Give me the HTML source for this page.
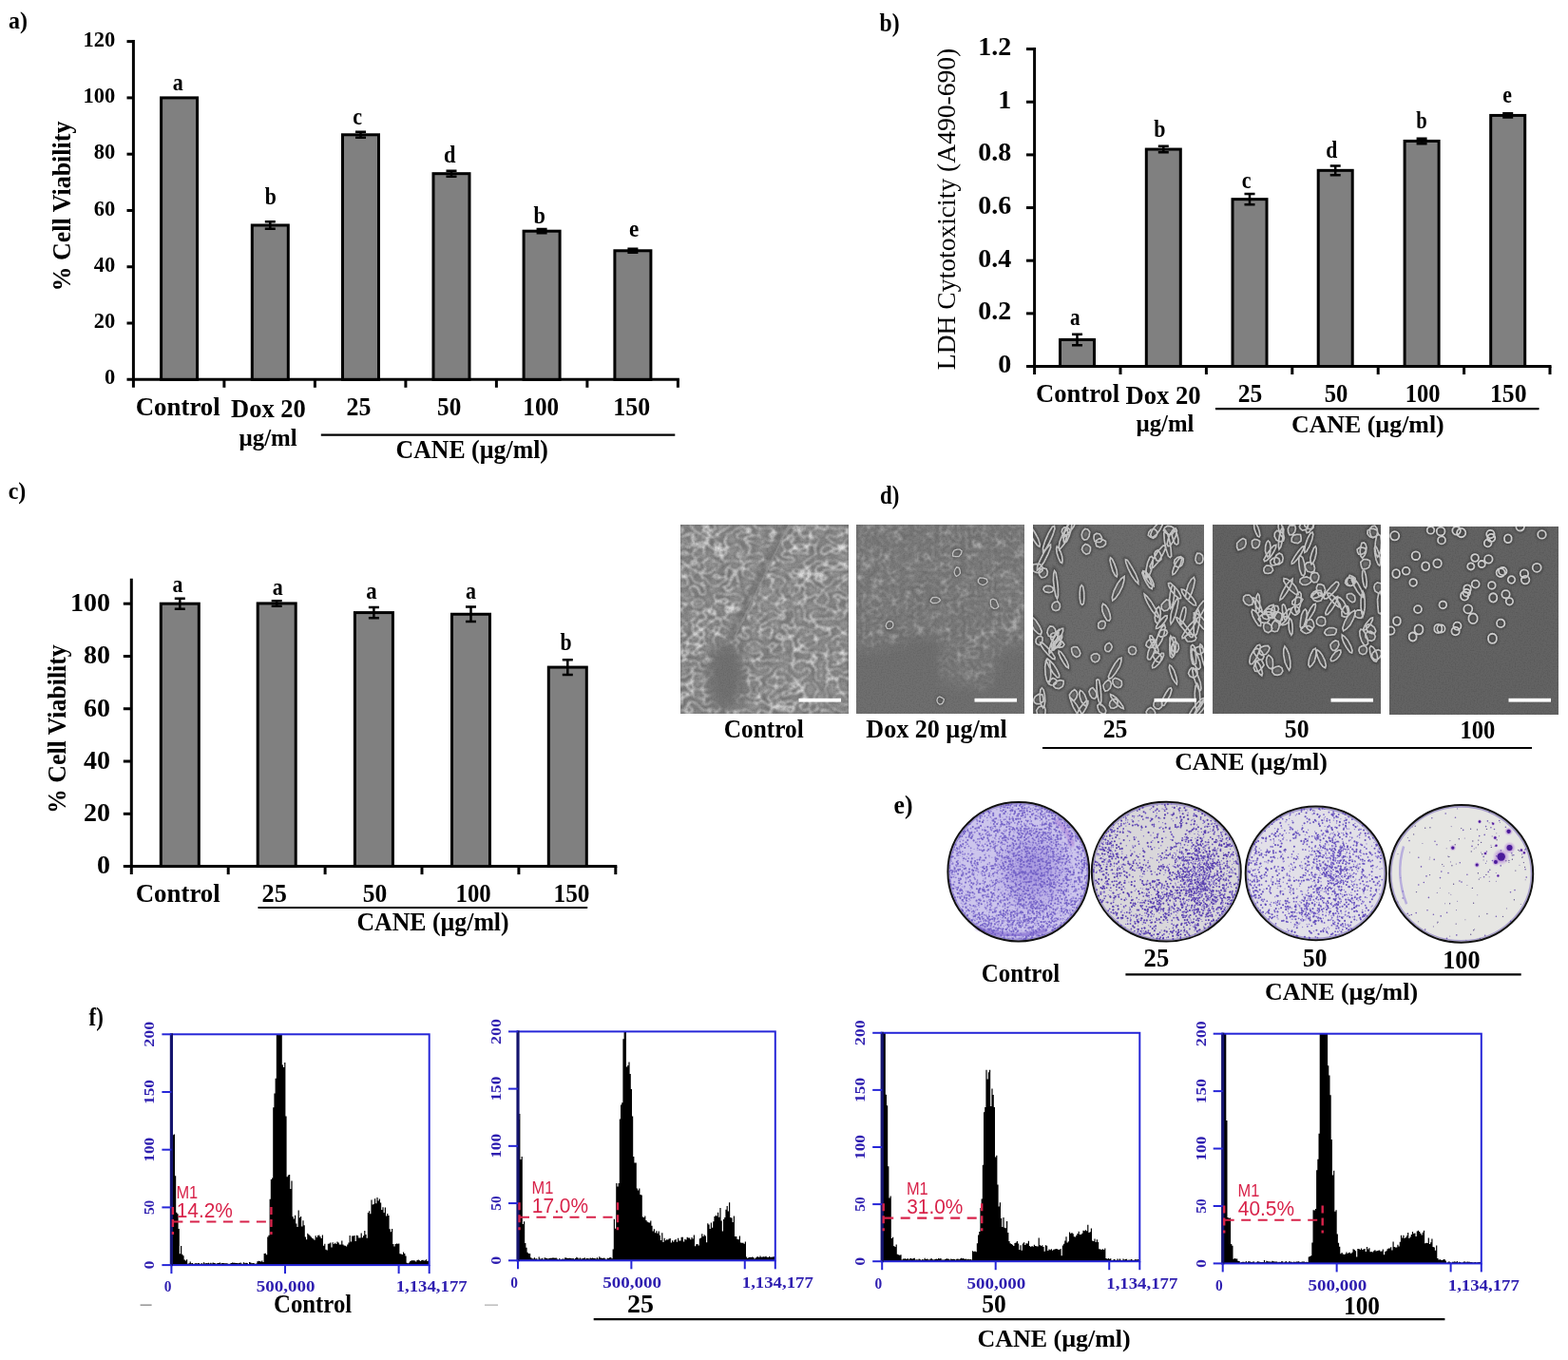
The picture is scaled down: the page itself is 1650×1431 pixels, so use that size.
<!DOCTYPE html>
<html><head><meta charset="utf-8"><title>Figure</title>
<style>html,body{margin:0;padding:0;background:#fff;overflow:hidden;} svg{display:block;}</style></head>
<body><svg width="1650" height="1431" viewBox="0 0 1650 1431">
<defs><filter id="sf" x="-10%" y="-10%" width="120%" height="120%"><feGaussianBlur stdDeviation="0.55"/></filter><filter id="sf2" x="-10%" y="-10%" width="120%" height="120%"><feGaussianBlur stdDeviation="1.2"/></filter><filter id="bl4" x="-50%" y="-50%" width="200%" height="200%"><feGaussianBlur stdDeviation="7"/></filter><filter id="grain" x="0" y="0" width="100%" height="100%"><feTurbulence type="fractalNoise" baseFrequency="0.7" numOctaves="1" seed="4"/><feColorMatrix type="matrix" values="0 0 0 0 0  0 0 0 0 0  0 0 0 0 0  0 0 0 -2.2 1.25"/><feComposite in2="SourceGraphic" operator="in"/></filter><filter id="cellnet" x="0" y="0" width="100%" height="100%"><feTurbulence type="turbulence" baseFrequency="0.085 0.115" numOctaves="1" seed="2" result="t"/><feColorMatrix in="t" type="matrix" values="0 0 0 0 0.86  0 0 0 0 0.86  0 0 0 0 0.86  -10 0 0 0 0.95" result="lines"/><feColorMatrix in="t" type="matrix" values="0 0 0 0 0.3  0 0 0 0 0.3  0 0 0 0 0.3  2.5 0 0 0 -0.2" result="dark"/><feMerge><feMergeNode in="dark"/><feMergeNode in="lines"/></feMerge><feGaussianBlur stdDeviation="0.85"/><feComposite in2="SourceGraphic" operator="in"/></filter><mask id="m0" maskUnits="userSpaceOnUse" x="716" y="552" width="177" height="199"><rect x="716" y="552" width="177" height="199" fill="#fff"/><ellipse cx="763.8" cy="711.2" rx="20" ry="38" fill="#000" filter="url(#bl4)"/><path d="M829.3,547.0 L769.1,671.4" stroke="#000" stroke-width="9" opacity="0.7" filter="url(#sf2)"/></mask><filter id="cellnet2" x="0" y="0" width="100%" height="100%"><feTurbulence type="turbulence" baseFrequency="0.11 0.13" numOctaves="1" seed="5" result="t"/><feColorMatrix in="t" type="matrix" values="0 0 0 0 0.66  0 0 0 0 0.66  0 0 0 0 0.66  -12 0 0 0 0.85" result="lines"/><feColorMatrix in="t" type="matrix" values="0 0 0 0 0.25  0 0 0 0 0.25  0 0 0 0 0.25  2.2 0 0 0 -0.3" result="dark"/><feMerge><feMergeNode in="dark"/><feMergeNode in="lines"/></feMerge><feGaussianBlur stdDeviation="0.95"/><feComposite in2="SourceGraphic" operator="in"/></filter><mask id="m1" maskUnits="userSpaceOnUse" x="901" y="552" width="177" height="199"><path d="M891,542 H1088 V675.4 L1051.5,683.3 L1039.1,723.1 L993.0,719.2 L989.5,661.5 L936.4,679.4 L891,687.3Z" fill="#fff" opacity="0.8" filter="url(#bl4)"/></mask><radialGradient id="p0g"><stop offset="0" stop-color="#8a74d6" stop-opacity="0.55"/><stop offset="1" stop-color="#8a74d6" stop-opacity="0"/></radialGradient><radialGradient id="colh"><stop offset="0.35" stop-color="#7a2cc0" stop-opacity="0.55"/><stop offset="1" stop-color="#b070e0" stop-opacity="0"/></radialGradient></defs>
<text x="9.10" y="29.70" font-size="26" font-weight="bold" fill="#000" font-family="'Liberation Serif', 'Times New Roman', serif" textLength="20.00" lengthAdjust="spacingAndGlyphs">a)</text>
<line x1="140.40" y1="42.10" x2="140.40" y2="407.80" stroke="#000" stroke-width="3"/>
<line x1="133.50" y1="399.30" x2="714.90" y2="399.30" stroke="#000" stroke-width="3"/>
<text x="121.30" y="404.40" font-size="22.5" font-weight="bold" fill="#000" font-family="'Liberation Serif', 'Times New Roman', serif" text-anchor="end">0</text>
<line x1="133.50" y1="340.02" x2="140.40" y2="340.02" stroke="#000" stroke-width="3"/>
<text x="121.30" y="345.12" font-size="22.5" font-weight="bold" fill="#000" font-family="'Liberation Serif', 'Times New Roman', serif" text-anchor="end">20</text>
<line x1="133.50" y1="280.74" x2="140.40" y2="280.74" stroke="#000" stroke-width="3"/>
<text x="121.30" y="285.84" font-size="22.5" font-weight="bold" fill="#000" font-family="'Liberation Serif', 'Times New Roman', serif" text-anchor="end">40</text>
<line x1="133.50" y1="221.46" x2="140.40" y2="221.46" stroke="#000" stroke-width="3"/>
<text x="121.30" y="226.56" font-size="22.5" font-weight="bold" fill="#000" font-family="'Liberation Serif', 'Times New Roman', serif" text-anchor="end">60</text>
<line x1="133.50" y1="162.18" x2="140.40" y2="162.18" stroke="#000" stroke-width="3"/>
<text x="121.30" y="167.28" font-size="22.5" font-weight="bold" fill="#000" font-family="'Liberation Serif', 'Times New Roman', serif" text-anchor="end">80</text>
<line x1="133.50" y1="102.90" x2="140.40" y2="102.90" stroke="#000" stroke-width="3"/>
<text x="121.30" y="108.00" font-size="22.5" font-weight="bold" fill="#000" font-family="'Liberation Serif', 'Times New Roman', serif" text-anchor="end">100</text>
<line x1="133.50" y1="43.62" x2="140.40" y2="43.62" stroke="#000" stroke-width="3"/>
<text x="121.30" y="48.72" font-size="22.5" font-weight="bold" fill="#000" font-family="'Liberation Serif', 'Times New Roman', serif" text-anchor="end">120</text>
<line x1="235.90" y1="399.30" x2="235.90" y2="407.80" stroke="#000" stroke-width="3"/>
<line x1="331.40" y1="399.30" x2="331.40" y2="407.80" stroke="#000" stroke-width="3"/>
<line x1="426.90" y1="399.30" x2="426.90" y2="407.80" stroke="#000" stroke-width="3"/>
<line x1="522.40" y1="399.30" x2="522.40" y2="407.80" stroke="#000" stroke-width="3"/>
<line x1="617.90" y1="399.30" x2="617.90" y2="407.80" stroke="#000" stroke-width="3"/>
<line x1="713.40" y1="399.30" x2="713.40" y2="407.80" stroke="#000" stroke-width="3"/>
<rect x="169.60" y="102.90" width="38.00" height="296.40" fill="#808080" stroke="#000" stroke-width="3"/>
<rect x="265.30" y="236.99" width="38.00" height="162.31" fill="#808080" stroke="#000" stroke-width="3"/>
<path d="M284.30 233.23V240.76M278.80 233.23H289.80M278.80 240.76H289.80" stroke="#000" stroke-width="2.5" fill="none"/>
<rect x="360.50" y="141.79" width="38.00" height="257.51" fill="#808080" stroke="#000" stroke-width="3"/>
<path d="M379.50 138.82V144.75M374.00 138.82H385.00M374.00 144.75H385.00" stroke="#000" stroke-width="2.5" fill="none"/>
<rect x="456.00" y="182.69" width="38.00" height="216.61" fill="#808080" stroke="#000" stroke-width="3"/>
<path d="M475.00 179.73V185.65M469.50 179.73H480.50M469.50 185.65H480.50" stroke="#000" stroke-width="2.5" fill="none"/>
<rect x="551.10" y="243.19" width="38.00" height="156.11" fill="#808080" stroke="#000" stroke-width="3"/>
<path d="M570.10 241.11V245.26M564.60 241.11H575.60M564.60 245.26H575.60" stroke="#000" stroke-width="2.5" fill="none"/>
<rect x="646.90" y="263.79" width="38.00" height="135.51" fill="#808080" stroke="#000" stroke-width="3"/>
<path d="M665.90 261.71V265.86M660.40 261.71H671.40M660.40 265.86H671.40" stroke="#000" stroke-width="2.5" fill="none"/>
<text x="74.50" y="306.60" font-size="27.5" font-weight="bold" fill="#000" font-family="'Liberation Serif', 'Times New Roman', serif" textLength="179.00" lengthAdjust="spacingAndGlyphs" transform="rotate(-90 74.50 306.60)">% Cell Viability</text>
<text x="181.80" y="95.00" font-size="25" font-weight="bold" fill="#000" font-family="'Liberation Serif', 'Times New Roman', serif" textLength="11.00" lengthAdjust="spacingAndGlyphs">a</text>
<text x="278.80" y="215.30" font-size="25" font-weight="bold" fill="#000" font-family="'Liberation Serif', 'Times New Roman', serif" textLength="12.10" lengthAdjust="spacingAndGlyphs">b</text>
<text x="371.20" y="130.50" font-size="25" font-weight="bold" fill="#000" font-family="'Liberation Serif', 'Times New Roman', serif" textLength="9.80" lengthAdjust="spacingAndGlyphs">c</text>
<text x="467.00" y="170.60" font-size="25" font-weight="bold" fill="#000" font-family="'Liberation Serif', 'Times New Roman', serif" textLength="12.50" lengthAdjust="spacingAndGlyphs">d</text>
<text x="561.40" y="234.50" font-size="25" font-weight="bold" fill="#000" font-family="'Liberation Serif', 'Times New Roman', serif" textLength="12.40" lengthAdjust="spacingAndGlyphs">b</text>
<text x="661.90" y="249.00" font-size="25" font-weight="bold" fill="#000" font-family="'Liberation Serif', 'Times New Roman', serif" textLength="10.30" lengthAdjust="spacingAndGlyphs">e</text>
<text x="142.70" y="436.80" font-size="27.5" font-weight="bold" fill="#000" font-family="'Liberation Serif', 'Times New Roman', serif" textLength="89.10" lengthAdjust="spacingAndGlyphs">Control</text>
<text x="243.00" y="438.60" font-size="27.3" font-weight="bold" fill="#000" font-family="'Liberation Serif', 'Times New Roman', serif" textLength="78.80" lengthAdjust="spacingAndGlyphs">Dox 20</text>
<text x="251.50" y="468.60" font-size="25.5" font-weight="bold" fill="#000" font-family="'Liberation Serif', 'Times New Roman', serif" textLength="61.20" lengthAdjust="spacingAndGlyphs">µg/ml</text>
<text x="364.50" y="436.80" font-size="26.8" font-weight="bold" fill="#000" font-family="'Liberation Serif', 'Times New Roman', serif" textLength="25.90" lengthAdjust="spacingAndGlyphs">25</text>
<text x="460.10" y="436.80" font-size="26.8" font-weight="bold" fill="#000" font-family="'Liberation Serif', 'Times New Roman', serif" textLength="25.20" lengthAdjust="spacingAndGlyphs">50</text>
<text x="550.30" y="436.80" font-size="26.8" font-weight="bold" fill="#000" font-family="'Liberation Serif', 'Times New Roman', serif" textLength="37.80" lengthAdjust="spacingAndGlyphs">100</text>
<text x="645.30" y="436.80" font-size="26.8" font-weight="bold" fill="#000" font-family="'Liberation Serif', 'Times New Roman', serif" textLength="38.80" lengthAdjust="spacingAndGlyphs">150</text>
<line x1="337.80" y1="457.70" x2="710.30" y2="457.70" stroke="#000" stroke-width="2.2"/>
<text x="416.50" y="481.70" font-size="27" font-weight="bold" fill="#000" font-family="'Liberation Serif', 'Times New Roman', serif" textLength="160.41" lengthAdjust="spacingAndGlyphs">CANE (µg/ml)</text>
<text x="925.50" y="32.60" font-size="26.5" font-weight="bold" fill="#000" font-family="'Liberation Serif', 'Times New Roman', serif" textLength="21.10" lengthAdjust="spacingAndGlyphs">b)</text>
<line x1="1088.60" y1="50.10" x2="1088.60" y2="394.00" stroke="#000" stroke-width="3"/>
<line x1="1080.00" y1="385.50" x2="1632.50" y2="385.50" stroke="#000" stroke-width="3"/>
<text x="1064.20" y="391.80" font-size="28" font-weight="bold" fill="#000" font-family="'Liberation Serif', 'Times New Roman', serif" text-anchor="end">0</text>
<line x1="1080.00" y1="329.85" x2="1088.60" y2="329.85" stroke="#000" stroke-width="3"/>
<text x="1064.20" y="336.15" font-size="28" font-weight="bold" fill="#000" font-family="'Liberation Serif', 'Times New Roman', serif" text-anchor="end">0.2</text>
<line x1="1080.00" y1="274.20" x2="1088.60" y2="274.20" stroke="#000" stroke-width="3"/>
<text x="1064.20" y="280.50" font-size="28" font-weight="bold" fill="#000" font-family="'Liberation Serif', 'Times New Roman', serif" text-anchor="end">0.4</text>
<line x1="1080.00" y1="218.55" x2="1088.60" y2="218.55" stroke="#000" stroke-width="3"/>
<text x="1064.20" y="224.85" font-size="28" font-weight="bold" fill="#000" font-family="'Liberation Serif', 'Times New Roman', serif" text-anchor="end">0.6</text>
<line x1="1080.00" y1="162.90" x2="1088.60" y2="162.90" stroke="#000" stroke-width="3"/>
<text x="1064.20" y="169.20" font-size="28" font-weight="bold" fill="#000" font-family="'Liberation Serif', 'Times New Roman', serif" text-anchor="end">0.8</text>
<line x1="1080.00" y1="107.25" x2="1088.60" y2="107.25" stroke="#000" stroke-width="3"/>
<text x="1064.20" y="113.55" font-size="28" font-weight="bold" fill="#000" font-family="'Liberation Serif', 'Times New Roman', serif" text-anchor="end">1</text>
<line x1="1080.00" y1="51.60" x2="1088.60" y2="51.60" stroke="#000" stroke-width="3"/>
<text x="1064.20" y="57.90" font-size="28" font-weight="bold" fill="#000" font-family="'Liberation Serif', 'Times New Roman', serif" text-anchor="end">1.2</text>
<line x1="1179.00" y1="385.50" x2="1179.00" y2="394.00" stroke="#000" stroke-width="3"/>
<line x1="1269.40" y1="385.50" x2="1269.40" y2="394.00" stroke="#000" stroke-width="3"/>
<line x1="1359.80" y1="385.50" x2="1359.80" y2="394.00" stroke="#000" stroke-width="3"/>
<line x1="1450.20" y1="385.50" x2="1450.20" y2="394.00" stroke="#000" stroke-width="3"/>
<line x1="1540.60" y1="385.50" x2="1540.60" y2="394.00" stroke="#000" stroke-width="3"/>
<line x1="1631.00" y1="385.50" x2="1631.00" y2="394.00" stroke="#000" stroke-width="3"/>
<rect x="1115.50" y="357.40" width="36.00" height="28.10" fill="#808080" stroke="#000" stroke-width="3"/>
<path d="M1133.50 351.64V363.16M1128.00 351.64H1139.00M1128.00 363.16H1139.00" stroke="#000" stroke-width="2.5" fill="none"/>
<rect x="1206.30" y="157.06" width="36.00" height="228.44" fill="#808080" stroke="#000" stroke-width="3"/>
<path d="M1224.30 153.86V160.26M1218.80 153.86H1229.80M1218.80 160.26H1229.80" stroke="#000" stroke-width="2.5" fill="none"/>
<rect x="1297.00" y="209.65" width="36.00" height="175.85" fill="#808080" stroke="#000" stroke-width="3"/>
<path d="M1315.00 203.94V215.35M1309.50 203.94H1320.50M1309.50 215.35H1320.50" stroke="#000" stroke-width="2.5" fill="none"/>
<rect x="1387.20" y="179.32" width="36.00" height="206.18" fill="#808080" stroke="#000" stroke-width="3"/>
<path d="M1405.20 174.50V184.13M1399.70 174.50H1410.70M1399.70 184.13H1410.70" stroke="#000" stroke-width="2.5" fill="none"/>
<rect x="1478.10" y="148.43" width="36.00" height="237.07" fill="#808080" stroke="#000" stroke-width="3"/>
<path d="M1496.10 145.73V151.13M1490.60 145.73H1501.60M1490.60 151.13H1501.60" stroke="#000" stroke-width="2.5" fill="none"/>
<rect x="1568.70" y="121.44" width="36.00" height="264.06" fill="#808080" stroke="#000" stroke-width="3"/>
<path d="M1586.70 119.35V123.53M1581.20 119.35H1592.20M1581.20 123.53H1592.20" stroke="#000" stroke-width="2.5" fill="none"/>
<text x="1005.20" y="389.20" font-size="26.5" font-weight="normal" fill="#000" font-family="'Liberation Serif', 'Times New Roman', serif" textLength="338.51" lengthAdjust="spacingAndGlyphs" transform="rotate(-90 1005.20 389.20)">LDH Cytotoxicity (A490-690)</text>
<text x="1125.90" y="342.20" font-size="24.5" font-weight="bold" fill="#000" font-family="'Liberation Serif', 'Times New Roman', serif" textLength="10.60" lengthAdjust="spacingAndGlyphs">a</text>
<text x="1214.20" y="143.80" font-size="24.5" font-weight="bold" fill="#000" font-family="'Liberation Serif', 'Times New Roman', serif" textLength="12.20" lengthAdjust="spacingAndGlyphs">b</text>
<text x="1306.70" y="197.60" font-size="24.5" font-weight="bold" fill="#000" font-family="'Liberation Serif', 'Times New Roman', serif" textLength="9.80" lengthAdjust="spacingAndGlyphs">c</text>
<text x="1395.30" y="165.80" font-size="24.5" font-weight="bold" fill="#000" font-family="'Liberation Serif', 'Times New Roman', serif" textLength="12.10" lengthAdjust="spacingAndGlyphs">d</text>
<text x="1490.30" y="135.20" font-size="24.5" font-weight="bold" fill="#000" font-family="'Liberation Serif', 'Times New Roman', serif" textLength="11.50" lengthAdjust="spacingAndGlyphs">b</text>
<text x="1581.20" y="108.10" font-size="24.5" font-weight="bold" fill="#000" font-family="'Liberation Serif', 'Times New Roman', serif" textLength="9.70" lengthAdjust="spacingAndGlyphs">e</text>
<text x="1090.00" y="423.20" font-size="26.5" font-weight="bold" fill="#000" font-family="'Liberation Serif', 'Times New Roman', serif" textLength="88.20" lengthAdjust="spacingAndGlyphs">Control</text>
<text x="1184.50" y="424.50" font-size="27" font-weight="bold" fill="#000" font-family="'Liberation Serif', 'Times New Roman', serif" textLength="79.10" lengthAdjust="spacingAndGlyphs">Dox 20</text>
<text x="1195.50" y="454.00" font-size="25.5" font-weight="bold" fill="#000" font-family="'Liberation Serif', 'Times New Roman', serif" textLength="60.90" lengthAdjust="spacingAndGlyphs">µg/ml</text>
<text x="1302.70" y="422.60" font-size="27" font-weight="bold" fill="#000" font-family="'Liberation Serif', 'Times New Roman', serif" textLength="25.50" lengthAdjust="spacingAndGlyphs">25</text>
<text x="1393.70" y="422.60" font-size="27" font-weight="bold" fill="#000" font-family="'Liberation Serif', 'Times New Roman', serif" textLength="24.60" lengthAdjust="spacingAndGlyphs">50</text>
<text x="1478.80" y="422.60" font-size="27" font-weight="bold" fill="#000" font-family="'Liberation Serif', 'Times New Roman', serif" textLength="36.80" lengthAdjust="spacingAndGlyphs">100</text>
<text x="1568.00" y="422.60" font-size="27" font-weight="bold" fill="#000" font-family="'Liberation Serif', 'Times New Roman', serif" textLength="38.50" lengthAdjust="spacingAndGlyphs">150</text>
<line x1="1279.00" y1="430.20" x2="1619.50" y2="430.20" stroke="#000" stroke-width="2.2"/>
<text x="1359.00" y="454.70" font-size="26" font-weight="bold" fill="#000" font-family="'Liberation Serif', 'Times New Roman', serif" textLength="160.71" lengthAdjust="spacingAndGlyphs">CANE (µg/ml)</text>
<text x="8.70" y="525.10" font-size="26" font-weight="bold" fill="#000" font-family="'Liberation Serif', 'Times New Roman', serif" textLength="18.60" lengthAdjust="spacingAndGlyphs">c)</text>
<line x1="138.30" y1="608.70" x2="138.30" y2="920.10" stroke="#000" stroke-width="3"/>
<line x1="129.80" y1="911.60" x2="649.30" y2="911.60" stroke="#000" stroke-width="3"/>
<text x="115.90" y="919.40" font-size="28" font-weight="bold" fill="#000" font-family="'Liberation Serif', 'Times New Roman', serif" text-anchor="end">0</text>
<line x1="129.80" y1="856.32" x2="138.30" y2="856.32" stroke="#000" stroke-width="3"/>
<text x="115.90" y="864.12" font-size="28" font-weight="bold" fill="#000" font-family="'Liberation Serif', 'Times New Roman', serif" text-anchor="end">20</text>
<line x1="129.80" y1="801.04" x2="138.30" y2="801.04" stroke="#000" stroke-width="3"/>
<text x="115.90" y="808.84" font-size="28" font-weight="bold" fill="#000" font-family="'Liberation Serif', 'Times New Roman', serif" text-anchor="end">40</text>
<line x1="129.80" y1="745.76" x2="138.30" y2="745.76" stroke="#000" stroke-width="3"/>
<text x="115.90" y="753.56" font-size="28" font-weight="bold" fill="#000" font-family="'Liberation Serif', 'Times New Roman', serif" text-anchor="end">60</text>
<line x1="129.80" y1="690.48" x2="138.30" y2="690.48" stroke="#000" stroke-width="3"/>
<text x="115.90" y="698.28" font-size="28" font-weight="bold" fill="#000" font-family="'Liberation Serif', 'Times New Roman', serif" text-anchor="end">80</text>
<line x1="129.80" y1="635.20" x2="138.30" y2="635.20" stroke="#000" stroke-width="3"/>
<text x="115.90" y="643.00" font-size="28" font-weight="bold" fill="#000" font-family="'Liberation Serif', 'Times New Roman', serif" text-anchor="end">100</text>
<line x1="240.20" y1="911.60" x2="240.20" y2="920.10" stroke="#000" stroke-width="3"/>
<line x1="342.10" y1="911.60" x2="342.10" y2="920.10" stroke="#000" stroke-width="3"/>
<line x1="444.00" y1="911.60" x2="444.00" y2="920.10" stroke="#000" stroke-width="3"/>
<line x1="545.90" y1="911.60" x2="545.90" y2="920.10" stroke="#000" stroke-width="3"/>
<line x1="647.80" y1="911.60" x2="647.80" y2="920.10" stroke="#000" stroke-width="3"/>
<rect x="169.30" y="635.20" width="40.00" height="276.40" fill="#808080" stroke="#000" stroke-width="3"/>
<path d="M189.30 629.67V640.73M183.80 629.67H194.80M183.80 640.73H194.80" stroke="#000" stroke-width="2.5" fill="none"/>
<rect x="271.20" y="634.92" width="40.00" height="276.68" fill="#808080" stroke="#000" stroke-width="3"/>
<path d="M291.20 632.16V637.69M285.70 632.16H296.70M285.70 637.69H296.70" stroke="#000" stroke-width="2.5" fill="none"/>
<rect x="373.40" y="644.60" width="40.00" height="267.00" fill="#808080" stroke="#000" stroke-width="3"/>
<path d="M393.40 639.07V650.13M387.90 639.07H398.90M387.90 650.13H398.90" stroke="#000" stroke-width="2.5" fill="none"/>
<rect x="475.50" y="646.26" width="40.00" height="265.34" fill="#808080" stroke="#000" stroke-width="3"/>
<path d="M495.50 638.41V654.11M490.00 638.41H501.00M490.00 654.11H501.00" stroke="#000" stroke-width="2.5" fill="none"/>
<rect x="577.30" y="702.09" width="40.00" height="209.51" fill="#808080" stroke="#000" stroke-width="3"/>
<path d="M597.30 694.18V709.99M591.80 694.18H602.80M591.80 709.99H602.80" stroke="#000" stroke-width="2.5" fill="none"/>
<text x="69.50" y="855.90" font-size="27.5" font-weight="bold" fill="#000" font-family="'Liberation Serif', 'Times New Roman', serif" textLength="177.60" lengthAdjust="spacingAndGlyphs" transform="rotate(-90 69.50 855.90)">% Cell Viability</text>
<text x="181.60" y="622.90" font-size="26" font-weight="bold" fill="#000" font-family="'Liberation Serif', 'Times New Roman', serif" textLength="10.90" lengthAdjust="spacingAndGlyphs">a</text>
<text x="286.80" y="625.50" font-size="26" font-weight="bold" fill="#000" font-family="'Liberation Serif', 'Times New Roman', serif" textLength="11.00" lengthAdjust="spacingAndGlyphs">a</text>
<text x="385.30" y="630.30" font-size="26" font-weight="bold" fill="#000" font-family="'Liberation Serif', 'Times New Roman', serif" textLength="11.40" lengthAdjust="spacingAndGlyphs">a</text>
<text x="490.00" y="630.30" font-size="26" font-weight="bold" fill="#000" font-family="'Liberation Serif', 'Times New Roman', serif" textLength="11.00" lengthAdjust="spacingAndGlyphs">a</text>
<text x="589.40" y="683.60" font-size="26" font-weight="bold" fill="#000" font-family="'Liberation Serif', 'Times New Roman', serif" textLength="12.10" lengthAdjust="spacingAndGlyphs">b</text>
<text x="142.70" y="949.30" font-size="27.5" font-weight="bold" fill="#000" font-family="'Liberation Serif', 'Times New Roman', serif" textLength="89.10" lengthAdjust="spacingAndGlyphs">Control</text>
<text x="275.50" y="949.30" font-size="27.5" font-weight="bold" fill="#000" font-family="'Liberation Serif', 'Times New Roman', serif" textLength="26.30" lengthAdjust="spacingAndGlyphs">25</text>
<text x="381.80" y="949.30" font-size="27.5" font-weight="bold" fill="#000" font-family="'Liberation Serif', 'Times New Roman', serif" textLength="25.50" lengthAdjust="spacingAndGlyphs">50</text>
<text x="479.50" y="949.30" font-size="27.5" font-weight="bold" fill="#000" font-family="'Liberation Serif', 'Times New Roman', serif" textLength="37.20" lengthAdjust="spacingAndGlyphs">100</text>
<text x="582.60" y="949.30" font-size="27.5" font-weight="bold" fill="#000" font-family="'Liberation Serif', 'Times New Roman', serif" textLength="37.90" lengthAdjust="spacingAndGlyphs">150</text>
<line x1="271.50" y1="955.00" x2="618.20" y2="955.00" stroke="#000" stroke-width="2.2"/>
<text x="375.50" y="979.00" font-size="26.5" font-weight="bold" fill="#000" font-family="'Liberation Serif', 'Times New Roman', serif" textLength="160.11" lengthAdjust="spacingAndGlyphs">CANE (µg/ml)</text>
<text x="925.90" y="529.70" font-size="26.5" font-weight="bold" fill="#000" font-family="'Liberation Serif', 'Times New Roman', serif" textLength="20.40" lengthAdjust="spacingAndGlyphs">d)</text>
<clipPath id="ci0"><rect x="716.0" y="552.0" width="177.0" height="199.0"/></clipPath>
<g clip-path="url(#ci0)">
<rect x="716.0" y="552.0" width="177.0" height="199.0" fill="#717171"/>
<g mask="url(#m0)"><rect x="716" y="552" width="177" height="199" fill="#fff" filter="url(#cellnet)"/></g>
<path d="M832.8,547.0 L772.6,671.4" stroke="#9a9a9a" stroke-width="2" opacity="0.6" filter="url(#sf)"/>
<rect x="716.0" y="552.0" width="177.0" height="199.0" fill="#000" filter="url(#grain)" opacity="0.12"/>
</g>
<rect x="840.5" y="734.8" width="44.5" height="3.8" fill="#fff"/>
<clipPath id="ci1"><rect x="901.0" y="552.0" width="177.0" height="199.0"/></clipPath>
<g clip-path="url(#ci1)">
<rect x="901.0" y="552.0" width="177.0" height="199.0" fill="#6f6f6f"/>
<g mask="url(#m1)"><rect x="901" y="552" width="177" height="199" fill="#fff" filter="url(#cellnet2)"/></g>
<path d="M1002.8,585.1L1002.5,582.2L1004.0,579.2L1007.2,578.2L1010.1,578.1L1012.2,579.9L1011.3,583.0L1008.9,585.6L1005.8,585.7Z M1006.5,606.5L1004.9,604.7L1004.1,602.1L1004.9,599.2L1006.7,596.8L1009.0,597.3L1010.1,600.0L1010.5,603.1L1008.6,605.3Z M989.6,631.6L987.7,633.5L985.0,634.5L981.4,634.6L979.1,632.7L979.8,630.6L981.5,628.6L985.1,628.5L988.1,629.5Z M933.7,661.4L932.1,658.9L932.9,656.0L934.8,653.9L937.5,653.7L939.5,655.1L940.0,657.6L939.1,660.1L936.6,661.7Z M991.4,740.4L988.9,741.2L986.7,739.4L985.9,736.9L986.6,734.4L988.7,733.0L991.1,734.1L993.4,735.8L992.7,738.4Z M1039.2,612.0L1037.4,614.3L1034.4,615.6L1031.3,614.5L1029.4,612.6L1029.4,610.2L1031.1,607.9L1034.8,608.2L1038.1,609.3Z M1048.6,640.2L1045.8,640.4L1043.0,638.4L1042.3,634.9L1042.4,631.5L1044.9,630.1L1048.0,631.3L1049.6,634.7L1050.8,638.3Z" fill="#5a5a5a" fill-opacity="0.3" stroke="#404040" stroke-opacity="0.5" stroke-width="3.4" filter="url(#sf2)"/>
<path d="M1002.8,585.1L1002.5,582.2L1004.0,579.2L1007.2,578.2L1010.1,578.1L1012.2,579.9L1011.3,583.0L1008.9,585.6L1005.8,585.7Z M1006.5,606.5L1004.9,604.7L1004.1,602.1L1004.9,599.2L1006.7,596.8L1009.0,597.3L1010.1,600.0L1010.5,603.1L1008.6,605.3Z M989.6,631.6L987.7,633.5L985.0,634.5L981.4,634.6L979.1,632.7L979.8,630.6L981.5,628.6L985.1,628.5L988.1,629.5Z M933.7,661.4L932.1,658.9L932.9,656.0L934.8,653.9L937.5,653.7L939.5,655.1L940.0,657.6L939.1,660.1L936.6,661.7Z M991.4,740.4L988.9,741.2L986.7,739.4L985.9,736.9L986.6,734.4L988.7,733.0L991.1,734.1L993.4,735.8L992.7,738.4Z M1039.2,612.0L1037.4,614.3L1034.4,615.6L1031.3,614.5L1029.4,612.6L1029.4,610.2L1031.1,607.9L1034.8,608.2L1038.1,609.3Z M1048.6,640.2L1045.8,640.4L1043.0,638.4L1042.3,634.9L1042.4,631.5L1044.9,630.1L1048.0,631.3L1049.6,634.7L1050.8,638.3Z" fill="none" stroke="#d8d8d8" stroke-opacity="0.85" stroke-width="1.3" filter="url(#sf)"/>
<rect x="901.0" y="552.0" width="177.0" height="199.0" fill="#000" filter="url(#grain)" opacity="0.12"/>
</g>
<rect x="1025.5" y="734.8" width="44.5" height="3.8" fill="#fff"/>
<clipPath id="ci2"><rect x="1087.0" y="552.0" width="180.0" height="199.0"/></clipPath>
<g clip-path="url(#ci2)">
<rect x="1087.0" y="552.0" width="180.0" height="199.0" fill="#6c6c6c"/>
<path d="M1108.5,620.6L1107.2,622.6L1103.9,623.7L1099.8,622.7L1097.9,620.2L1098.7,617.9L1101.2,616.4L1104.9,616.6L1107.8,618.3Z M1248.7,630.4L1247.4,628.4L1248.4,622.1L1250.4,615.0L1253.5,609.9L1256.3,607.4L1257.4,610.6L1256.1,617.2L1254.0,624.0L1250.9,630.2Z M1114.6,578.5L1114.2,575.3L1115.1,570.0L1117.8,563.4L1120.7,559.3L1123.3,556.8L1123.7,559.9L1122.3,565.5L1120.1,572.0L1117.2,575.8Z M1212.7,755.2L1209.6,755.1L1207.2,752.6L1206.1,749.1L1207.9,746.2L1210.9,744.6L1213.9,746.6L1215.7,749.7L1215.1,753.1Z M1093.6,754.0L1091.6,751.4L1090.6,747.6L1093.0,744.0L1096.3,743.0L1099.1,743.9L1100.2,747.1L1099.9,751.2L1097.0,754.4Z M1232.1,656.6L1231.5,653.1L1232.2,646.3L1234.5,638.1L1237.0,632.5L1239.1,629.5L1240.0,632.3L1238.9,639.4L1236.9,647.2L1234.4,653.4Z M1097.6,744.8L1096.0,742.5L1094.6,737.8L1094.3,731.1L1094.9,725.6L1096.4,723.8L1098.1,725.8L1099.3,731.0L1099.8,737.4L1099.0,742.3Z M1179.1,722.9L1176.4,723.6L1173.3,722.2L1171.0,718.9L1171.0,715.3L1173.4,713.4L1176.8,714.5L1180.2,716.8L1180.5,720.5Z M1216.1,745.4L1213.9,742.7L1214.2,739.3L1216.2,736.6L1219.6,736.2L1222.4,738.0L1223.0,741.0L1222.2,744.0L1219.5,746.0Z M1231.3,586.6L1229.4,585.1L1227.1,577.9L1225.3,569.1L1224.8,561.0L1226.0,557.7L1228.3,560.9L1230.6,568.3L1232.1,577.0L1232.7,585.1Z M1108.7,722.0L1108.9,719.3L1111.6,716.9L1115.5,715.6L1119.1,716.5L1119.1,719.5L1118.0,722.4L1114.3,724.5L1110.7,723.9Z M1256.2,652.8L1256.1,649.4L1258.2,643.8L1262.0,637.5L1266.3,632.4L1268.7,632.4L1269.1,635.2L1267.3,640.7L1263.4,647.4L1259.4,651.0Z M1217.2,655.6L1215.8,653.8L1215.2,649.7L1215.9,644.2L1217.6,639.8L1219.5,638.3L1220.7,641.0L1221.3,645.0L1220.8,650.6L1219.1,655.1Z M1257.2,753.9L1256.7,751.4L1259.8,745.0L1265.1,737.9L1269.7,733.5L1272.6,732.2L1272.4,735.3L1269.4,741.3L1264.7,747.9L1259.7,753.4Z M1170.8,631.9L1170.3,628.5L1172.1,621.9L1176.0,614.0L1180.0,608.7L1183.1,606.5L1182.8,611.0L1181.1,617.1L1177.7,624.0L1173.9,629.3Z M1208.5,694.0L1207.4,692.0L1208.1,686.4L1210.5,680.0L1213.3,675.6L1215.9,673.4L1216.7,676.4L1216.0,681.8L1213.6,688.4L1210.5,694.0Z M1149.6,695.6L1148.3,692.9L1148.4,689.9L1150.9,688.0L1154.1,687.6L1156.8,689.6L1156.9,693.0L1155.3,695.6L1152.4,696.8Z M1135.6,690.3L1132.7,691.5L1129.3,689.1L1127.8,685.5L1127.6,682.0L1130.0,680.5L1133.4,680.8L1135.8,684.1L1136.9,687.6Z M1233.5,692.0L1231.4,690.6L1230.8,684.0L1230.9,677.3L1232.3,671.1L1234.4,670.4L1236.5,671.4L1237.4,677.5L1236.9,684.2L1235.6,689.7Z M1242.6,629.5L1240.6,629.9L1236.1,625.8L1232.0,620.8L1229.8,616.4L1229.5,613.7L1231.5,613.4L1236.0,617.3L1240.2,622.5L1242.4,626.9Z M1257.5,669.3L1256.3,666.0L1256.1,659.0L1257.3,651.0L1258.9,645.0L1260.8,641.2L1262.0,644.6L1262.4,651.1L1261.3,659.8L1259.4,666.8Z M1210.9,598.1L1210.0,595.9L1213.5,588.5L1218.4,580.3L1223.8,574.1L1226.2,574.1L1226.4,577.1L1223.3,584.0L1218.5,591.7L1213.7,597.0Z M1192.1,688.7L1189.7,688.3L1187.7,685.9L1187.7,682.3L1189.8,680.5L1192.2,680.4L1194.7,681.4L1195.7,684.8L1194.5,687.8Z M1211.4,564.7L1210.8,562.3L1212.4,558.0L1215.9,553.3L1219.8,549.7L1222.3,549.9L1223.2,552.2L1220.8,557.0L1217.5,561.8L1213.4,565.5Z M1164.4,685.5L1162.8,683.5L1162.8,680.5L1164.5,677.8L1167.3,676.4L1169.2,678.2L1170.3,680.6L1169.1,683.5L1167.0,685.7Z M1207.9,680.9L1205.8,678.9L1206.7,675.7L1209.0,673.4L1212.1,673.0L1214.6,674.6L1214.4,677.8L1213.3,680.7L1210.4,681.6Z M1175.2,606.8L1173.5,605.6L1171.0,600.9L1169.1,594.6L1168.0,589.4L1168.5,586.8L1170.2,588.1L1172.7,593.1L1175.0,599.6L1175.6,604.4Z M1112.5,630.2L1110.9,627.0L1109.5,619.7L1108.4,610.6L1108.7,604.0L1109.6,600.6L1111.1,602.7L1112.5,610.8L1113.4,619.3L1113.4,626.7Z M1126.2,559.9L1124.9,562.3L1121.9,562.9L1118.4,562.5L1117.3,559.6L1117.8,557.0L1119.9,554.8L1123.5,555.0L1125.8,557.3Z M1127.7,736.7L1125.9,734.6L1125.4,731.0L1127.7,727.8L1130.7,725.7L1133.0,727.7L1133.8,730.6L1132.8,734.0L1130.5,737.1Z M1103.9,719.8L1103.2,717.3L1105.5,715.2L1108.0,713.5L1110.4,714.5L1112.2,716.2L1111.4,718.9L1108.9,720.9L1106.1,721.0Z M1091.2,677.7L1090.0,675.7L1090.1,672.9L1092.1,670.3L1095.0,669.3L1097.1,670.9L1097.0,673.8L1096.1,676.8L1093.5,678.7Z M1263.4,726.5L1261.7,726.0L1258.6,719.5L1255.8,711.5L1254.8,705.2L1255.5,703.0L1257.5,704.7L1260.3,710.4L1263.2,718.3L1264.0,724.2Z M1234.8,690.4L1233.2,688.6L1231.9,683.1L1231.1,677.0L1231.0,671.6L1231.9,669.1L1233.4,671.3L1234.9,676.3L1235.9,683.0L1235.6,687.6Z M1106.3,680.3L1106.0,677.6L1108.5,672.1L1112.3,666.0L1116.5,661.5L1118.6,661.3L1118.6,664.2L1116.6,669.1L1112.9,674.9L1108.7,679.8Z M1252.1,753.8L1251.4,751.8L1254.8,745.9L1259.4,740.2L1264.2,735.5L1267.4,734.3L1267.0,737.7L1263.5,743.4L1259.1,749.7L1254.6,753.4Z M1151.8,735.3L1149.2,734.4L1147.2,731.7L1145.9,727.8L1147.4,724.9L1149.9,723.6L1152.3,726.4L1154.0,729.7L1153.6,733.2Z M1106.3,670.1L1103.3,669.1L1101.9,665.5L1102.8,661.8L1104.9,658.8L1108.1,659.2L1110.3,661.9L1111.2,665.7L1109.8,669.8Z M1108.6,680.5L1107.6,678.3L1109.5,675.4L1112.2,672.6L1115.3,672.9L1116.9,674.8L1116.2,677.8L1114.0,680.6L1110.6,682.3Z M1134.2,753.1L1133.6,751.0L1135.4,746.5L1139.0,741.7L1142.6,737.9L1144.9,737.7L1144.8,740.5L1143.0,744.7L1140.0,749.7L1136.5,752.7Z M1260.3,747.8L1258.5,746.0L1257.5,738.2L1257.2,729.5L1258.0,721.7L1259.7,719.2L1261.4,722.8L1262.5,729.5L1262.9,738.4L1262.0,745.9Z M1140.7,759.4L1138.6,758.3L1134.3,752.4L1129.4,744.1L1127.0,737.9L1126.1,733.8L1129.2,736.8L1133.3,742.1L1137.7,750.1L1140.7,756.9Z M1104.3,687.5L1103.8,685.2L1105.5,678.8L1108.5,671.2L1111.8,664.8L1114.0,662.8L1113.8,666.7L1112.3,672.8L1109.4,680.5L1106.4,685.4Z M1095.5,667.3L1092.6,666.8L1088.4,662.8L1085.1,657.0L1082.4,651.3L1083.6,649.1L1086.1,649.0L1090.3,653.2L1093.9,659.0L1096.3,664.6Z M1255.3,713.0L1252.2,711.6L1250.5,708.5L1251.7,705.2L1253.9,702.7L1256.8,703.3L1259.6,704.9L1260.2,708.6L1258.5,711.9Z M1114.5,712.6L1112.5,712.8L1108.1,708.0L1104.3,701.8L1101.3,696.0L1101.6,693.3L1104.4,694.7L1108.4,698.8L1112.3,704.8L1114.7,710.1Z M1216.8,681.4L1216.1,678.5L1217.3,672.2L1219.8,664.8L1222.9,659.6L1225.4,657.5L1226.3,660.2L1225.0,666.9L1222.4,674.3L1219.4,679.0Z M1254.9,670.5L1253.2,670.5L1247.8,664.9L1242.5,658.6L1238.8,652.8L1237.6,649.3L1240.8,651.1L1245.7,655.9L1250.8,662.4L1255.3,668.8Z M1225.0,642.8L1222.3,640.4L1222.2,636.4L1224.6,633.5L1227.5,631.0L1230.9,632.1L1231.6,636.0L1230.7,639.4L1228.4,642.1Z M1218.6,686.6L1217.0,686.0L1214.0,681.5L1211.1,675.6L1209.8,670.7L1210.2,668.8L1211.8,668.9L1214.9,673.7L1217.8,680.0L1219.0,684.7Z M1258.5,637.0L1256.2,636.8L1251.6,633.1L1246.7,627.8L1243.7,622.9L1243.3,620.1L1245.9,620.5L1250.6,624.2L1255.5,629.7L1258.2,634.3Z M1236.8,595.6L1235.5,592.5L1236.2,589.0L1239.0,586.5L1242.5,585.6L1245.3,587.6L1245.0,591.4L1243.5,594.9L1240.0,597.0Z M1238.2,573.1L1236.3,572.1L1234.5,568.1L1233.3,563.3L1233.2,558.8L1234.6,557.2L1236.5,558.5L1238.5,561.9L1239.9,567.3L1239.8,571.9Z M1218.9,649.5L1216.7,648.0L1212.6,643.1L1207.8,635.2L1204.9,628.8L1204.2,625.2L1207.1,627.6L1211.4,632.9L1216.1,641.0L1219.2,647.6Z M1222.8,742.6L1222.3,740.2L1223.6,735.2L1226.8,729.3L1230.1,724.5L1232.2,723.8L1233.0,725.8L1231.4,731.3L1228.2,737.1L1224.9,742.2Z M1229.3,574.8L1228.0,572.7L1229.3,567.2L1231.5,561.5L1234.5,557.8L1237.2,556.0L1238.4,558.3L1237.3,563.9L1234.7,569.4L1231.7,574.0Z M1238.3,719.9L1236.3,717.8L1233.7,713.6L1231.5,707.2L1230.3,701.9L1230.9,699.8L1232.7,701.0L1235.4,705.3L1237.6,712.0L1238.6,717.0Z M1270.2,705.0L1268.5,703.6L1265.9,696.4L1263.8,687.9L1262.2,679.8L1263.1,677.8L1264.9,679.4L1267.5,686.7L1270.0,695.6L1270.6,701.9Z M1234.1,604.6L1233.8,602.1L1235.1,597.4L1237.9,591.6L1240.9,587.7L1243.0,586.7L1243.6,588.8L1242.1,593.8L1239.2,599.4L1236.3,603.4Z M1261.7,704.1L1259.3,703.1L1256.4,698.1L1254.6,691.6L1253.8,685.9L1254.9,682.8L1257.6,685.3L1260.2,689.8L1262.6,696.2L1263.3,702.2Z M1142.6,743.0L1140.3,741.3L1137.9,738.1L1136.3,733.2L1135.8,728.9L1136.7,726.4L1138.9,727.6L1141.5,731.1L1143.4,736.3L1143.7,740.7Z M1157.9,570.5L1155.0,570.5L1151.9,569.5L1151.0,566.2L1151.3,563.0L1153.9,561.2L1157.2,561.9L1159.1,564.9L1159.9,568.2Z M1108.1,641.5L1106.8,638.7L1107.5,635.7L1109.7,633.6L1113.1,633.0L1115.2,635.6L1115.5,638.7L1114.2,641.6L1111.0,642.5Z M1120.0,678.3L1118.2,680.7L1114.7,681.3L1111.1,680.7L1108.9,678.4L1109.3,675.7L1111.7,673.6L1115.7,673.6L1118.4,675.7Z M1244.2,671.6L1244.0,669.7L1247.1,664.2L1251.4,658.1L1255.3,654.3L1257.8,652.9L1258.3,654.6L1255.0,660.5L1250.4,666.6L1246.1,671.2Z M1216.5,661.4L1216.7,659.3L1218.9,655.5L1222.2,651.6L1226.0,648.1L1228.1,647.9L1228.2,650.0L1225.7,654.2L1222.0,658.5L1218.6,661.0Z M1124.3,702.9L1122.1,701.5L1119.0,697.3L1116.1,692.3L1114.0,687.2L1114.2,684.8L1116.4,686.1L1119.5,690.2L1122.7,695.8L1124.3,700.4Z M1109.9,693.6L1107.6,693.1L1103.0,689.0L1098.4,683.7L1095.2,678.8L1094.6,676.1L1096.7,676.1L1101.6,680.6L1106.7,686.3L1110.1,691.6Z M1112.4,674.7L1109.4,675.3L1106.4,673.3L1105.3,670.0L1106.0,667.2L1108.2,666.0L1111.1,666.0L1113.1,668.9L1113.3,671.9Z M1242.7,657.1L1241.9,654.6L1241.9,650.1L1243.4,644.4L1245.3,639.2L1246.9,638.8L1248.0,640.2L1247.7,645.1L1246.4,651.1L1244.4,655.5Z M1235.5,559.2L1233.9,561.7L1230.2,562.5L1227.0,560.7L1224.4,558.0L1225.7,555.1L1228.5,553.4L1232.4,553.8L1235.8,556.0Z M1207.2,607.7L1206.0,605.1L1206.1,599.4L1207.6,592.1L1210.0,586.4L1212.0,585.4L1213.3,587.4L1213.1,593.3L1211.4,600.4L1209.3,605.6Z M1264.5,687.6L1262.0,688.5L1259.5,687.2L1257.9,684.7L1258.0,681.6L1260.8,680.5L1263.6,680.5L1266.1,682.4L1266.5,685.5Z M1107.0,684.3L1107.0,681.9L1108.6,677.6L1111.8,672.6L1115.0,669.4L1117.5,668.0L1117.7,670.4L1115.7,675.1L1112.5,680.1L1109.0,684.0Z M1236.5,686.9L1234.3,685.1L1232.9,681.9L1233.7,678.1L1235.4,675.4L1237.9,675.4L1239.9,678.0L1240.5,682.1L1238.9,685.6Z M1162.9,727.2L1161.5,724.5L1160.9,721.1L1163.1,717.8L1165.7,715.8L1168.2,716.7L1169.4,719.8L1168.4,723.9L1165.7,726.5Z M1153.0,571.4L1153.8,568.5L1157.0,566.6L1160.5,567.8L1163.5,569.6L1163.5,572.7L1161.0,575.0L1157.3,575.9L1153.8,574.5Z M1120.1,571.6L1119.1,568.7L1119.6,562.6L1121.8,556.0L1124.3,550.6L1126.8,548.2L1127.9,550.8L1127.2,557.1L1125.1,563.9L1122.5,569.6Z M1167.0,714.6L1166.4,711.9L1169.2,705.3L1173.1,698.5L1177.3,693.3L1180.0,692.2L1179.8,695.9L1178.3,701.2L1174.0,708.0L1169.9,713.0Z M1167.3,653.1L1164.9,652.8L1162.2,648.3L1160.0,643.0L1159.6,638.2L1160.7,635.3L1163.4,636.9L1166.1,640.9L1168.0,646.2L1168.6,650.9Z M1117.6,592.5L1115.8,591.4L1113.7,586.8L1112.1,581.7L1111.6,577.4L1112.2,575.0L1114.0,576.5L1116.0,580.6L1117.7,585.6L1118.1,589.9Z M1158.0,741.2L1156.4,738.3L1154.8,731.8L1154.0,723.4L1153.8,715.7L1155.0,714.8L1156.5,715.5L1158.0,722.9L1158.7,730.8L1158.8,737.5Z M1088.4,738.9L1087.6,736.1L1089.4,732.8L1093.0,730.5L1096.9,731.1L1097.8,734.3L1098.0,737.8L1094.5,740.4L1090.8,740.7Z M1256.8,699.5L1254.9,698.5L1253.5,692.5L1253.0,685.8L1253.3,679.8L1254.9,678.4L1256.6,680.0L1258.0,685.5L1258.6,691.9L1258.5,698.3Z M1169.0,744.9L1167.4,742.2L1168.0,738.8L1170.2,736.2L1173.1,735.4L1175.8,736.5L1176.1,739.8L1175.4,743.4L1172.2,745.1Z M1212.1,619.6L1209.5,618.0L1206.5,613.6L1203.9,608.4L1201.9,602.8L1202.8,600.7L1205.2,602.1L1208.3,605.8L1210.8,611.5L1212.7,617.0Z M1219.7,590.6L1217.0,589.5L1215.3,586.2L1214.8,582.5L1216.1,580.0L1218.2,578.8L1220.4,581.2L1221.9,584.6L1221.9,588.7Z M1097.0,600.3L1094.3,602.7L1090.5,602.4L1086.9,600.7L1086.4,597.2L1087.0,593.9L1090.7,593.3L1094.5,593.7L1097.0,596.8Z M1163.1,750.5L1160.4,751.2L1157.0,748.9L1155.4,745.5L1154.8,742.4L1156.7,740.8L1159.7,741.8L1162.4,744.4L1163.9,747.8Z M1212.8,702.8L1212.5,700.5L1214.7,695.9L1218.7,691.2L1222.6,687.1L1224.4,687.5L1224.6,689.7L1222.8,693.9L1219.0,699.0L1215.1,702.3Z M1093.9,575.2L1091.4,573.6L1087.8,568.5L1083.7,561.5L1081.4,554.8L1082.3,552.8L1084.7,554.2L1088.5,559.5L1092.4,566.6L1094.4,572.8Z M1274.2,666.0L1270.7,664.9L1265.5,660.8L1260.0,654.0L1256.5,648.0L1256.3,644.8L1259.1,645.0L1264.8,649.8L1270.4,656.5L1274.3,663.0Z M1097.6,580.5L1097.5,576.6L1099.7,569.3L1103.4,560.8L1107.4,554.3L1109.5,553.5L1110.0,556.1L1107.8,563.2L1104.3,570.9L1100.4,578.0Z M1182.2,745.7L1179.7,744.7L1176.0,741.7L1171.8,737.2L1168.8,732.8L1168.6,730.7L1171.2,731.8L1174.8,734.4L1178.7,739.1L1181.7,743.3Z M1096.0,607.8L1094.0,605.2L1092.7,602.0L1094.9,599.2L1097.9,597.6L1101.2,598.7L1102.4,601.9L1101.8,605.1L1099.4,607.3Z M1140.9,568.1L1138.8,565.8L1138.2,562.4L1139.3,559.0L1141.7,556.5L1144.6,557.0L1146.7,559.8L1146.1,564.1L1144.0,567.5Z M1262.4,593.0L1259.5,592.4L1257.9,589.0L1258.4,585.5L1259.8,582.1L1262.8,582.4L1265.4,584.5L1266.1,588.3L1265.0,591.7Z M1156.4,661.1L1155.6,658.8L1155.9,655.8L1158.5,653.6L1161.5,653.3L1163.2,655.3L1163.0,658.0L1161.7,660.9L1158.8,661.7Z M1258.9,671.1L1257.6,673.8L1253.9,675.0L1249.5,674.8L1247.6,672.3L1247.0,669.6L1250.0,667.7L1253.9,667.1L1257.2,668.7Z M1118.9,565.4L1118.8,562.4L1121.1,557.0L1125.3,550.8L1129.5,546.7L1132.0,546.0L1132.6,548.3L1129.9,554.0L1125.8,559.7L1121.9,563.9Z M1103.3,719.2L1101.4,715.8L1100.1,709.7L1099.7,701.7L1100.6,695.1L1102.3,693.1L1104.2,694.6L1105.3,702.0L1105.8,709.6L1105.0,716.6Z M1142.8,583.2L1140.1,581.1L1138.4,578.2L1139.4,574.9L1142.1,572.5L1145.3,573.6L1147.5,575.9L1147.4,579.0L1146.1,582.0Z M1197.8,614.1L1195.0,611.4L1191.0,605.8L1187.1,598.1L1184.7,591.8L1184.5,588.8L1186.4,589.4L1190.7,596.3L1195.0,603.8L1197.7,610.8Z M1208.2,563.1L1208.9,560.0L1210.9,557.4L1214.5,556.5L1217.2,558.6L1217.7,561.7L1216.4,564.4L1213.6,566.3L1210.6,565.1Z M1138.8,636.3L1137.3,635.1L1136.3,629.8L1136.2,623.3L1136.8,617.7L1138.2,615.7L1139.7,617.4L1140.7,623.0L1140.9,629.7L1140.2,635.0Z M1219.1,668.5L1220.0,665.8L1221.3,663.1L1224.6,662.4L1227.6,663.2L1228.5,665.7L1227.1,668.2L1224.4,669.7L1221.3,670.2Z M1220.5,697.0L1217.5,696.3L1215.2,693.8L1213.3,690.3L1214.3,687.0L1217.2,686.7L1219.9,687.9L1222.2,690.8L1221.9,694.2Z M1231.7,640.2L1230.6,637.7L1230.4,631.8L1231.4,623.9L1233.0,617.0L1234.6,616.1L1236.0,617.3L1235.8,624.6L1234.9,632.2L1233.3,637.9Z M1091.4,599.9L1091.7,596.0L1094.8,588.5L1098.9,580.6L1102.9,575.0L1105.5,573.1L1105.6,576.0L1102.9,582.9L1098.9,591.0L1094.6,597.1Z M1214.1,616.8L1211.8,615.6L1208.6,612.5L1205.4,607.6L1202.9,602.8L1203.3,601.0L1205.1,601.1L1208.7,604.9L1212.3,610.2L1214.0,614.4Z" fill="#9a9a9a" fill-opacity="0.3" stroke="#2c2c2c" stroke-opacity="0.6" stroke-width="4.4" filter="url(#sf2)"/>
<path d="M1108.5,620.6L1107.2,622.6L1103.9,623.7L1099.8,622.7L1097.9,620.2L1098.7,617.9L1101.2,616.4L1104.9,616.6L1107.8,618.3Z M1248.7,630.4L1247.4,628.4L1248.4,622.1L1250.4,615.0L1253.5,609.9L1256.3,607.4L1257.4,610.6L1256.1,617.2L1254.0,624.0L1250.9,630.2Z M1114.6,578.5L1114.2,575.3L1115.1,570.0L1117.8,563.4L1120.7,559.3L1123.3,556.8L1123.7,559.9L1122.3,565.5L1120.1,572.0L1117.2,575.8Z M1212.7,755.2L1209.6,755.1L1207.2,752.6L1206.1,749.1L1207.9,746.2L1210.9,744.6L1213.9,746.6L1215.7,749.7L1215.1,753.1Z M1093.6,754.0L1091.6,751.4L1090.6,747.6L1093.0,744.0L1096.3,743.0L1099.1,743.9L1100.2,747.1L1099.9,751.2L1097.0,754.4Z M1232.1,656.6L1231.5,653.1L1232.2,646.3L1234.5,638.1L1237.0,632.5L1239.1,629.5L1240.0,632.3L1238.9,639.4L1236.9,647.2L1234.4,653.4Z M1097.6,744.8L1096.0,742.5L1094.6,737.8L1094.3,731.1L1094.9,725.6L1096.4,723.8L1098.1,725.8L1099.3,731.0L1099.8,737.4L1099.0,742.3Z M1179.1,722.9L1176.4,723.6L1173.3,722.2L1171.0,718.9L1171.0,715.3L1173.4,713.4L1176.8,714.5L1180.2,716.8L1180.5,720.5Z M1216.1,745.4L1213.9,742.7L1214.2,739.3L1216.2,736.6L1219.6,736.2L1222.4,738.0L1223.0,741.0L1222.2,744.0L1219.5,746.0Z M1231.3,586.6L1229.4,585.1L1227.1,577.9L1225.3,569.1L1224.8,561.0L1226.0,557.7L1228.3,560.9L1230.6,568.3L1232.1,577.0L1232.7,585.1Z M1108.7,722.0L1108.9,719.3L1111.6,716.9L1115.5,715.6L1119.1,716.5L1119.1,719.5L1118.0,722.4L1114.3,724.5L1110.7,723.9Z M1256.2,652.8L1256.1,649.4L1258.2,643.8L1262.0,637.5L1266.3,632.4L1268.7,632.4L1269.1,635.2L1267.3,640.7L1263.4,647.4L1259.4,651.0Z M1217.2,655.6L1215.8,653.8L1215.2,649.7L1215.9,644.2L1217.6,639.8L1219.5,638.3L1220.7,641.0L1221.3,645.0L1220.8,650.6L1219.1,655.1Z M1257.2,753.9L1256.7,751.4L1259.8,745.0L1265.1,737.9L1269.7,733.5L1272.6,732.2L1272.4,735.3L1269.4,741.3L1264.7,747.9L1259.7,753.4Z M1170.8,631.9L1170.3,628.5L1172.1,621.9L1176.0,614.0L1180.0,608.7L1183.1,606.5L1182.8,611.0L1181.1,617.1L1177.7,624.0L1173.9,629.3Z M1208.5,694.0L1207.4,692.0L1208.1,686.4L1210.5,680.0L1213.3,675.6L1215.9,673.4L1216.7,676.4L1216.0,681.8L1213.6,688.4L1210.5,694.0Z M1149.6,695.6L1148.3,692.9L1148.4,689.9L1150.9,688.0L1154.1,687.6L1156.8,689.6L1156.9,693.0L1155.3,695.6L1152.4,696.8Z M1135.6,690.3L1132.7,691.5L1129.3,689.1L1127.8,685.5L1127.6,682.0L1130.0,680.5L1133.4,680.8L1135.8,684.1L1136.9,687.6Z M1233.5,692.0L1231.4,690.6L1230.8,684.0L1230.9,677.3L1232.3,671.1L1234.4,670.4L1236.5,671.4L1237.4,677.5L1236.9,684.2L1235.6,689.7Z M1242.6,629.5L1240.6,629.9L1236.1,625.8L1232.0,620.8L1229.8,616.4L1229.5,613.7L1231.5,613.4L1236.0,617.3L1240.2,622.5L1242.4,626.9Z M1257.5,669.3L1256.3,666.0L1256.1,659.0L1257.3,651.0L1258.9,645.0L1260.8,641.2L1262.0,644.6L1262.4,651.1L1261.3,659.8L1259.4,666.8Z M1210.9,598.1L1210.0,595.9L1213.5,588.5L1218.4,580.3L1223.8,574.1L1226.2,574.1L1226.4,577.1L1223.3,584.0L1218.5,591.7L1213.7,597.0Z M1192.1,688.7L1189.7,688.3L1187.7,685.9L1187.7,682.3L1189.8,680.5L1192.2,680.4L1194.7,681.4L1195.7,684.8L1194.5,687.8Z M1211.4,564.7L1210.8,562.3L1212.4,558.0L1215.9,553.3L1219.8,549.7L1222.3,549.9L1223.2,552.2L1220.8,557.0L1217.5,561.8L1213.4,565.5Z M1164.4,685.5L1162.8,683.5L1162.8,680.5L1164.5,677.8L1167.3,676.4L1169.2,678.2L1170.3,680.6L1169.1,683.5L1167.0,685.7Z M1207.9,680.9L1205.8,678.9L1206.7,675.7L1209.0,673.4L1212.1,673.0L1214.6,674.6L1214.4,677.8L1213.3,680.7L1210.4,681.6Z M1175.2,606.8L1173.5,605.6L1171.0,600.9L1169.1,594.6L1168.0,589.4L1168.5,586.8L1170.2,588.1L1172.7,593.1L1175.0,599.6L1175.6,604.4Z M1112.5,630.2L1110.9,627.0L1109.5,619.7L1108.4,610.6L1108.7,604.0L1109.6,600.6L1111.1,602.7L1112.5,610.8L1113.4,619.3L1113.4,626.7Z M1126.2,559.9L1124.9,562.3L1121.9,562.9L1118.4,562.5L1117.3,559.6L1117.8,557.0L1119.9,554.8L1123.5,555.0L1125.8,557.3Z M1127.7,736.7L1125.9,734.6L1125.4,731.0L1127.7,727.8L1130.7,725.7L1133.0,727.7L1133.8,730.6L1132.8,734.0L1130.5,737.1Z M1103.9,719.8L1103.2,717.3L1105.5,715.2L1108.0,713.5L1110.4,714.5L1112.2,716.2L1111.4,718.9L1108.9,720.9L1106.1,721.0Z M1091.2,677.7L1090.0,675.7L1090.1,672.9L1092.1,670.3L1095.0,669.3L1097.1,670.9L1097.0,673.8L1096.1,676.8L1093.5,678.7Z M1263.4,726.5L1261.7,726.0L1258.6,719.5L1255.8,711.5L1254.8,705.2L1255.5,703.0L1257.5,704.7L1260.3,710.4L1263.2,718.3L1264.0,724.2Z M1234.8,690.4L1233.2,688.6L1231.9,683.1L1231.1,677.0L1231.0,671.6L1231.9,669.1L1233.4,671.3L1234.9,676.3L1235.9,683.0L1235.6,687.6Z M1106.3,680.3L1106.0,677.6L1108.5,672.1L1112.3,666.0L1116.5,661.5L1118.6,661.3L1118.6,664.2L1116.6,669.1L1112.9,674.9L1108.7,679.8Z M1252.1,753.8L1251.4,751.8L1254.8,745.9L1259.4,740.2L1264.2,735.5L1267.4,734.3L1267.0,737.7L1263.5,743.4L1259.1,749.7L1254.6,753.4Z M1151.8,735.3L1149.2,734.4L1147.2,731.7L1145.9,727.8L1147.4,724.9L1149.9,723.6L1152.3,726.4L1154.0,729.7L1153.6,733.2Z M1106.3,670.1L1103.3,669.1L1101.9,665.5L1102.8,661.8L1104.9,658.8L1108.1,659.2L1110.3,661.9L1111.2,665.7L1109.8,669.8Z M1108.6,680.5L1107.6,678.3L1109.5,675.4L1112.2,672.6L1115.3,672.9L1116.9,674.8L1116.2,677.8L1114.0,680.6L1110.6,682.3Z M1134.2,753.1L1133.6,751.0L1135.4,746.5L1139.0,741.7L1142.6,737.9L1144.9,737.7L1144.8,740.5L1143.0,744.7L1140.0,749.7L1136.5,752.7Z M1260.3,747.8L1258.5,746.0L1257.5,738.2L1257.2,729.5L1258.0,721.7L1259.7,719.2L1261.4,722.8L1262.5,729.5L1262.9,738.4L1262.0,745.9Z M1140.7,759.4L1138.6,758.3L1134.3,752.4L1129.4,744.1L1127.0,737.9L1126.1,733.8L1129.2,736.8L1133.3,742.1L1137.7,750.1L1140.7,756.9Z M1104.3,687.5L1103.8,685.2L1105.5,678.8L1108.5,671.2L1111.8,664.8L1114.0,662.8L1113.8,666.7L1112.3,672.8L1109.4,680.5L1106.4,685.4Z M1095.5,667.3L1092.6,666.8L1088.4,662.8L1085.1,657.0L1082.4,651.3L1083.6,649.1L1086.1,649.0L1090.3,653.2L1093.9,659.0L1096.3,664.6Z M1255.3,713.0L1252.2,711.6L1250.5,708.5L1251.7,705.2L1253.9,702.7L1256.8,703.3L1259.6,704.9L1260.2,708.6L1258.5,711.9Z M1114.5,712.6L1112.5,712.8L1108.1,708.0L1104.3,701.8L1101.3,696.0L1101.6,693.3L1104.4,694.7L1108.4,698.8L1112.3,704.8L1114.7,710.1Z M1216.8,681.4L1216.1,678.5L1217.3,672.2L1219.8,664.8L1222.9,659.6L1225.4,657.5L1226.3,660.2L1225.0,666.9L1222.4,674.3L1219.4,679.0Z M1254.9,670.5L1253.2,670.5L1247.8,664.9L1242.5,658.6L1238.8,652.8L1237.6,649.3L1240.8,651.1L1245.7,655.9L1250.8,662.4L1255.3,668.8Z M1225.0,642.8L1222.3,640.4L1222.2,636.4L1224.6,633.5L1227.5,631.0L1230.9,632.1L1231.6,636.0L1230.7,639.4L1228.4,642.1Z M1218.6,686.6L1217.0,686.0L1214.0,681.5L1211.1,675.6L1209.8,670.7L1210.2,668.8L1211.8,668.9L1214.9,673.7L1217.8,680.0L1219.0,684.7Z M1258.5,637.0L1256.2,636.8L1251.6,633.1L1246.7,627.8L1243.7,622.9L1243.3,620.1L1245.9,620.5L1250.6,624.2L1255.5,629.7L1258.2,634.3Z M1236.8,595.6L1235.5,592.5L1236.2,589.0L1239.0,586.5L1242.5,585.6L1245.3,587.6L1245.0,591.4L1243.5,594.9L1240.0,597.0Z M1238.2,573.1L1236.3,572.1L1234.5,568.1L1233.3,563.3L1233.2,558.8L1234.6,557.2L1236.5,558.5L1238.5,561.9L1239.9,567.3L1239.8,571.9Z M1218.9,649.5L1216.7,648.0L1212.6,643.1L1207.8,635.2L1204.9,628.8L1204.2,625.2L1207.1,627.6L1211.4,632.9L1216.1,641.0L1219.2,647.6Z M1222.8,742.6L1222.3,740.2L1223.6,735.2L1226.8,729.3L1230.1,724.5L1232.2,723.8L1233.0,725.8L1231.4,731.3L1228.2,737.1L1224.9,742.2Z M1229.3,574.8L1228.0,572.7L1229.3,567.2L1231.5,561.5L1234.5,557.8L1237.2,556.0L1238.4,558.3L1237.3,563.9L1234.7,569.4L1231.7,574.0Z M1238.3,719.9L1236.3,717.8L1233.7,713.6L1231.5,707.2L1230.3,701.9L1230.9,699.8L1232.7,701.0L1235.4,705.3L1237.6,712.0L1238.6,717.0Z M1270.2,705.0L1268.5,703.6L1265.9,696.4L1263.8,687.9L1262.2,679.8L1263.1,677.8L1264.9,679.4L1267.5,686.7L1270.0,695.6L1270.6,701.9Z M1234.1,604.6L1233.8,602.1L1235.1,597.4L1237.9,591.6L1240.9,587.7L1243.0,586.7L1243.6,588.8L1242.1,593.8L1239.2,599.4L1236.3,603.4Z M1261.7,704.1L1259.3,703.1L1256.4,698.1L1254.6,691.6L1253.8,685.9L1254.9,682.8L1257.6,685.3L1260.2,689.8L1262.6,696.2L1263.3,702.2Z M1142.6,743.0L1140.3,741.3L1137.9,738.1L1136.3,733.2L1135.8,728.9L1136.7,726.4L1138.9,727.6L1141.5,731.1L1143.4,736.3L1143.7,740.7Z M1157.9,570.5L1155.0,570.5L1151.9,569.5L1151.0,566.2L1151.3,563.0L1153.9,561.2L1157.2,561.9L1159.1,564.9L1159.9,568.2Z M1108.1,641.5L1106.8,638.7L1107.5,635.7L1109.7,633.6L1113.1,633.0L1115.2,635.6L1115.5,638.7L1114.2,641.6L1111.0,642.5Z M1120.0,678.3L1118.2,680.7L1114.7,681.3L1111.1,680.7L1108.9,678.4L1109.3,675.7L1111.7,673.6L1115.7,673.6L1118.4,675.7Z M1244.2,671.6L1244.0,669.7L1247.1,664.2L1251.4,658.1L1255.3,654.3L1257.8,652.9L1258.3,654.6L1255.0,660.5L1250.4,666.6L1246.1,671.2Z M1216.5,661.4L1216.7,659.3L1218.9,655.5L1222.2,651.6L1226.0,648.1L1228.1,647.9L1228.2,650.0L1225.7,654.2L1222.0,658.5L1218.6,661.0Z M1124.3,702.9L1122.1,701.5L1119.0,697.3L1116.1,692.3L1114.0,687.2L1114.2,684.8L1116.4,686.1L1119.5,690.2L1122.7,695.8L1124.3,700.4Z M1109.9,693.6L1107.6,693.1L1103.0,689.0L1098.4,683.7L1095.2,678.8L1094.6,676.1L1096.7,676.1L1101.6,680.6L1106.7,686.3L1110.1,691.6Z M1112.4,674.7L1109.4,675.3L1106.4,673.3L1105.3,670.0L1106.0,667.2L1108.2,666.0L1111.1,666.0L1113.1,668.9L1113.3,671.9Z M1242.7,657.1L1241.9,654.6L1241.9,650.1L1243.4,644.4L1245.3,639.2L1246.9,638.8L1248.0,640.2L1247.7,645.1L1246.4,651.1L1244.4,655.5Z M1235.5,559.2L1233.9,561.7L1230.2,562.5L1227.0,560.7L1224.4,558.0L1225.7,555.1L1228.5,553.4L1232.4,553.8L1235.8,556.0Z M1207.2,607.7L1206.0,605.1L1206.1,599.4L1207.6,592.1L1210.0,586.4L1212.0,585.4L1213.3,587.4L1213.1,593.3L1211.4,600.4L1209.3,605.6Z M1264.5,687.6L1262.0,688.5L1259.5,687.2L1257.9,684.7L1258.0,681.6L1260.8,680.5L1263.6,680.5L1266.1,682.4L1266.5,685.5Z M1107.0,684.3L1107.0,681.9L1108.6,677.6L1111.8,672.6L1115.0,669.4L1117.5,668.0L1117.7,670.4L1115.7,675.1L1112.5,680.1L1109.0,684.0Z M1236.5,686.9L1234.3,685.1L1232.9,681.9L1233.7,678.1L1235.4,675.4L1237.9,675.4L1239.9,678.0L1240.5,682.1L1238.9,685.6Z M1162.9,727.2L1161.5,724.5L1160.9,721.1L1163.1,717.8L1165.7,715.8L1168.2,716.7L1169.4,719.8L1168.4,723.9L1165.7,726.5Z M1153.0,571.4L1153.8,568.5L1157.0,566.6L1160.5,567.8L1163.5,569.6L1163.5,572.7L1161.0,575.0L1157.3,575.9L1153.8,574.5Z M1120.1,571.6L1119.1,568.7L1119.6,562.6L1121.8,556.0L1124.3,550.6L1126.8,548.2L1127.9,550.8L1127.2,557.1L1125.1,563.9L1122.5,569.6Z M1167.0,714.6L1166.4,711.9L1169.2,705.3L1173.1,698.5L1177.3,693.3L1180.0,692.2L1179.8,695.9L1178.3,701.2L1174.0,708.0L1169.9,713.0Z M1167.3,653.1L1164.9,652.8L1162.2,648.3L1160.0,643.0L1159.6,638.2L1160.7,635.3L1163.4,636.9L1166.1,640.9L1168.0,646.2L1168.6,650.9Z M1117.6,592.5L1115.8,591.4L1113.7,586.8L1112.1,581.7L1111.6,577.4L1112.2,575.0L1114.0,576.5L1116.0,580.6L1117.7,585.6L1118.1,589.9Z M1158.0,741.2L1156.4,738.3L1154.8,731.8L1154.0,723.4L1153.8,715.7L1155.0,714.8L1156.5,715.5L1158.0,722.9L1158.7,730.8L1158.8,737.5Z M1088.4,738.9L1087.6,736.1L1089.4,732.8L1093.0,730.5L1096.9,731.1L1097.8,734.3L1098.0,737.8L1094.5,740.4L1090.8,740.7Z M1256.8,699.5L1254.9,698.5L1253.5,692.5L1253.0,685.8L1253.3,679.8L1254.9,678.4L1256.6,680.0L1258.0,685.5L1258.6,691.9L1258.5,698.3Z M1169.0,744.9L1167.4,742.2L1168.0,738.8L1170.2,736.2L1173.1,735.4L1175.8,736.5L1176.1,739.8L1175.4,743.4L1172.2,745.1Z M1212.1,619.6L1209.5,618.0L1206.5,613.6L1203.9,608.4L1201.9,602.8L1202.8,600.7L1205.2,602.1L1208.3,605.8L1210.8,611.5L1212.7,617.0Z M1219.7,590.6L1217.0,589.5L1215.3,586.2L1214.8,582.5L1216.1,580.0L1218.2,578.8L1220.4,581.2L1221.9,584.6L1221.9,588.7Z M1097.0,600.3L1094.3,602.7L1090.5,602.4L1086.9,600.7L1086.4,597.2L1087.0,593.9L1090.7,593.3L1094.5,593.7L1097.0,596.8Z M1163.1,750.5L1160.4,751.2L1157.0,748.9L1155.4,745.5L1154.8,742.4L1156.7,740.8L1159.7,741.8L1162.4,744.4L1163.9,747.8Z M1212.8,702.8L1212.5,700.5L1214.7,695.9L1218.7,691.2L1222.6,687.1L1224.4,687.5L1224.6,689.7L1222.8,693.9L1219.0,699.0L1215.1,702.3Z M1093.9,575.2L1091.4,573.6L1087.8,568.5L1083.7,561.5L1081.4,554.8L1082.3,552.8L1084.7,554.2L1088.5,559.5L1092.4,566.6L1094.4,572.8Z M1274.2,666.0L1270.7,664.9L1265.5,660.8L1260.0,654.0L1256.5,648.0L1256.3,644.8L1259.1,645.0L1264.8,649.8L1270.4,656.5L1274.3,663.0Z M1097.6,580.5L1097.5,576.6L1099.7,569.3L1103.4,560.8L1107.4,554.3L1109.5,553.5L1110.0,556.1L1107.8,563.2L1104.3,570.9L1100.4,578.0Z M1182.2,745.7L1179.7,744.7L1176.0,741.7L1171.8,737.2L1168.8,732.8L1168.6,730.7L1171.2,731.8L1174.8,734.4L1178.7,739.1L1181.7,743.3Z M1096.0,607.8L1094.0,605.2L1092.7,602.0L1094.9,599.2L1097.9,597.6L1101.2,598.7L1102.4,601.9L1101.8,605.1L1099.4,607.3Z M1140.9,568.1L1138.8,565.8L1138.2,562.4L1139.3,559.0L1141.7,556.5L1144.6,557.0L1146.7,559.8L1146.1,564.1L1144.0,567.5Z M1262.4,593.0L1259.5,592.4L1257.9,589.0L1258.4,585.5L1259.8,582.1L1262.8,582.4L1265.4,584.5L1266.1,588.3L1265.0,591.7Z M1156.4,661.1L1155.6,658.8L1155.9,655.8L1158.5,653.6L1161.5,653.3L1163.2,655.3L1163.0,658.0L1161.7,660.9L1158.8,661.7Z M1258.9,671.1L1257.6,673.8L1253.9,675.0L1249.5,674.8L1247.6,672.3L1247.0,669.6L1250.0,667.7L1253.9,667.1L1257.2,668.7Z M1118.9,565.4L1118.8,562.4L1121.1,557.0L1125.3,550.8L1129.5,546.7L1132.0,546.0L1132.6,548.3L1129.9,554.0L1125.8,559.7L1121.9,563.9Z M1103.3,719.2L1101.4,715.8L1100.1,709.7L1099.7,701.7L1100.6,695.1L1102.3,693.1L1104.2,694.6L1105.3,702.0L1105.8,709.6L1105.0,716.6Z M1142.8,583.2L1140.1,581.1L1138.4,578.2L1139.4,574.9L1142.1,572.5L1145.3,573.6L1147.5,575.9L1147.4,579.0L1146.1,582.0Z M1197.8,614.1L1195.0,611.4L1191.0,605.8L1187.1,598.1L1184.7,591.8L1184.5,588.8L1186.4,589.4L1190.7,596.3L1195.0,603.8L1197.7,610.8Z M1208.2,563.1L1208.9,560.0L1210.9,557.4L1214.5,556.5L1217.2,558.6L1217.7,561.7L1216.4,564.4L1213.6,566.3L1210.6,565.1Z M1138.8,636.3L1137.3,635.1L1136.3,629.8L1136.2,623.3L1136.8,617.7L1138.2,615.7L1139.7,617.4L1140.7,623.0L1140.9,629.7L1140.2,635.0Z M1219.1,668.5L1220.0,665.8L1221.3,663.1L1224.6,662.4L1227.6,663.2L1228.5,665.7L1227.1,668.2L1224.4,669.7L1221.3,670.2Z M1220.5,697.0L1217.5,696.3L1215.2,693.8L1213.3,690.3L1214.3,687.0L1217.2,686.7L1219.9,687.9L1222.2,690.8L1221.9,694.2Z M1231.7,640.2L1230.6,637.7L1230.4,631.8L1231.4,623.9L1233.0,617.0L1234.6,616.1L1236.0,617.3L1235.8,624.6L1234.9,632.2L1233.3,637.9Z M1091.4,599.9L1091.7,596.0L1094.8,588.5L1098.9,580.6L1102.9,575.0L1105.5,573.1L1105.6,576.0L1102.9,582.9L1098.9,591.0L1094.6,597.1Z M1214.1,616.8L1211.8,615.6L1208.6,612.5L1205.4,607.6L1202.9,602.8L1203.3,601.0L1205.1,601.1L1208.7,604.9L1212.3,610.2L1214.0,614.4Z" fill="none" stroke="#d4d4d4" stroke-opacity="0.9" stroke-width="1.7" filter="url(#sf)"/>
<rect x="1087.0" y="552.0" width="180.0" height="199.0" fill="#000" filter="url(#grain)" opacity="0.12"/>
</g>
<rect x="1214.5" y="734.8" width="44.5" height="3.8" fill="#fff"/>
<clipPath id="ci3"><rect x="1276.0" y="552.0" width="177.0" height="199.0"/></clipPath>
<g clip-path="url(#ci3)">
<rect x="1276.0" y="552.0" width="177.0" height="199.0" fill="#626262"/>
<path d="M1358.8,668.2L1357.5,665.9L1356.4,662.3L1356.1,657.4L1356.3,652.8L1357.5,650.9L1358.9,652.5L1359.9,656.9L1360.2,661.9L1359.9,666.4Z M1395.2,646.8L1394.7,644.8L1397.3,639.1L1401.2,633.3L1405.1,628.7L1407.4,627.6L1407.2,630.6L1405.2,635.6L1401.3,641.7L1397.2,646.4Z M1323.4,645.3L1322.0,644.1L1321.4,638.1L1321.5,631.8L1322.4,627.0L1323.7,624.7L1325.0,626.3L1325.7,631.9L1325.6,638.2L1324.9,644.2Z M1375.1,560.6L1374.3,558.6L1375.7,554.1L1378.2,549.7L1381.0,546.4L1382.8,546.2L1383.8,547.7L1382.7,551.9L1380.2,556.7L1377.2,560.0Z M1414.8,649.1L1412.1,648.1L1411.8,643.9L1413.3,640.2L1415.6,637.0L1418.4,638.1L1419.5,641.4L1419.8,645.5L1417.5,648.8Z M1446.4,666.7L1443.3,666.7L1439.9,665.3L1437.7,661.6L1437.8,658.4L1439.8,656.9L1442.9,657.6L1446.1,660.1L1447.8,664.0Z M1325.6,687.7L1325.1,684.7L1326.7,681.1L1330.7,679.6L1334.4,679.4L1336.1,681.9L1334.6,685.3L1332.1,688.3L1328.1,689.6Z M1450.1,561.4L1448.1,564.4L1444.7,565.9L1441.2,564.5L1439.0,561.7L1439.1,558.3L1442.3,556.5L1445.7,556.4L1449.0,557.9Z M1321.3,576.8L1318.4,576.1L1317.4,572.8L1317.5,569.3L1320.1,567.4L1322.9,567.8L1325.7,569.4L1325.3,572.9L1323.9,575.5Z M1328.3,644.5L1326.0,642.8L1323.1,639.7L1320.4,634.8L1318.9,630.9L1319.0,628.9L1320.8,629.6L1323.6,632.5L1326.4,637.5L1327.9,641.6Z M1422.6,686.9L1420.5,686.2L1417.0,681.5L1413.7,675.7L1412.2,670.9L1412.2,667.9L1414.7,669.7L1417.9,673.2L1421.4,679.5L1423.0,684.6Z M1382.3,612.8L1379.8,610.5L1379.1,607.1L1380.2,603.6L1383.3,602.5L1386.3,603.1L1387.9,605.9L1387.5,609.2L1385.7,612.4Z M1359.3,593.2L1359.3,591.1L1362.4,585.6L1366.3,579.9L1370.4,575.3L1372.2,574.9L1371.8,577.6L1369.4,582.2L1365.4,588.1L1361.3,592.5Z M1437.9,678.7L1435.6,678.8L1432.9,674.7L1431.2,669.3L1430.7,664.5L1432.0,662.1L1434.5,663.0L1437.1,667.4L1439.2,672.4L1439.6,677.4Z M1368.9,663.0L1370.4,660.0L1373.9,658.6L1377.9,658.5L1380.7,660.7L1380.4,663.6L1377.8,665.6L1374.4,666.7L1371.4,665.2Z M1369.5,661.7L1368.2,659.5L1368.5,653.5L1369.6,647.0L1371.7,642.6L1373.6,641.0L1375.0,642.7L1375.1,648.1L1373.6,654.6L1371.6,659.9Z M1329.8,600.4L1330.2,597.6L1332.4,595.0L1336.0,595.1L1338.6,597.1L1339.6,600.1L1337.5,602.7L1334.2,603.5L1331.1,602.9Z M1380.3,611.5L1377.7,613.9L1374.7,615.3L1370.6,615.1L1367.8,612.7L1368.2,609.6L1371.2,607.6L1375.1,606.9L1378.5,608.6Z M1341.3,664.7L1338.4,663.6L1338.0,659.6L1338.9,655.9L1341.2,653.0L1343.9,654.2L1346.4,656.3L1345.8,660.5L1344.2,664.0Z M1326.6,658.6L1324.3,658.2L1321.0,653.5L1318.3,648.4L1317.1,643.7L1317.8,641.5L1320.1,642.5L1323.2,645.5L1326.2,651.3L1326.9,655.6Z M1336.9,592.7L1336.6,590.1L1339.3,587.6L1343.2,586.5L1345.9,587.9L1346.7,590.2L1345.7,592.9L1342.1,594.5L1338.5,594.8Z M1429.9,684.3L1430.6,681.2L1433.3,679.7L1436.6,679.5L1438.3,682.2L1438.4,685.1L1436.9,687.8L1433.9,688.5L1431.0,687.2Z M1356.6,705.2L1354.5,701.9L1352.2,697.0L1350.7,688.9L1350.8,683.1L1351.9,680.1L1353.9,682.8L1356.2,687.9L1357.8,695.9L1357.8,702.2Z M1359.1,569.7L1359.3,566.1L1361.3,563.1L1364.8,562.4L1368.5,562.5L1369.2,566.0L1368.9,569.3L1365.8,571.6L1362.4,571.2Z M1353.3,652.6L1351.8,651.6L1350.3,647.2L1349.3,641.6L1349.3,636.9L1350.4,635.8L1351.8,636.8L1353.3,641.0L1354.3,646.6L1354.0,650.5Z M1346.1,658.4L1345.8,656.2L1348.5,651.0L1352.0,645.4L1356.1,641.1L1358.6,640.2L1358.0,643.5L1356.1,648.2L1352.1,654.0L1348.6,657.1Z M1366.1,625.5L1362.8,625.0L1358.1,621.5L1353.9,616.5L1350.9,611.5L1351.1,608.6L1354.2,609.2L1358.6,611.8L1363.3,617.2L1365.4,621.8Z M1380.4,628.1L1382.6,625.2L1385.4,623.1L1389.0,623.7L1392.2,625.6L1391.6,629.0L1390.0,632.1L1385.9,632.8L1382.3,631.3Z M1342.9,594.1L1340.7,591.6L1341.3,587.6L1343.1,584.2L1346.2,582.0L1349.0,583.6L1350.2,587.0L1349.4,591.3L1346.2,593.7Z M1382.8,601.1L1379.6,602.2L1375.8,601.1L1373.7,597.8L1373.2,594.4L1375.2,592.1L1378.7,591.4L1382.4,593.9L1383.5,597.7Z M1337.3,664.1L1334.6,665.7L1331.1,664.1L1329.7,660.7L1329.8,657.7L1331.4,655.1L1334.8,655.8L1337.7,658.0L1338.8,661.5Z M1379.5,627.9L1380.1,625.3L1382.5,622.7L1386.4,621.1L1390.1,621.4L1391.0,624.0L1389.6,627.1L1385.5,628.9L1381.7,629.5Z M1421.8,616.3L1418.7,615.7L1417.1,612.1L1418.4,608.5L1420.3,605.4L1423.3,606.5L1426.0,608.3L1426.5,612.2L1424.6,615.3Z M1334.0,586.0L1332.5,583.5L1331.4,579.6L1331.7,574.4L1332.9,570.6L1334.5,568.9L1336.1,570.6L1337.0,574.6L1336.8,579.5L1335.9,584.5Z M1452.3,645.9L1450.6,644.8L1449.9,638.2L1449.5,631.0L1450.6,625.1L1452.2,622.6L1453.6,626.1L1454.9,631.0L1454.8,638.5L1453.8,644.3Z M1324.1,651.4L1326.1,648.3L1328.8,646.2L1332.6,646.3L1334.7,649.1L1335.7,652.5L1333.2,655.3L1329.5,655.4L1326.3,654.2Z M1317.7,636.2L1314.0,636.9L1310.4,635.0L1308.3,631.5L1308.7,628.0L1311.1,626.1L1314.6,626.0L1317.4,628.9L1318.5,632.6Z M1327.8,711.0L1325.8,709.5L1323.5,706.3L1321.7,701.8L1320.8,697.4L1321.6,695.6L1323.4,696.4L1325.8,699.9L1327.7,704.6L1328.5,708.8Z M1330.7,590.6L1329.9,588.9L1332.9,583.5L1336.6,578.3L1340.5,574.0L1342.8,573.4L1342.5,576.3L1340.2,581.0L1336.6,586.5L1333.0,589.7Z M1446.1,565.0L1443.1,564.8L1441.5,560.7L1441.6,556.4L1443.9,553.8L1446.7,553.1L1449.0,556.1L1449.6,560.0L1448.6,563.7Z M1303.1,578.8L1301.6,575.7L1301.7,571.5L1304.8,568.5L1308.1,566.4L1310.8,568.0L1311.2,571.8L1309.7,575.8L1306.5,577.8Z M1337.4,703.8L1335.2,702.6L1333.2,699.5L1332.5,694.9L1333.3,691.3L1334.9,689.3L1337.0,690.8L1339.1,693.6L1339.5,698.1L1339.3,702.3Z M1394.4,657.0L1391.4,658.5L1388.3,658.1L1385.6,656.3L1385.3,652.7L1387.4,649.6L1390.9,648.9L1394.0,650.4L1394.8,653.6Z M1425.2,612.6L1424.0,615.4L1420.8,616.7L1417.5,615.8L1415.5,613.3L1416.1,610.6L1417.9,608.1L1421.5,608.1L1424.1,609.9Z M1371.7,605.8L1369.7,604.9L1367.7,599.5L1366.8,592.7L1366.8,586.4L1368.6,584.9L1370.7,586.5L1372.4,592.1L1373.4,598.3L1373.2,603.7Z M1435.0,663.5L1434.9,661.4L1436.5,657.6L1439.4,653.7L1442.5,650.4L1444.5,649.9L1444.4,652.2L1442.5,656.0L1439.9,659.7L1437.2,662.4Z M1362.9,647.2L1360.4,645.9L1358.5,643.4L1359.3,640.0L1361.9,638.1L1364.8,638.5L1367.3,640.4L1367.4,643.8L1365.4,646.1Z M1349.1,564.7L1347.6,563.1L1346.2,559.5L1345.2,554.9L1345.2,550.9L1346.1,548.7L1347.7,550.0L1349.3,554.0L1350.0,558.8L1350.2,563.2Z M1394.6,702.8L1392.1,701.3L1389.1,697.4L1386.6,691.4L1385.0,685.8L1386.2,684.0L1388.4,685.4L1391.3,689.1L1394.2,695.1L1395.3,700.4Z M1380.0,593.9L1379.0,591.6L1378.9,587.1L1380.6,581.1L1382.4,576.7L1384.3,574.9L1385.2,577.0L1385.1,581.9L1383.7,588.0L1381.8,592.2Z M1382.1,555.1L1380.2,556.8L1376.5,556.3L1373.1,553.8L1372.4,550.8L1373.0,548.1L1376.5,547.7L1380.3,549.7L1382.2,552.6Z M1346.0,578.0L1345.4,574.6L1345.5,569.4L1346.6,562.8L1348.2,557.3L1349.9,554.6L1350.8,557.2L1350.4,563.3L1349.2,569.9L1347.7,575.7Z M1448.3,696.1L1445.9,695.6L1443.2,691.9L1441.8,686.7L1441.2,681.9L1442.5,679.6L1445.0,681.1L1447.5,684.6L1449.3,689.5L1449.6,693.9Z M1391.3,627.4L1387.8,626.4L1385.7,622.4L1385.3,618.1L1386.9,614.8L1389.9,614.7L1393.0,616.2L1394.6,620.5L1393.6,624.5Z M1320.8,706.1L1319.3,702.9L1320.4,698.9L1323.0,695.1L1326.9,694.0L1328.7,696.7L1330.1,699.8L1327.4,703.5L1324.2,706.5Z M1340.6,650.1L1337.9,650.5L1334.9,648.7L1332.9,645.6L1332.2,641.9L1334.6,640.4L1338.0,640.8L1341.3,643.9L1342.0,647.8Z M1434.1,648.6L1432.9,644.9L1432.1,639.2L1432.0,631.6L1432.9,626.2L1434.1,622.4L1435.4,625.1L1436.2,631.7L1436.2,639.5L1435.3,645.0Z M1347.3,656.0L1347.5,653.1L1348.8,650.0L1352.3,648.9L1355.6,648.8L1356.7,651.3L1356.1,654.3L1353.3,656.7L1349.7,657.7Z M1368.5,556.5L1367.3,554.1L1368.8,551.0L1371.9,549.1L1374.6,549.8L1376.2,551.5L1376.3,554.4L1373.9,557.2L1370.6,558.1Z M1328.1,648.1L1329.2,645.6L1332.1,643.6L1335.8,643.9L1339.0,645.2L1339.3,648.0L1336.8,650.3L1333.1,651.7L1329.5,650.6Z M1445.8,693.7L1443.6,691.4L1444.1,687.4L1447.1,684.6L1450.5,683.6L1453.2,685.1L1453.6,688.7L1451.7,692.1L1448.8,694.3Z M1413.6,663.8L1412.8,660.8L1414.9,654.5L1418.3,648.1L1422.0,644.4L1425.3,642.3L1426.2,645.2L1424.1,651.4L1420.8,657.7L1417.0,661.6Z M1349.3,652.2L1346.4,653.7L1342.9,652.2L1340.4,649.6L1340.3,646.5L1341.7,643.9L1345.1,643.9L1348.5,645.7L1349.1,649.0Z M1338.7,648.7L1337.5,646.3L1337.7,642.6L1339.4,638.3L1342.2,637.3L1344.5,637.8L1345.6,641.0L1343.7,645.1L1341.3,647.7Z M1359.7,635.6L1359.9,632.7L1362.6,630.2L1366.1,628.1L1368.8,629.1L1370.9,630.8L1369.1,633.9L1365.9,636.5L1362.2,636.8Z M1328.7,693.8L1325.3,694.1L1322.2,690.8L1319.6,687.1L1320.0,683.4L1322.8,682.5L1325.9,683.5L1328.4,686.7L1330.1,690.7Z M1393.5,629.8L1392.7,627.7L1396.5,622.1L1401.0,616.8L1406.0,612.2L1408.2,612.7L1408.9,614.9L1406.0,620.4L1400.7,626.1L1396.0,629.8Z M1433.6,598.4L1432.3,595.3L1431.8,591.6L1434.8,588.6L1438.4,588.7L1441.5,590.0L1441.8,593.7L1440.3,597.2L1437.0,598.7Z M1378.2,701.8L1376.9,699.5L1377.4,694.1L1379.4,688.3L1381.8,683.5L1384.2,682.2L1385.0,685.3L1384.6,690.0L1383.2,695.9L1380.7,699.6Z M1378.1,663.2L1375.9,661.6L1374.1,658.3L1375.3,653.9L1377.8,651.7L1380.4,652.0L1382.1,654.9L1382.8,659.0L1380.7,662.3Z M1434.3,628.3L1431.8,626.8L1428.2,622.2L1424.5,615.8L1422.3,610.1L1422.7,607.8L1424.9,608.7L1428.6,613.2L1432.1,619.8L1434.3,625.4Z M1357.0,562.8L1355.6,559.9L1355.3,556.6L1356.9,553.0L1359.9,552.7L1362.7,553.0L1363.4,556.2L1362.6,559.7L1360.1,562.4Z M1400.9,695.6L1400.1,693.7L1402.0,689.9L1405.0,686.4L1408.3,684.2L1410.7,684.2L1411.0,686.5L1409.4,690.1L1406.3,693.7L1403.2,695.5Z M1402.3,684.3L1400.5,682.0L1399.9,678.4L1402.5,675.4L1405.3,673.9L1408.1,674.8L1409.0,678.1L1407.6,681.6L1405.2,684.1Z M1433.9,647.5L1432.6,650.3L1429.2,650.2L1426.4,648.7L1425.6,645.9L1426.4,643.4L1428.8,641.8L1432.2,642.1L1434.6,644.6Z M1375.2,652.6L1374.8,650.6L1376.3,645.9L1379.0,640.3L1382.3,635.9L1384.2,635.4L1384.4,637.8L1383.2,642.4L1380.1,647.7L1376.9,652.4Z M1346.9,631.3L1347.5,627.7L1349.9,622.1L1353.6,615.5L1357.3,611.3L1360.1,609.2L1359.8,612.3L1357.6,617.8L1353.6,624.2L1349.6,629.7Z M1417.8,646.0L1415.5,645.7L1411.8,641.5L1408.4,635.7L1407.4,631.2L1407.7,628.2L1410.2,629.1L1413.8,632.6L1416.9,638.5L1418.4,643.4Z M1410.7,638.8L1408.5,638.7L1404.3,635.3L1400.3,630.9L1397.3,626.5L1397.0,623.9L1399.5,624.3L1403.8,627.6L1407.6,632.1L1410.2,636.2Z M1315.5,698.7L1314.8,696.1L1315.7,690.8L1319.3,684.2L1323.0,679.1L1325.6,678.2L1326.5,680.6L1324.4,686.9L1321.6,693.5L1317.7,698.7Z M1446.2,672.7L1443.3,674.4L1439.8,673.5L1437.1,670.9L1436.8,667.4L1438.8,664.8L1442.2,664.2L1445.5,666.2L1447.3,669.5Z M1428.5,580.8L1428.1,578.1L1430.6,576.0L1433.7,576.1L1436.7,576.9L1437.4,579.6L1435.5,581.9L1432.8,583.3L1429.7,583.1Z M1454.1,623.5L1450.5,624.2L1447.0,621.9L1445.8,618.1L1446.8,614.9L1449.3,612.9L1452.7,613.8L1455.4,616.5L1455.2,620.1Z M1325.0,565.0L1323.3,564.2L1321.4,560.5L1319.9,556.0L1319.6,552.3L1320.3,550.0L1322.1,551.7L1323.9,555.0L1325.2,559.2L1325.9,563.4Z M1331.8,646.0L1330.1,643.5L1332.9,640.0L1336.0,637.5L1340.0,636.3L1341.0,639.4L1341.5,642.7L1338.4,646.3L1334.6,646.8Z M1449.8,586.0L1447.9,582.8L1446.8,577.2L1447.4,570.0L1448.6,563.7L1450.8,562.3L1452.8,563.8L1453.6,570.2L1453.2,577.0L1452.0,583.0Z M1437.0,618.8L1435.7,617.3L1434.3,612.6L1433.5,606.3L1433.7,601.4L1434.7,599.4L1436.1,601.3L1437.4,605.9L1438.2,612.2L1438.0,616.8Z M1372.9,581.3L1372.7,578.2L1373.6,573.1L1376.0,566.4L1378.9,561.2L1381.0,560.0L1381.8,562.1L1380.6,568.1L1377.9,575.0L1374.9,580.2Z M1393.7,665.9L1395.0,662.9L1398.6,660.6L1403.2,660.6L1406.4,662.2L1406.1,664.9L1404.5,667.6L1400.3,668.2L1395.9,668.3Z M1350.4,569.2L1347.1,569.8L1343.2,568.3L1341.1,564.4L1341.4,560.8L1343.6,558.5L1347.4,559.0L1350.6,562.1L1351.4,566.0Z M1425.4,632.9L1423.0,633.9L1420.1,631.9L1417.4,629.0L1417.4,625.8L1419.6,624.7L1422.5,624.6L1425.5,627.3L1426.1,630.6Z M1338.8,707.3L1339.0,703.8L1342.2,701.8L1345.8,700.9L1348.9,702.8L1349.9,706.2L1347.9,709.2L1344.5,710.4L1341.1,709.9Z M1364.2,644.4L1363.0,641.2L1362.6,636.0L1363.7,629.0L1365.7,623.8L1367.7,622.8L1369.1,624.8L1369.3,630.2L1368.3,636.7L1366.4,642.3Z M1433.6,587.2L1431.8,584.8L1431.2,580.5L1431.7,575.8L1433.0,571.2L1435.2,570.9L1437.0,572.5L1438.0,576.2L1437.4,581.3L1435.7,584.8Z M1451.7,595.1L1450.0,593.8L1448.1,589.0L1446.8,582.4L1446.4,576.8L1447.3,574.4L1449.1,577.2L1450.9,581.8L1452.5,588.1L1452.6,593.2Z" fill="#9a9a9a" fill-opacity="0.3" stroke="#2c2c2c" stroke-opacity="0.6" stroke-width="4.4" filter="url(#sf2)"/>
<path d="M1358.8,668.2L1357.5,665.9L1356.4,662.3L1356.1,657.4L1356.3,652.8L1357.5,650.9L1358.9,652.5L1359.9,656.9L1360.2,661.9L1359.9,666.4Z M1395.2,646.8L1394.7,644.8L1397.3,639.1L1401.2,633.3L1405.1,628.7L1407.4,627.6L1407.2,630.6L1405.2,635.6L1401.3,641.7L1397.2,646.4Z M1323.4,645.3L1322.0,644.1L1321.4,638.1L1321.5,631.8L1322.4,627.0L1323.7,624.7L1325.0,626.3L1325.7,631.9L1325.6,638.2L1324.9,644.2Z M1375.1,560.6L1374.3,558.6L1375.7,554.1L1378.2,549.7L1381.0,546.4L1382.8,546.2L1383.8,547.7L1382.7,551.9L1380.2,556.7L1377.2,560.0Z M1414.8,649.1L1412.1,648.1L1411.8,643.9L1413.3,640.2L1415.6,637.0L1418.4,638.1L1419.5,641.4L1419.8,645.5L1417.5,648.8Z M1446.4,666.7L1443.3,666.7L1439.9,665.3L1437.7,661.6L1437.8,658.4L1439.8,656.9L1442.9,657.6L1446.1,660.1L1447.8,664.0Z M1325.6,687.7L1325.1,684.7L1326.7,681.1L1330.7,679.6L1334.4,679.4L1336.1,681.9L1334.6,685.3L1332.1,688.3L1328.1,689.6Z M1450.1,561.4L1448.1,564.4L1444.7,565.9L1441.2,564.5L1439.0,561.7L1439.1,558.3L1442.3,556.5L1445.7,556.4L1449.0,557.9Z M1321.3,576.8L1318.4,576.1L1317.4,572.8L1317.5,569.3L1320.1,567.4L1322.9,567.8L1325.7,569.4L1325.3,572.9L1323.9,575.5Z M1328.3,644.5L1326.0,642.8L1323.1,639.7L1320.4,634.8L1318.9,630.9L1319.0,628.9L1320.8,629.6L1323.6,632.5L1326.4,637.5L1327.9,641.6Z M1422.6,686.9L1420.5,686.2L1417.0,681.5L1413.7,675.7L1412.2,670.9L1412.2,667.9L1414.7,669.7L1417.9,673.2L1421.4,679.5L1423.0,684.6Z M1382.3,612.8L1379.8,610.5L1379.1,607.1L1380.2,603.6L1383.3,602.5L1386.3,603.1L1387.9,605.9L1387.5,609.2L1385.7,612.4Z M1359.3,593.2L1359.3,591.1L1362.4,585.6L1366.3,579.9L1370.4,575.3L1372.2,574.9L1371.8,577.6L1369.4,582.2L1365.4,588.1L1361.3,592.5Z M1437.9,678.7L1435.6,678.8L1432.9,674.7L1431.2,669.3L1430.7,664.5L1432.0,662.1L1434.5,663.0L1437.1,667.4L1439.2,672.4L1439.6,677.4Z M1368.9,663.0L1370.4,660.0L1373.9,658.6L1377.9,658.5L1380.7,660.7L1380.4,663.6L1377.8,665.6L1374.4,666.7L1371.4,665.2Z M1369.5,661.7L1368.2,659.5L1368.5,653.5L1369.6,647.0L1371.7,642.6L1373.6,641.0L1375.0,642.7L1375.1,648.1L1373.6,654.6L1371.6,659.9Z M1329.8,600.4L1330.2,597.6L1332.4,595.0L1336.0,595.1L1338.6,597.1L1339.6,600.1L1337.5,602.7L1334.2,603.5L1331.1,602.9Z M1380.3,611.5L1377.7,613.9L1374.7,615.3L1370.6,615.1L1367.8,612.7L1368.2,609.6L1371.2,607.6L1375.1,606.9L1378.5,608.6Z M1341.3,664.7L1338.4,663.6L1338.0,659.6L1338.9,655.9L1341.2,653.0L1343.9,654.2L1346.4,656.3L1345.8,660.5L1344.2,664.0Z M1326.6,658.6L1324.3,658.2L1321.0,653.5L1318.3,648.4L1317.1,643.7L1317.8,641.5L1320.1,642.5L1323.2,645.5L1326.2,651.3L1326.9,655.6Z M1336.9,592.7L1336.6,590.1L1339.3,587.6L1343.2,586.5L1345.9,587.9L1346.7,590.2L1345.7,592.9L1342.1,594.5L1338.5,594.8Z M1429.9,684.3L1430.6,681.2L1433.3,679.7L1436.6,679.5L1438.3,682.2L1438.4,685.1L1436.9,687.8L1433.9,688.5L1431.0,687.2Z M1356.6,705.2L1354.5,701.9L1352.2,697.0L1350.7,688.9L1350.8,683.1L1351.9,680.1L1353.9,682.8L1356.2,687.9L1357.8,695.9L1357.8,702.2Z M1359.1,569.7L1359.3,566.1L1361.3,563.1L1364.8,562.4L1368.5,562.5L1369.2,566.0L1368.9,569.3L1365.8,571.6L1362.4,571.2Z M1353.3,652.6L1351.8,651.6L1350.3,647.2L1349.3,641.6L1349.3,636.9L1350.4,635.8L1351.8,636.8L1353.3,641.0L1354.3,646.6L1354.0,650.5Z M1346.1,658.4L1345.8,656.2L1348.5,651.0L1352.0,645.4L1356.1,641.1L1358.6,640.2L1358.0,643.5L1356.1,648.2L1352.1,654.0L1348.6,657.1Z M1366.1,625.5L1362.8,625.0L1358.1,621.5L1353.9,616.5L1350.9,611.5L1351.1,608.6L1354.2,609.2L1358.6,611.8L1363.3,617.2L1365.4,621.8Z M1380.4,628.1L1382.6,625.2L1385.4,623.1L1389.0,623.7L1392.2,625.6L1391.6,629.0L1390.0,632.1L1385.9,632.8L1382.3,631.3Z M1342.9,594.1L1340.7,591.6L1341.3,587.6L1343.1,584.2L1346.2,582.0L1349.0,583.6L1350.2,587.0L1349.4,591.3L1346.2,593.7Z M1382.8,601.1L1379.6,602.2L1375.8,601.1L1373.7,597.8L1373.2,594.4L1375.2,592.1L1378.7,591.4L1382.4,593.9L1383.5,597.7Z M1337.3,664.1L1334.6,665.7L1331.1,664.1L1329.7,660.7L1329.8,657.7L1331.4,655.1L1334.8,655.8L1337.7,658.0L1338.8,661.5Z M1379.5,627.9L1380.1,625.3L1382.5,622.7L1386.4,621.1L1390.1,621.4L1391.0,624.0L1389.6,627.1L1385.5,628.9L1381.7,629.5Z M1421.8,616.3L1418.7,615.7L1417.1,612.1L1418.4,608.5L1420.3,605.4L1423.3,606.5L1426.0,608.3L1426.5,612.2L1424.6,615.3Z M1334.0,586.0L1332.5,583.5L1331.4,579.6L1331.7,574.4L1332.9,570.6L1334.5,568.9L1336.1,570.6L1337.0,574.6L1336.8,579.5L1335.9,584.5Z M1452.3,645.9L1450.6,644.8L1449.9,638.2L1449.5,631.0L1450.6,625.1L1452.2,622.6L1453.6,626.1L1454.9,631.0L1454.8,638.5L1453.8,644.3Z M1324.1,651.4L1326.1,648.3L1328.8,646.2L1332.6,646.3L1334.7,649.1L1335.7,652.5L1333.2,655.3L1329.5,655.4L1326.3,654.2Z M1317.7,636.2L1314.0,636.9L1310.4,635.0L1308.3,631.5L1308.7,628.0L1311.1,626.1L1314.6,626.0L1317.4,628.9L1318.5,632.6Z M1327.8,711.0L1325.8,709.5L1323.5,706.3L1321.7,701.8L1320.8,697.4L1321.6,695.6L1323.4,696.4L1325.8,699.9L1327.7,704.6L1328.5,708.8Z M1330.7,590.6L1329.9,588.9L1332.9,583.5L1336.6,578.3L1340.5,574.0L1342.8,573.4L1342.5,576.3L1340.2,581.0L1336.6,586.5L1333.0,589.7Z M1446.1,565.0L1443.1,564.8L1441.5,560.7L1441.6,556.4L1443.9,553.8L1446.7,553.1L1449.0,556.1L1449.6,560.0L1448.6,563.7Z M1303.1,578.8L1301.6,575.7L1301.7,571.5L1304.8,568.5L1308.1,566.4L1310.8,568.0L1311.2,571.8L1309.7,575.8L1306.5,577.8Z M1337.4,703.8L1335.2,702.6L1333.2,699.5L1332.5,694.9L1333.3,691.3L1334.9,689.3L1337.0,690.8L1339.1,693.6L1339.5,698.1L1339.3,702.3Z M1394.4,657.0L1391.4,658.5L1388.3,658.1L1385.6,656.3L1385.3,652.7L1387.4,649.6L1390.9,648.9L1394.0,650.4L1394.8,653.6Z M1425.2,612.6L1424.0,615.4L1420.8,616.7L1417.5,615.8L1415.5,613.3L1416.1,610.6L1417.9,608.1L1421.5,608.1L1424.1,609.9Z M1371.7,605.8L1369.7,604.9L1367.7,599.5L1366.8,592.7L1366.8,586.4L1368.6,584.9L1370.7,586.5L1372.4,592.1L1373.4,598.3L1373.2,603.7Z M1435.0,663.5L1434.9,661.4L1436.5,657.6L1439.4,653.7L1442.5,650.4L1444.5,649.9L1444.4,652.2L1442.5,656.0L1439.9,659.7L1437.2,662.4Z M1362.9,647.2L1360.4,645.9L1358.5,643.4L1359.3,640.0L1361.9,638.1L1364.8,638.5L1367.3,640.4L1367.4,643.8L1365.4,646.1Z M1349.1,564.7L1347.6,563.1L1346.2,559.5L1345.2,554.9L1345.2,550.9L1346.1,548.7L1347.7,550.0L1349.3,554.0L1350.0,558.8L1350.2,563.2Z M1394.6,702.8L1392.1,701.3L1389.1,697.4L1386.6,691.4L1385.0,685.8L1386.2,684.0L1388.4,685.4L1391.3,689.1L1394.2,695.1L1395.3,700.4Z M1380.0,593.9L1379.0,591.6L1378.9,587.1L1380.6,581.1L1382.4,576.7L1384.3,574.9L1385.2,577.0L1385.1,581.9L1383.7,588.0L1381.8,592.2Z M1382.1,555.1L1380.2,556.8L1376.5,556.3L1373.1,553.8L1372.4,550.8L1373.0,548.1L1376.5,547.7L1380.3,549.7L1382.2,552.6Z M1346.0,578.0L1345.4,574.6L1345.5,569.4L1346.6,562.8L1348.2,557.3L1349.9,554.6L1350.8,557.2L1350.4,563.3L1349.2,569.9L1347.7,575.7Z M1448.3,696.1L1445.9,695.6L1443.2,691.9L1441.8,686.7L1441.2,681.9L1442.5,679.6L1445.0,681.1L1447.5,684.6L1449.3,689.5L1449.6,693.9Z M1391.3,627.4L1387.8,626.4L1385.7,622.4L1385.3,618.1L1386.9,614.8L1389.9,614.7L1393.0,616.2L1394.6,620.5L1393.6,624.5Z M1320.8,706.1L1319.3,702.9L1320.4,698.9L1323.0,695.1L1326.9,694.0L1328.7,696.7L1330.1,699.8L1327.4,703.5L1324.2,706.5Z M1340.6,650.1L1337.9,650.5L1334.9,648.7L1332.9,645.6L1332.2,641.9L1334.6,640.4L1338.0,640.8L1341.3,643.9L1342.0,647.8Z M1434.1,648.6L1432.9,644.9L1432.1,639.2L1432.0,631.6L1432.9,626.2L1434.1,622.4L1435.4,625.1L1436.2,631.7L1436.2,639.5L1435.3,645.0Z M1347.3,656.0L1347.5,653.1L1348.8,650.0L1352.3,648.9L1355.6,648.8L1356.7,651.3L1356.1,654.3L1353.3,656.7L1349.7,657.7Z M1368.5,556.5L1367.3,554.1L1368.8,551.0L1371.9,549.1L1374.6,549.8L1376.2,551.5L1376.3,554.4L1373.9,557.2L1370.6,558.1Z M1328.1,648.1L1329.2,645.6L1332.1,643.6L1335.8,643.9L1339.0,645.2L1339.3,648.0L1336.8,650.3L1333.1,651.7L1329.5,650.6Z M1445.8,693.7L1443.6,691.4L1444.1,687.4L1447.1,684.6L1450.5,683.6L1453.2,685.1L1453.6,688.7L1451.7,692.1L1448.8,694.3Z M1413.6,663.8L1412.8,660.8L1414.9,654.5L1418.3,648.1L1422.0,644.4L1425.3,642.3L1426.2,645.2L1424.1,651.4L1420.8,657.7L1417.0,661.6Z M1349.3,652.2L1346.4,653.7L1342.9,652.2L1340.4,649.6L1340.3,646.5L1341.7,643.9L1345.1,643.9L1348.5,645.7L1349.1,649.0Z M1338.7,648.7L1337.5,646.3L1337.7,642.6L1339.4,638.3L1342.2,637.3L1344.5,637.8L1345.6,641.0L1343.7,645.1L1341.3,647.7Z M1359.7,635.6L1359.9,632.7L1362.6,630.2L1366.1,628.1L1368.8,629.1L1370.9,630.8L1369.1,633.9L1365.9,636.5L1362.2,636.8Z M1328.7,693.8L1325.3,694.1L1322.2,690.8L1319.6,687.1L1320.0,683.4L1322.8,682.5L1325.9,683.5L1328.4,686.7L1330.1,690.7Z M1393.5,629.8L1392.7,627.7L1396.5,622.1L1401.0,616.8L1406.0,612.2L1408.2,612.7L1408.9,614.9L1406.0,620.4L1400.7,626.1L1396.0,629.8Z M1433.6,598.4L1432.3,595.3L1431.8,591.6L1434.8,588.6L1438.4,588.7L1441.5,590.0L1441.8,593.7L1440.3,597.2L1437.0,598.7Z M1378.2,701.8L1376.9,699.5L1377.4,694.1L1379.4,688.3L1381.8,683.5L1384.2,682.2L1385.0,685.3L1384.6,690.0L1383.2,695.9L1380.7,699.6Z M1378.1,663.2L1375.9,661.6L1374.1,658.3L1375.3,653.9L1377.8,651.7L1380.4,652.0L1382.1,654.9L1382.8,659.0L1380.7,662.3Z M1434.3,628.3L1431.8,626.8L1428.2,622.2L1424.5,615.8L1422.3,610.1L1422.7,607.8L1424.9,608.7L1428.6,613.2L1432.1,619.8L1434.3,625.4Z M1357.0,562.8L1355.6,559.9L1355.3,556.6L1356.9,553.0L1359.9,552.7L1362.7,553.0L1363.4,556.2L1362.6,559.7L1360.1,562.4Z M1400.9,695.6L1400.1,693.7L1402.0,689.9L1405.0,686.4L1408.3,684.2L1410.7,684.2L1411.0,686.5L1409.4,690.1L1406.3,693.7L1403.2,695.5Z M1402.3,684.3L1400.5,682.0L1399.9,678.4L1402.5,675.4L1405.3,673.9L1408.1,674.8L1409.0,678.1L1407.6,681.6L1405.2,684.1Z M1433.9,647.5L1432.6,650.3L1429.2,650.2L1426.4,648.7L1425.6,645.9L1426.4,643.4L1428.8,641.8L1432.2,642.1L1434.6,644.6Z M1375.2,652.6L1374.8,650.6L1376.3,645.9L1379.0,640.3L1382.3,635.9L1384.2,635.4L1384.4,637.8L1383.2,642.4L1380.1,647.7L1376.9,652.4Z M1346.9,631.3L1347.5,627.7L1349.9,622.1L1353.6,615.5L1357.3,611.3L1360.1,609.2L1359.8,612.3L1357.6,617.8L1353.6,624.2L1349.6,629.7Z M1417.8,646.0L1415.5,645.7L1411.8,641.5L1408.4,635.7L1407.4,631.2L1407.7,628.2L1410.2,629.1L1413.8,632.6L1416.9,638.5L1418.4,643.4Z M1410.7,638.8L1408.5,638.7L1404.3,635.3L1400.3,630.9L1397.3,626.5L1397.0,623.9L1399.5,624.3L1403.8,627.6L1407.6,632.1L1410.2,636.2Z M1315.5,698.7L1314.8,696.1L1315.7,690.8L1319.3,684.2L1323.0,679.1L1325.6,678.2L1326.5,680.6L1324.4,686.9L1321.6,693.5L1317.7,698.7Z M1446.2,672.7L1443.3,674.4L1439.8,673.5L1437.1,670.9L1436.8,667.4L1438.8,664.8L1442.2,664.2L1445.5,666.2L1447.3,669.5Z M1428.5,580.8L1428.1,578.1L1430.6,576.0L1433.7,576.1L1436.7,576.9L1437.4,579.6L1435.5,581.9L1432.8,583.3L1429.7,583.1Z M1454.1,623.5L1450.5,624.2L1447.0,621.9L1445.8,618.1L1446.8,614.9L1449.3,612.9L1452.7,613.8L1455.4,616.5L1455.2,620.1Z M1325.0,565.0L1323.3,564.2L1321.4,560.5L1319.9,556.0L1319.6,552.3L1320.3,550.0L1322.1,551.7L1323.9,555.0L1325.2,559.2L1325.9,563.4Z M1331.8,646.0L1330.1,643.5L1332.9,640.0L1336.0,637.5L1340.0,636.3L1341.0,639.4L1341.5,642.7L1338.4,646.3L1334.6,646.8Z M1449.8,586.0L1447.9,582.8L1446.8,577.2L1447.4,570.0L1448.6,563.7L1450.8,562.3L1452.8,563.8L1453.6,570.2L1453.2,577.0L1452.0,583.0Z M1437.0,618.8L1435.7,617.3L1434.3,612.6L1433.5,606.3L1433.7,601.4L1434.7,599.4L1436.1,601.3L1437.4,605.9L1438.2,612.2L1438.0,616.8Z M1372.9,581.3L1372.7,578.2L1373.6,573.1L1376.0,566.4L1378.9,561.2L1381.0,560.0L1381.8,562.1L1380.6,568.1L1377.9,575.0L1374.9,580.2Z M1393.7,665.9L1395.0,662.9L1398.6,660.6L1403.2,660.6L1406.4,662.2L1406.1,664.9L1404.5,667.6L1400.3,668.2L1395.9,668.3Z M1350.4,569.2L1347.1,569.8L1343.2,568.3L1341.1,564.4L1341.4,560.8L1343.6,558.5L1347.4,559.0L1350.6,562.1L1351.4,566.0Z M1425.4,632.9L1423.0,633.9L1420.1,631.9L1417.4,629.0L1417.4,625.8L1419.6,624.7L1422.5,624.6L1425.5,627.3L1426.1,630.6Z M1338.8,707.3L1339.0,703.8L1342.2,701.8L1345.8,700.9L1348.9,702.8L1349.9,706.2L1347.9,709.2L1344.5,710.4L1341.1,709.9Z M1364.2,644.4L1363.0,641.2L1362.6,636.0L1363.7,629.0L1365.7,623.8L1367.7,622.8L1369.1,624.8L1369.3,630.2L1368.3,636.7L1366.4,642.3Z M1433.6,587.2L1431.8,584.8L1431.2,580.5L1431.7,575.8L1433.0,571.2L1435.2,570.9L1437.0,572.5L1438.0,576.2L1437.4,581.3L1435.7,584.8Z M1451.7,595.1L1450.0,593.8L1448.1,589.0L1446.8,582.4L1446.4,576.8L1447.3,574.4L1449.1,577.2L1450.9,581.8L1452.5,588.1L1452.6,593.2Z" fill="none" stroke="#d4d4d4" stroke-opacity="0.9" stroke-width="1.7" filter="url(#sf)"/>
<rect x="1276.0" y="552.0" width="177.0" height="199.0" fill="#000" filter="url(#grain)" opacity="0.12"/>
</g>
<rect x="1400.5" y="734.8" width="44.5" height="3.8" fill="#fff"/>
<clipPath id="ci4"><rect x="1462.0" y="554.0" width="178.0" height="198.0"/></clipPath>
<g clip-path="url(#ci4)">
<rect x="1462.0" y="554.0" width="178.0" height="198.0" fill="#636363"/>
<path d="M1567.3,628.9a4.0,4.0 0 1,0 7.9,0a4.0,4.0 0 1,0 -7.9,0Z M1575.0,655.9a4.2,4.2 0 1,0 8.4,0a4.2,4.2 0 1,0 -8.4,0Z M1514.5,636.4a3.8,3.8 0 1,0 7.7,0a3.8,3.8 0 1,0 -7.7,0Z M1511.7,559.1a4.4,4.4 0 1,0 8.8,0a4.4,4.4 0 1,0 -8.8,0Z M1540.3,640.8a4.5,4.5 0 1,0 9.0,0a4.5,4.5 0 1,0 -9.0,0Z M1599.7,603.6a4.2,4.2 0 1,0 8.5,0a4.2,4.2 0 1,0 -8.5,0Z M1466.2,653.5a3.8,3.8 0 1,0 7.5,0a3.8,3.8 0 1,0 -7.5,0Z M1548.2,587.0a3.9,3.9 0 1,0 7.8,0a3.9,3.9 0 1,0 -7.8,0Z M1527.4,664.1a4.2,4.2 0 1,0 8.4,0a4.2,4.2 0 1,0 -8.4,0Z M1529.4,658.7a4.0,4.0 0 1,0 8.1,0a4.0,4.0 0 1,0 -8.1,0Z M1513.0,568.4a4.0,4.0 0 1,0 8.0,0a4.0,4.0 0 1,0 -8.0,0Z M1544.2,595.9a3.6,3.6 0 1,0 7.2,0a3.6,3.6 0 1,0 -7.2,0Z M1548.7,614.6a4.0,4.0 0 1,0 8.0,0a4.0,4.0 0 1,0 -8.0,0Z M1537.2,627.0a4.0,4.0 0 1,0 7.9,0a4.0,4.0 0 1,0 -7.9,0Z M1584.7,632.8a3.7,3.7 0 1,0 7.4,0a3.7,3.7 0 1,0 -7.4,0Z M1463.1,563.8a4.6,4.6 0 1,0 9.2,0a4.6,4.6 0 1,0 -9.2,0Z M1488.6,662.4a4.4,4.4 0 1,0 8.7,0a4.4,4.4 0 1,0 -8.7,0Z M1545.5,650.8a4.6,4.6 0 1,0 9.1,0a4.6,4.6 0 1,0 -9.1,0Z M1566.0,615.9a3.8,3.8 0 1,0 7.7,0a3.8,3.8 0 1,0 -7.7,0Z M1508.3,592.8a4.3,4.3 0 1,0 8.6,0a4.3,4.3 0 1,0 -8.6,0Z M1485.6,584.7a4.3,4.3 0 1,0 8.6,0a4.3,4.3 0 1,0 -8.6,0Z M1561.8,571.5a3.8,3.8 0 1,0 7.7,0a3.8,3.8 0 1,0 -7.7,0Z M1577.1,601.0a4.2,4.2 0 1,0 8.4,0a4.2,4.2 0 1,0 -8.4,0Z M1528.3,558.3a4.3,4.3 0 1,0 8.6,0a4.3,4.3 0 1,0 -8.6,0Z M1564.2,562.1a4.2,4.2 0 1,0 8.4,0a4.2,4.2 0 1,0 -8.4,0Z M1459.2,663.6a4.1,4.1 0 1,0 8.3,0a4.1,4.1 0 1,0 -8.3,0Z M1482.8,670.0a3.9,3.9 0 1,0 7.7,0a3.9,3.9 0 1,0 -7.7,0Z M1496.3,595.8a3.9,3.9 0 1,0 7.7,0a3.9,3.9 0 1,0 -7.7,0Z M1475.7,600.8a3.9,3.9 0 1,0 7.8,0a3.9,3.9 0 1,0 -7.8,0Z M1565.1,566.0a4.1,4.1 0 1,0 8.2,0a4.1,4.1 0 1,0 -8.2,0Z M1488.0,641.1a4.0,4.0 0 1,0 8.0,0a4.0,4.0 0 1,0 -8.0,0Z M1586.7,610.0a3.8,3.8 0 1,0 7.6,0a3.8,3.8 0 1,0 -7.6,0Z M1540.4,619.6a3.7,3.7 0 1,0 7.3,0a3.7,3.7 0 1,0 -7.3,0Z M1533.1,560.6a4.6,4.6 0 1,0 9.2,0a4.6,4.6 0 1,0 -9.2,0Z M1509.4,661.5a4.0,4.0 0 1,0 7.9,0a4.0,4.0 0 1,0 -7.9,0Z M1612.7,597.3a4.5,4.5 0 1,0 9.0,0a4.5,4.5 0 1,0 -9.0,0Z M1574.6,602.5a4.5,4.5 0 1,0 9.0,0a4.5,4.5 0 1,0 -9.0,0Z M1583.1,566.8a3.8,3.8 0 1,0 7.5,0a3.8,3.8 0 1,0 -7.5,0Z M1501.7,557.9a3.8,3.8 0 1,0 7.6,0a3.8,3.8 0 1,0 -7.6,0Z M1483.3,612.9a3.8,3.8 0 1,0 7.7,0a3.8,3.8 0 1,0 -7.7,0Z M1555.6,593.6a3.6,3.6 0 1,0 7.2,0a3.6,3.6 0 1,0 -7.2,0Z M1539.5,623.7a3.8,3.8 0 1,0 7.6,0a3.8,3.8 0 1,0 -7.6,0Z M1580.3,625.3a4.2,4.2 0 1,0 8.4,0a4.2,4.2 0 1,0 -8.4,0Z M1600.8,610.1a4.3,4.3 0 1,0 8.6,0a4.3,4.3 0 1,0 -8.6,0Z M1465.4,603.6a3.8,3.8 0 1,0 7.5,0a3.8,3.8 0 1,0 -7.5,0Z M1512.3,661.5a4.1,4.1 0 1,0 8.3,0a4.1,4.1 0 1,0 -8.3,0Z M1562.1,588.3a4.2,4.2 0 1,0 8.5,0a4.2,4.2 0 1,0 -8.5,0Z M1618.2,562.4a4.3,4.3 0 1,0 8.6,0a4.3,4.3 0 1,0 -8.6,0Z M1595.4,554.2a4.3,4.3 0 1,0 8.6,0a4.3,4.3 0 1,0 -8.6,0Z M1566.1,671.8a4.4,4.4 0 1,0 8.7,0a4.4,4.4 0 1,0 -8.7,0Z" fill="#505050" fill-opacity="0.35" stroke="#2a2a2a" stroke-opacity="0.55" stroke-width="4.0" filter="url(#sf2)"/>
<path d="M1567.3,628.9a4.0,4.0 0 1,0 7.9,0a4.0,4.0 0 1,0 -7.9,0Z M1575.0,655.9a4.2,4.2 0 1,0 8.4,0a4.2,4.2 0 1,0 -8.4,0Z M1514.5,636.4a3.8,3.8 0 1,0 7.7,0a3.8,3.8 0 1,0 -7.7,0Z M1511.7,559.1a4.4,4.4 0 1,0 8.8,0a4.4,4.4 0 1,0 -8.8,0Z M1540.3,640.8a4.5,4.5 0 1,0 9.0,0a4.5,4.5 0 1,0 -9.0,0Z M1599.7,603.6a4.2,4.2 0 1,0 8.5,0a4.2,4.2 0 1,0 -8.5,0Z M1466.2,653.5a3.8,3.8 0 1,0 7.5,0a3.8,3.8 0 1,0 -7.5,0Z M1548.2,587.0a3.9,3.9 0 1,0 7.8,0a3.9,3.9 0 1,0 -7.8,0Z M1527.4,664.1a4.2,4.2 0 1,0 8.4,0a4.2,4.2 0 1,0 -8.4,0Z M1529.4,658.7a4.0,4.0 0 1,0 8.1,0a4.0,4.0 0 1,0 -8.1,0Z M1513.0,568.4a4.0,4.0 0 1,0 8.0,0a4.0,4.0 0 1,0 -8.0,0Z M1544.2,595.9a3.6,3.6 0 1,0 7.2,0a3.6,3.6 0 1,0 -7.2,0Z M1548.7,614.6a4.0,4.0 0 1,0 8.0,0a4.0,4.0 0 1,0 -8.0,0Z M1537.2,627.0a4.0,4.0 0 1,0 7.9,0a4.0,4.0 0 1,0 -7.9,0Z M1584.7,632.8a3.7,3.7 0 1,0 7.4,0a3.7,3.7 0 1,0 -7.4,0Z M1463.1,563.8a4.6,4.6 0 1,0 9.2,0a4.6,4.6 0 1,0 -9.2,0Z M1488.6,662.4a4.4,4.4 0 1,0 8.7,0a4.4,4.4 0 1,0 -8.7,0Z M1545.5,650.8a4.6,4.6 0 1,0 9.1,0a4.6,4.6 0 1,0 -9.1,0Z M1566.0,615.9a3.8,3.8 0 1,0 7.7,0a3.8,3.8 0 1,0 -7.7,0Z M1508.3,592.8a4.3,4.3 0 1,0 8.6,0a4.3,4.3 0 1,0 -8.6,0Z M1485.6,584.7a4.3,4.3 0 1,0 8.6,0a4.3,4.3 0 1,0 -8.6,0Z M1561.8,571.5a3.8,3.8 0 1,0 7.7,0a3.8,3.8 0 1,0 -7.7,0Z M1577.1,601.0a4.2,4.2 0 1,0 8.4,0a4.2,4.2 0 1,0 -8.4,0Z M1528.3,558.3a4.3,4.3 0 1,0 8.6,0a4.3,4.3 0 1,0 -8.6,0Z M1564.2,562.1a4.2,4.2 0 1,0 8.4,0a4.2,4.2 0 1,0 -8.4,0Z M1459.2,663.6a4.1,4.1 0 1,0 8.3,0a4.1,4.1 0 1,0 -8.3,0Z M1482.8,670.0a3.9,3.9 0 1,0 7.7,0a3.9,3.9 0 1,0 -7.7,0Z M1496.3,595.8a3.9,3.9 0 1,0 7.7,0a3.9,3.9 0 1,0 -7.7,0Z M1475.7,600.8a3.9,3.9 0 1,0 7.8,0a3.9,3.9 0 1,0 -7.8,0Z M1565.1,566.0a4.1,4.1 0 1,0 8.2,0a4.1,4.1 0 1,0 -8.2,0Z M1488.0,641.1a4.0,4.0 0 1,0 8.0,0a4.0,4.0 0 1,0 -8.0,0Z M1586.7,610.0a3.8,3.8 0 1,0 7.6,0a3.8,3.8 0 1,0 -7.6,0Z M1540.4,619.6a3.7,3.7 0 1,0 7.3,0a3.7,3.7 0 1,0 -7.3,0Z M1533.1,560.6a4.6,4.6 0 1,0 9.2,0a4.6,4.6 0 1,0 -9.2,0Z M1509.4,661.5a4.0,4.0 0 1,0 7.9,0a4.0,4.0 0 1,0 -7.9,0Z M1612.7,597.3a4.5,4.5 0 1,0 9.0,0a4.5,4.5 0 1,0 -9.0,0Z M1574.6,602.5a4.5,4.5 0 1,0 9.0,0a4.5,4.5 0 1,0 -9.0,0Z M1583.1,566.8a3.8,3.8 0 1,0 7.5,0a3.8,3.8 0 1,0 -7.5,0Z M1501.7,557.9a3.8,3.8 0 1,0 7.6,0a3.8,3.8 0 1,0 -7.6,0Z M1483.3,612.9a3.8,3.8 0 1,0 7.7,0a3.8,3.8 0 1,0 -7.7,0Z M1555.6,593.6a3.6,3.6 0 1,0 7.2,0a3.6,3.6 0 1,0 -7.2,0Z M1539.5,623.7a3.8,3.8 0 1,0 7.6,0a3.8,3.8 0 1,0 -7.6,0Z M1580.3,625.3a4.2,4.2 0 1,0 8.4,0a4.2,4.2 0 1,0 -8.4,0Z M1600.8,610.1a4.3,4.3 0 1,0 8.6,0a4.3,4.3 0 1,0 -8.6,0Z M1465.4,603.6a3.8,3.8 0 1,0 7.5,0a3.8,3.8 0 1,0 -7.5,0Z M1512.3,661.5a4.1,4.1 0 1,0 8.3,0a4.1,4.1 0 1,0 -8.3,0Z M1562.1,588.3a4.2,4.2 0 1,0 8.5,0a4.2,4.2 0 1,0 -8.5,0Z M1618.2,562.4a4.3,4.3 0 1,0 8.6,0a4.3,4.3 0 1,0 -8.6,0Z M1595.4,554.2a4.3,4.3 0 1,0 8.6,0a4.3,4.3 0 1,0 -8.6,0Z M1566.1,671.8a4.4,4.4 0 1,0 8.7,0a4.4,4.4 0 1,0 -8.7,0Z" fill="none" stroke="#d8d8d8" stroke-opacity="0.95" stroke-width="1.8" filter="url(#sf)"/>
<rect x="1462.0" y="554.0" width="178.0" height="198.0" fill="#000" filter="url(#grain)" opacity="0.12"/>
</g>
<rect x="1587.5" y="734.8" width="44.5" height="3.8" fill="#fff"/>
<text x="761.80" y="775.70" font-size="27.5" font-weight="bold" fill="#000" font-family="'Liberation Serif', 'Times New Roman', serif" textLength="84.00" lengthAdjust="spacingAndGlyphs">Control</text>
<text x="911.30" y="775.70" font-size="27.5" font-weight="bold" fill="#000" font-family="'Liberation Serif', 'Times New Roman', serif" textLength="148.40" lengthAdjust="spacingAndGlyphs">Dox 20 µg/ml</text>
<text x="1160.70" y="775.70" font-size="27" font-weight="bold" fill="#000" font-family="'Liberation Serif', 'Times New Roman', serif" textLength="25.70" lengthAdjust="spacingAndGlyphs">25</text>
<text x="1351.80" y="775.70" font-size="27" font-weight="bold" fill="#000" font-family="'Liberation Serif', 'Times New Roman', serif" textLength="25.70" lengthAdjust="spacingAndGlyphs">50</text>
<text x="1536.50" y="777.30" font-size="27" font-weight="bold" fill="#000" font-family="'Liberation Serif', 'Times New Roman', serif" textLength="36.90" lengthAdjust="spacingAndGlyphs">100</text>
<line x1="1097.00" y1="787.00" x2="1612.00" y2="787.00" stroke="#000" stroke-width="2.2"/>
<text x="1236.20" y="810.40" font-size="26" font-weight="bold" fill="#000" font-family="'Liberation Serif', 'Times New Roman', serif" textLength="160.61" lengthAdjust="spacingAndGlyphs">CANE (µg/ml)</text>
<text x="940.60" y="855.80" font-size="26.5" font-weight="bold" fill="#000" font-family="'Liberation Serif', 'Times New Roman', serif" textLength="20.00" lengthAdjust="spacingAndGlyphs">e)</text>
<ellipse cx="1071.8" cy="917.2" rx="74.4" ry="73.2" fill="#ccc5ec"/>
<ellipse cx="1086.7" cy="917.2" rx="44.6" ry="51.2" fill="url(#p0g)"/>
<path d="M1110.5,863.0 Q1125.4,873.3 1128.3,890.8" stroke="#b080d8" stroke-width="6" fill="none" opacity="0.55" filter="url(#sf2)"/>
<path d="M1027.2,975.8 Q1064.4,990.4 1101.6,978.7" stroke="#6a4ac8" stroke-width="4" fill="none" opacity="0.6" filter="url(#sf2)"/>
<path d="M1064.5 846.2h0M1078.4 847.1h0M1053.8 848.3h0M1067.3 847.8h0M1076.5 848.0h0M1082.8 849.2h0M1052.8 850.3h0M1057.8 849.4h0M1062.7 850.1h0M1065.6 849.7h0M1080.5 850.9h0M1064.4 851.6h0M1065.7 852.1h0M1077.9 852.7h0M1084.3 851.2h0M1091.0 851.7h0M1094.1 851.2h0M1095.8 852.1h0M1102.0 852.3h0M1042.8 853.6h0M1053.0 852.9h0M1054.5 853.6h0M1076.9 852.9h0M1086.6 852.9h0M1090.9 854.0h0M1057.1 856.1h0M1076.3 854.6h0M1087.5 855.9h0M1099.6 855.9h0M1040.4 857.9h0M1063.0 857.1h0M1070.8 856.9h0M1079.1 857.4h0M1081.4 856.8h0M1087.1 856.5h0M1097.9 856.8h0M1103.7 857.6h0M1033.3 858.6h0M1036.3 858.7h0M1042.3 859.7h0M1059.3 859.4h0M1069.9 858.6h0M1089.4 858.1h0M1090.4 858.1h0M1092.1 858.8h0M1094.2 859.5h0M1100.0 858.9h0M1102.8 858.4h0M1104.5 858.9h0M1038.7 860.3h0M1046.9 861.4h0M1052.4 859.8h0M1062.2 859.8h0M1065.5 860.0h0M1090.9 861.4h0M1094.4 860.5h0M1107.9 861.4h0M1113.4 860.3h0M1028.0 862.5h0M1034.8 863.2h0M1045.3 862.5h0M1052.8 862.8h0M1056.4 862.4h0M1058.0 862.1h0M1069.4 862.3h0M1079.7 863.2h0M1089.5 862.1h0M1103.5 862.8h0M1110.5 862.8h0M1028.5 863.8h0M1034.3 865.0h0M1044.3 863.5h0M1081.9 863.4h0M1085.2 864.0h0M1101.5 864.7h0M1108.2 864.8h0M1120.5 864.5h0M1028.3 866.7h0M1061.6 865.6h0M1064.1 865.4h0M1067.8 865.8h0M1070.7 866.3h0M1085.5 866.7h0M1096.8 866.1h0M1106.2 866.5h0M1111.5 866.3h0M1019.2 867.6h0M1020.8 867.1h0M1059.7 867.0h0M1070.9 867.3h0M1074.3 867.5h0M1077.9 866.8h0M1083.6 866.8h0M1086.3 867.3h0M1100.0 867.3h0M1101.3 867.0h0M1103.6 867.9h0M1106.4 866.9h0M1114.3 868.2h0M1120.4 866.8h0M1030.1 870.2h0M1046.2 869.3h0M1053.2 869.3h0M1061.6 869.3h0M1062.5 869.6h0M1064.0 870.1h0M1079.8 869.5h0M1091.5 868.8h0M1123.2 870.1h0M1021.5 871.7h0M1028.1 871.0h0M1044.7 871.5h0M1077.6 871.9h0M1085.7 871.4h0M1102.1 870.4h0M1104.5 871.4h0M1033.8 873.2h0M1042.6 872.6h0M1043.4 873.5h0M1059.0 873.3h0M1067.8 873.1h0M1070.2 872.3h0M1074.1 873.6h0M1078.8 873.6h0M1085.1 873.3h0M1088.5 872.2h0M1100.7 872.2h0M1103.9 873.2h0M1105.7 872.3h0M1120.6 873.4h0M1018.8 874.7h0M1022.5 875.3h0M1028.2 874.2h0M1037.7 873.8h0M1039.8 875.2h0M1056.6 874.5h0M1058.6 874.1h0M1063.3 874.7h0M1077.0 874.1h0M1078.2 875.1h0M1085.7 875.1h0M1087.4 873.8h0M1090.0 874.6h0M1111.0 874.8h0M1124.9 875.2h0M1025.7 875.7h0M1037.5 877.2h0M1038.9 875.8h0M1050.0 875.8h0M1070.5 876.0h0M1074.2 875.8h0M1075.2 877.0h0M1080.5 876.9h0M1081.4 876.6h0M1083.9 876.4h0M1089.6 876.4h0M1102.3 876.2h0M1103.8 876.0h0M1105.3 876.9h0M1106.2 875.6h0M1115.0 876.0h0M1117.0 876.3h0M1013.4 877.9h0M1023.7 878.6h0M1030.6 877.8h0M1033.9 877.9h0M1041.0 877.4h0M1043.2 878.8h0M1048.1 877.6h0M1073.3 878.3h0M1083.0 877.3h0M1091.6 878.5h0M1092.7 877.3h0M1104.8 877.7h0M1117.4 878.8h0M1124.1 878.5h0M1126.7 878.8h0M1128.4 877.6h0M1032.1 879.3h0M1052.4 880.3h0M1053.5 879.8h0M1056.7 879.7h0M1078.8 879.3h0M1082.9 880.6h0M1092.1 879.9h0M1106.2 880.1h0M1113.4 879.2h0M1009.5 881.6h0M1016.6 881.2h0M1021.3 881.5h0M1046.9 881.9h0M1051.3 882.4h0M1060.5 882.1h0M1074.8 881.4h0M1081.5 881.4h0M1098.3 881.4h0M1116.4 881.2h0M1120.9 881.2h0M1126.5 882.3h0M1127.5 881.1h0M1131.8 881.9h0M1028.8 882.8h0M1030.4 882.7h0M1055.9 884.2h0M1061.2 883.2h0M1087.8 883.5h0M1088.9 884.2h0M1093.0 883.0h0M1096.7 882.6h0M1101.7 882.7h0M1105.8 883.2h0M1106.8 883.3h0M1115.3 882.9h0M1124.4 883.9h0M1010.2 885.4h0M1013.5 884.3h0M1031.0 885.6h0M1040.4 885.3h0M1045.5 885.2h0M1058.7 884.9h0M1073.7 885.1h0M1099.9 884.3h0M1113.0 885.6h0M1124.5 885.7h0M1132.1 884.4h0M1132.6 885.0h0M1136.8 885.8h0M1026.8 886.4h0M1045.0 886.5h0M1047.3 887.4h0M1053.1 887.0h0M1060.1 886.4h0M1065.4 886.8h0M1079.2 886.6h0M1083.5 886.2h0M1089.8 887.0h0M1090.4 887.4h0M1093.3 887.5h0M1102.0 886.2h0M1108.7 887.1h0M1018.0 888.2h0M1028.4 888.6h0M1030.2 889.3h0M1033.9 889.4h0M1036.7 888.2h0M1045.7 888.7h0M1055.3 888.2h0M1057.2 888.3h0M1073.1 888.9h0M1079.4 888.3h0M1080.5 888.0h0M1086.6 889.1h0M1091.3 889.2h0M1104.8 887.8h0M1111.6 889.0h0M1115.9 888.9h0M1122.7 888.8h0M1138.5 889.1h0M1009.6 891.0h0M1019.4 890.4h0M1034.8 890.9h0M1049.3 889.6h0M1052.8 891.2h0M1077.4 890.2h0M1081.9 891.1h0M1104.2 891.0h0M1107.0 889.5h0M1135.9 891.0h0M1004.2 891.5h0M1021.7 892.3h0M1028.7 892.3h0M1045.2 891.6h0M1059.8 892.5h0M1078.9 891.7h0M1082.0 892.4h0M1088.4 891.5h0M1097.4 892.4h0M1103.3 891.3h0M1105.9 892.0h0M1109.7 892.4h0M1117.5 892.0h0M1123.9 892.3h0M1133.8 891.9h0M1135.2 892.1h0M1138.0 892.0h0M1005.0 894.1h0M1009.5 893.2h0M1030.5 894.1h0M1032.2 894.3h0M1058.2 894.7h0M1069.0 893.9h0M1074.8 894.6h0M1080.7 893.4h0M1083.8 893.1h0M1086.6 893.5h0M1090.4 894.0h0M1093.9 893.8h0M1095.5 894.1h0M1098.6 893.2h0M1108.1 893.4h0M1118.1 893.8h0M1119.2 893.2h0M1122.0 894.6h0M1131.1 894.1h0M1139.4 894.3h0M1006.9 895.4h0M1010.1 895.6h0M1012.8 896.1h0M1039.0 895.2h0M1062.9 896.0h0M1075.9 895.3h0M1080.6 895.9h0M1089.7 895.2h0M1097.5 895.0h0M1101.6 896.1h0M1102.9 896.0h0M1105.4 894.9h0M1116.8 896.3h0M1123.1 895.5h0M1002.9 896.8h0M1008.6 897.0h0M1051.2 898.1h0M1052.2 897.0h0M1066.4 897.7h0M1067.6 897.3h0M1070.9 897.3h0M1090.6 896.8h0M1095.3 897.7h0M1103.1 896.7h0M1113.5 898.0h0M1138.2 898.2h0M1013.0 898.8h0M1015.4 898.5h0M1018.9 898.5h0M1021.6 899.9h0M1036.2 899.6h0M1049.5 899.8h0M1067.4 898.6h0M1070.3 899.2h0M1073.1 899.7h0M1075.2 898.3h0M1079.6 899.4h0M1086.7 898.6h0M1089.0 898.7h0M1092.4 899.0h0M1094.8 898.4h0M1101.2 898.3h0M1103.2 899.8h0M1109.0 899.2h0M1111.6 899.2h0M1116.0 898.7h0M1119.8 899.8h0M1119.9 899.4h0M1122.9 898.9h0M1137.2 898.9h0M1007.0 900.3h0M1008.5 900.1h0M1040.7 900.4h0M1059.3 900.7h0M1068.5 900.6h0M1095.5 900.9h0M1101.0 900.1h0M1109.7 901.4h0M1112.4 901.1h0M1114.3 901.3h0M1116.7 900.9h0M1120.2 900.6h0M1138.0 900.7h0M1004.8 903.2h0M1019.3 903.2h0M1047.3 902.2h0M1048.5 903.1h0M1054.7 902.5h0M1059.8 902.3h0M1062.3 903.1h0M1075.9 902.6h0M1081.2 902.3h0M1083.4 902.4h0M1089.1 902.7h0M1090.5 902.7h0M1095.2 903.5h0M1103.5 903.3h0M1108.0 902.5h0M1114.5 902.1h0M1016.3 904.1h0M1028.4 904.6h0M1061.5 903.6h0M1063.4 905.1h0M1064.1 903.6h0M1068.8 903.5h0M1081.4 905.2h0M1081.9 905.2h0M1085.0 904.4h0M1093.7 904.6h0M1103.0 904.1h0M1105.1 905.2h0M1108.3 904.2h0M1119.4 903.8h0M1125.9 904.2h0M1132.8 905.2h0M1008.0 905.6h0M1022.2 906.1h0M1033.8 905.3h0M1053.7 905.4h0M1077.9 906.9h0M1096.7 906.0h0M1105.4 905.8h0M1108.5 906.4h0M1113.6 906.2h0M1124.2 905.3h0M1135.5 905.3h0M1002.7 908.7h0M1022.2 908.4h0M1041.3 907.8h0M1055.1 907.6h0M1058.9 907.4h0M1065.6 908.5h0M1071.1 907.5h0M1080.5 907.2h0M1082.3 908.7h0M1083.8 908.4h0M1115.5 907.1h0M1139.0 908.6h0M1142.8 908.5h0M1002.1 909.0h0M1006.0 910.2h0M1007.7 909.7h0M1012.4 909.8h0M1013.4 910.2h0M1026.7 910.2h0M1039.3 909.3h0M1048.9 910.2h0M1051.5 909.6h0M1061.8 909.6h0M1066.1 909.1h0M1075.1 909.1h0M1091.6 910.3h0M1110.4 909.4h0M1111.2 908.9h0M1133.5 910.4h0M1139.1 909.7h0M1141.0 909.2h0M999.4 910.9h0M1006.7 911.5h0M1010.4 911.4h0M1015.0 910.9h0M1035.4 911.6h0M1047.2 910.8h0M1063.2 911.9h0M1064.5 910.6h0M1069.4 911.3h0M1077.9 910.7h0M1080.5 910.9h0M1095.5 911.5h0M1097.3 910.9h0M1100.9 911.2h0M1112.2 911.9h0M1116.4 910.8h0M999.4 913.2h0M1025.3 913.0h0M1035.9 914.0h0M1038.4 913.2h0M1050.1 912.5h0M1061.0 912.5h0M1065.1 913.0h0M1080.2 912.3h0M1094.6 913.7h0M1098.1 913.8h0M1102.8 913.8h0M1106.6 912.8h0M1108.4 912.7h0M1112.2 913.5h0M1120.7 913.9h0M1121.8 913.6h0M1126.6 912.7h0M1128.7 912.6h0M1132.8 912.4h0M1135.7 913.2h0M1140.4 913.4h0M1141.4 912.5h0M1143.9 913.8h0M1028.9 914.8h0M1043.9 914.3h0M1052.1 915.1h0M1059.5 915.0h0M1067.2 915.7h0M1070.3 914.3h0M1071.8 914.0h0M1073.1 915.3h0M1074.6 914.8h0M1092.4 914.3h0M1095.9 914.9h0M1101.6 914.1h0M1106.1 914.7h0M1110.4 914.1h0M1118.1 914.5h0M1130.0 915.5h0M1137.2 914.6h0M999.1 917.0h0M1004.6 917.0h0M1008.7 916.0h0M1012.4 916.4h0M1027.0 915.9h0M1029.6 917.5h0M1050.1 916.2h0M1057.2 916.4h0M1072.3 917.5h0M1079.1 916.7h0M1090.7 916.8h0M1100.4 917.4h0M1101.4 917.1h0M1103.0 917.4h0M1111.1 916.5h0M1117.8 917.2h0M1122.4 916.7h0M1019.0 918.1h0M1023.4 918.3h0M1035.8 917.8h0M1041.1 918.6h0M1046.9 917.9h0M1064.9 918.0h0M1072.6 917.9h0M1079.9 918.5h0M1082.3 919.0h0M1083.8 917.9h0M1090.6 918.8h0M1092.8 919.2h0M1099.0 918.5h0M1106.4 917.6h0M1110.5 918.9h0M1114.5 918.3h0M1116.6 918.5h0M1002.0 920.1h0M1013.6 920.2h0M1023.0 919.9h0M1033.4 919.6h0M1041.1 920.3h0M1044.6 919.8h0M1063.1 920.0h0M1064.4 920.1h0M1065.8 920.9h0M1076.9 920.5h0M1081.3 919.8h0M1086.6 919.3h0M1096.9 920.8h0M1099.5 920.3h0M1102.6 919.6h0M1126.7 920.6h0M1003.3 922.6h0M1034.1 921.3h0M1045.5 921.8h0M1058.1 921.5h0M1074.9 922.3h0M1085.9 922.4h0M1095.6 922.2h0M1099.4 922.0h0M1102.1 921.2h0M1112.3 921.5h0M1136.0 922.6h0M1138.2 922.7h0M1143.8 921.2h0M1005.9 923.3h0M1008.9 924.4h0M1016.5 923.8h0M1025.3 923.5h0M1037.1 923.9h0M1055.4 923.8h0M1057.4 923.5h0M1070.0 923.1h0M1073.7 923.4h0M1074.6 923.5h0M1078.1 924.5h0M1084.0 924.1h0M1085.1 924.2h0M1110.3 923.3h0M1113.0 923.0h0M1131.4 923.6h0M1136.0 924.1h0M999.6 925.9h0M1020.8 926.0h0M1026.1 925.0h0M1028.5 926.1h0M1059.8 925.0h0M1060.8 924.6h0M1063.1 925.1h0M1067.3 925.7h0M1080.0 924.8h0M1083.8 924.8h0M1085.5 924.8h0M1088.1 926.1h0M1088.5 924.9h0M1098.7 925.8h0M1107.5 925.9h0M1109.0 925.7h0M1118.9 924.8h0M1125.5 926.0h0M1127.3 925.4h0M1135.3 925.0h0M999.8 927.2h0M1004.3 927.9h0M1019.4 927.6h0M1021.3 926.8h0M1028.0 927.9h0M1034.5 926.8h0M1043.3 926.5h0M1049.7 927.5h0M1064.5 927.0h0M1073.5 927.0h0M1078.4 928.0h0M1082.1 927.8h0M1088.9 926.5h0M1092.7 926.6h0M1105.0 927.8h0M1112.6 928.0h0M1122.9 926.4h0M1138.7 927.5h0M1009.9 929.3h0M1028.5 929.4h0M1035.4 929.5h0M1051.3 928.4h0M1056.3 928.9h0M1076.6 928.2h0M1083.5 928.2h0M1090.0 929.2h0M1098.8 929.2h0M1101.9 928.0h0M1105.0 928.4h0M1106.4 929.0h0M1114.3 929.2h0M1117.7 929.7h0M1130.7 928.2h0M1138.3 928.4h0M1142.5 928.3h0M1143.3 929.5h0M1011.9 930.1h0M1020.6 931.4h0M1023.8 930.6h0M1027.5 930.8h0M1041.5 931.2h0M1045.2 931.4h0M1069.5 931.0h0M1073.2 930.8h0M1079.6 930.6h0M1090.0 930.0h0M1092.5 931.4h0M1098.2 930.5h0M1100.0 930.2h0M1110.7 930.4h0M1134.9 930.4h0M1141.4 931.5h0M1000.5 931.8h0M1015.0 932.7h0M1042.5 932.8h0M1044.3 932.3h0M1058.0 933.0h0M1066.9 933.2h0M1069.0 932.5h0M1069.6 932.4h0M1086.9 931.7h0M1100.1 932.7h0M1111.0 931.7h0M1117.1 933.1h0M1139.9 931.5h0M1006.5 933.8h0M1022.9 934.5h0M1034.9 933.7h0M1046.7 933.9h0M1060.2 934.2h0M1071.7 934.7h0M1084.6 934.9h0M1085.8 934.1h0M1093.6 934.6h0M1104.1 934.2h0M1104.5 933.5h0M1107.5 933.3h0M1010.5 936.0h0M1039.0 936.6h0M1046.2 936.2h0M1058.5 936.3h0M1065.7 936.0h0M1071.8 936.4h0M1074.9 936.2h0M1079.2 936.7h0M1086.7 935.9h0M1091.4 935.3h0M1097.6 936.3h0M1106.4 936.4h0M1112.2 936.7h0M1116.1 936.0h0M1120.3 936.6h0M1131.5 935.5h0M1132.6 935.6h0M1135.2 935.4h0M1139.6 935.5h0M1012.5 937.4h0M1088.7 936.9h0M1095.2 938.4h0M1108.3 938.0h0M1119.1 937.9h0M1121.6 937.6h0M1124.2 938.1h0M1129.7 938.2h0M1132.7 937.2h0M1141.5 937.2h0M1008.8 939.5h0M1031.0 939.2h0M1053.5 939.5h0M1063.7 940.0h0M1070.5 939.6h0M1093.8 939.8h0M1100.7 939.0h0M1107.8 939.9h0M1113.3 939.2h0M1116.8 939.8h0M1003.4 941.4h0M1009.7 940.7h0M1016.6 941.4h0M1018.4 941.6h0M1020.2 941.9h0M1025.4 940.5h0M1034.9 942.0h0M1036.7 941.6h0M1039.5 941.0h0M1046.6 941.9h0M1054.9 941.4h0M1061.2 941.1h0M1064.1 941.7h0M1072.5 940.7h0M1075.7 940.7h0M1089.5 941.1h0M1094.3 942.0h0M1096.7 941.8h0M1099.8 941.2h0M1102.5 941.0h0M1124.7 942.0h0M1010.0 943.7h0M1012.0 943.0h0M1014.6 943.2h0M1044.0 942.3h0M1054.8 942.1h0M1056.8 943.5h0M1065.4 943.5h0M1067.4 942.0h0M1076.2 943.0h0M1087.4 942.5h0M1088.6 943.3h0M1095.0 942.7h0M1103.1 943.3h0M1106.4 943.3h0M1107.9 943.3h0M1110.9 942.1h0M1111.4 942.0h0M1139.3 942.7h0M1007.7 943.8h0M1021.7 944.6h0M1022.4 944.6h0M1024.5 944.4h0M1025.7 943.8h0M1034.7 944.6h0M1049.2 944.3h0M1068.3 944.9h0M1069.5 945.2h0M1088.0 945.4h0M1088.8 944.6h0M1129.6 944.9h0M1135.9 945.3h0M1005.9 947.2h0M1013.3 946.6h0M1019.9 946.0h0M1041.1 946.6h0M1050.2 945.7h0M1053.2 947.2h0M1093.2 945.9h0M1107.3 945.8h0M1113.7 946.6h0M1120.7 946.0h0M1126.2 946.8h0M1127.4 945.7h0M1137.3 945.6h0M1013.7 948.6h0M1041.7 948.7h0M1047.6 947.7h0M1055.5 947.5h0M1067.2 948.0h0M1085.5 948.9h0M1089.9 947.4h0M1103.7 948.3h0M1104.8 947.3h0M1120.7 947.7h0M1128.9 947.7h0M1134.2 947.4h0M1038.9 949.8h0M1042.7 950.5h0M1053.4 949.7h0M1057.0 950.7h0M1083.1 950.6h0M1085.0 950.7h0M1088.1 950.0h0M1103.3 949.8h0M1106.2 950.3h0M1124.0 950.3h0M1127.1 949.4h0M1015.0 951.3h0M1020.5 951.9h0M1039.4 952.3h0M1060.6 950.9h0M1064.3 951.8h0M1065.9 952.2h0M1068.4 952.4h0M1082.0 951.6h0M1087.0 951.6h0M1089.2 951.7h0M1093.3 951.0h0M1093.7 951.8h0M1101.8 952.4h0M1112.6 951.3h0M1114.0 951.3h0M1013.3 954.0h0M1021.3 952.6h0M1026.3 953.5h0M1029.8 952.5h0M1039.0 953.4h0M1043.4 952.9h0M1055.3 953.8h0M1057.5 953.2h0M1068.5 953.3h0M1079.2 952.7h0M1092.1 953.1h0M1098.5 952.6h0M1108.2 952.8h0M1116.8 953.7h0M1016.7 955.3h0M1036.6 954.7h0M1037.8 955.4h0M1042.1 954.8h0M1047.3 955.5h0M1048.8 954.9h0M1057.6 955.7h0M1072.8 954.5h0M1077.0 955.2h0M1078.0 955.5h0M1088.3 954.9h0M1095.9 955.6h0M1106.6 955.2h0M1113.1 955.1h0M1128.8 954.3h0M1130.5 955.0h0M1012.3 956.6h0M1028.4 957.1h0M1037.5 956.2h0M1043.0 957.5h0M1046.7 957.5h0M1055.7 957.7h0M1070.6 956.9h0M1083.4 957.4h0M1089.8 956.1h0M1091.6 956.1h0M1098.3 956.1h0M1101.1 956.9h0M1112.4 956.4h0M1119.7 956.1h0M1013.4 958.7h0M1017.0 958.7h0M1022.7 959.4h0M1048.2 958.4h0M1052.8 958.9h0M1062.4 958.1h0M1070.1 958.3h0M1082.0 958.0h0M1084.3 958.1h0M1087.1 958.5h0M1094.6 958.2h0M1098.0 959.0h0M1120.3 958.4h0M1125.8 958.1h0M1015.6 960.7h0M1025.4 959.7h0M1056.2 961.1h0M1058.8 960.2h0M1070.0 960.7h0M1072.1 961.0h0M1101.9 960.5h0M1106.8 959.8h0M1124.3 960.9h0M1126.5 960.3h0M1024.5 961.3h0M1026.4 962.6h0M1028.1 962.5h0M1033.2 962.0h0M1035.6 962.7h0M1051.5 962.7h0M1068.2 961.6h0M1081.8 961.3h0M1083.8 961.4h0M1091.2 961.5h0M1104.6 962.3h0M1110.2 961.9h0M1121.1 962.0h0M1037.5 963.2h0M1038.6 964.6h0M1044.1 964.3h0M1048.4 963.7h0M1064.2 963.4h0M1078.6 964.6h0M1082.4 964.6h0M1094.9 963.0h0M1103.4 964.0h0M1107.6 963.1h0M1107.9 963.7h0M1116.2 963.3h0M1116.4 963.4h0M1045.6 965.7h0M1050.4 966.1h0M1055.2 965.6h0M1061.0 965.8h0M1064.6 966.3h0M1073.4 965.5h0M1076.4 965.7h0M1088.0 965.9h0M1092.6 965.2h0M1094.5 965.4h0M1097.9 966.0h0M1100.4 965.0h0M1111.3 966.1h0M1123.6 966.1h0M1019.4 966.6h0M1028.1 967.1h0M1036.6 967.8h0M1040.3 967.4h0M1049.6 966.9h0M1060.1 966.8h0M1064.1 966.9h0M1067.8 968.2h0M1073.0 967.0h0M1088.2 968.2h0M1089.0 967.0h0M1109.9 966.7h0M1116.2 966.9h0M1118.6 966.7h0M1122.6 967.7h0M1022.9 968.6h0M1025.8 968.5h0M1032.0 969.5h0M1035.1 969.0h0M1039.9 969.5h0M1041.2 968.7h0M1046.4 969.0h0M1049.8 969.8h0M1054.5 969.0h0M1056.0 968.9h0M1060.1 969.2h0M1063.7 968.4h0M1065.0 968.6h0M1067.4 968.4h0M1070.4 968.5h0M1071.9 968.7h0M1074.2 968.8h0M1081.2 969.3h0M1082.5 968.9h0M1083.5 969.6h0M1091.5 969.2h0M1100.1 969.4h0M1110.5 969.0h0M1111.8 968.8h0M1027.7 971.7h0M1035.1 971.7h0M1043.2 971.5h0M1048.4 970.7h0M1060.9 970.4h0M1062.4 970.1h0M1074.8 970.1h0M1076.4 971.0h0M1081.0 971.3h0M1082.5 971.1h0M1085.6 971.0h0M1096.5 970.1h0M1116.7 970.9h0M1119.8 970.8h0M1029.0 971.8h0M1034.7 971.8h0M1037.4 972.9h0M1038.0 972.7h0M1050.1 972.9h0M1053.3 973.1h0M1063.1 973.0h0M1068.8 973.4h0M1088.8 971.8h0M1096.2 973.2h0M1102.2 971.9h0M1109.2 973.3h0M1034.0 973.6h0M1034.9 974.0h0M1042.3 974.4h0M1043.0 973.5h0M1045.8 974.9h0M1053.0 973.9h0M1065.1 973.7h0M1075.6 974.1h0M1087.3 974.5h0M1093.1 973.6h0M1095.0 975.2h0M1096.4 975.2h0M1105.6 974.9h0M1110.1 974.2h0M1042.1 976.6h0M1045.4 975.4h0M1047.5 976.5h0M1048.6 976.5h0M1060.2 976.4h0M1065.2 976.0h0M1067.6 976.6h0M1069.3 976.2h0M1072.6 975.3h0M1078.6 975.9h0M1093.3 976.6h0M1096.3 976.3h0M1097.6 975.7h0M1113.1 976.0h0M1043.1 977.4h0M1052.9 977.2h0M1054.5 978.3h0M1058.4 977.9h0M1062.1 978.3h0M1066.2 978.7h0M1069.8 977.9h0M1086.0 978.4h0M1087.4 978.4h0M1091.9 977.3h0M1098.0 978.0h0M1101.0 977.9h0M1107.1 978.5h0M1109.5 977.3h0M1040.5 978.9h0M1046.8 979.2h0M1048.6 979.2h0M1050.1 979.0h0M1052.6 980.1h0M1059.8 980.3h0M1062.7 979.6h0M1071.5 979.2h0M1083.9 980.4h0M1087.2 979.3h0M1089.6 978.8h0M1050.6 982.0h0M1069.5 981.4h0M1074.1 982.2h0M1081.0 980.7h0M1043.6 982.3h0M1050.1 982.4h0M1066.0 982.7h0M1072.1 983.9h0M1074.8 983.5h0M1090.0 982.3h0M1091.6 983.8h0M1098.9 983.5h0M1056.9 984.8h0M1059.7 984.5h0M1072.4 984.3h0M1076.6 985.6h0M1085.6 984.5h0M1087.1 984.4h0M1091.0 984.2h0M1094.2 984.6h0M1056.2 986.3h0M1057.2 987.2h0M1068.7 985.9h0M1072.4 987.2h0M1074.4 987.2h0M1076.4 985.8h0M1084.9 987.3h0" stroke="#8472d0" stroke-width="1.8" stroke-linecap="round" fill="none" opacity="0.9"/>
<path d="M1056.1 847.3h0M1068.9 847.3h0M1070.0 846.2h0M1076.4 847.1h0M1082.9 846.6h0M1052.1 849.2h0M1058.2 848.4h0M1060.6 849.1h0M1078.1 847.6h0M1081.0 849.2h0M1092.8 848.6h0M1054.2 849.3h0M1077.7 850.2h0M1081.6 850.5h0M1086.1 850.8h0M1087.5 849.7h0M1093.6 850.4h0M1093.7 850.9h0M1048.9 851.7h0M1052.8 852.4h0M1057.9 851.4h0M1069.0 851.6h0M1070.2 851.8h0M1075.3 851.0h0M1077.4 851.3h0M1097.8 851.0h0M1038.8 853.9h0M1095.0 852.8h0M1100.4 854.1h0M1060.2 855.9h0M1063.7 855.3h0M1073.9 855.4h0M1081.1 854.5h0M1084.8 854.5h0M1092.8 855.4h0M1055.5 856.8h0M1057.4 856.7h0M1076.3 856.3h0M1092.2 856.5h0M1094.6 857.8h0M1099.5 857.3h0M1107.6 857.2h0M1028.2 859.7h0M1051.2 858.0h0M1086.2 858.6h0M1096.9 858.5h0M1108.4 858.9h0M1043.5 861.1h0M1054.9 860.1h0M1059.6 859.9h0M1065.8 860.6h0M1069.5 861.1h0M1076.8 860.4h0M1084.6 860.8h0M1039.2 863.2h0M1050.5 862.9h0M1064.6 861.5h0M1084.2 862.8h0M1091.9 861.7h0M1100.7 862.7h0M1104.9 862.5h0M1030.4 864.0h0M1058.5 864.6h0M1059.5 863.8h0M1062.4 864.3h0M1084.1 864.8h0M1094.5 863.5h0M1097.1 864.2h0M1110.0 864.2h0M1112.5 864.4h0M1114.4 863.4h0M1116.4 864.5h0M1042.6 865.9h0M1050.3 865.7h0M1055.2 866.2h0M1077.7 865.9h0M1081.2 865.3h0M1097.8 865.1h0M1101.0 866.4h0M1115.3 866.0h0M1120.5 865.8h0M1061.7 867.6h0M1078.8 868.2h0M1080.3 867.0h0M1094.7 867.7h0M1108.9 867.1h0M1111.8 868.1h0M1116.3 868.4h0M1043.8 869.6h0M1051.4 870.1h0M1059.5 869.1h0M1070.2 868.7h0M1072.2 870.1h0M1081.7 869.8h0M1096.2 869.1h0M1104.0 870.0h0M1113.0 869.5h0M1116.7 869.2h0M1017.5 870.9h0M1018.7 871.9h0M1036.5 870.4h0M1047.7 871.3h0M1052.6 870.5h0M1063.6 870.3h0M1071.8 871.9h0M1080.8 871.9h0M1092.2 871.8h0M1098.2 871.6h0M1110.5 871.1h0M1126.1 870.9h0M1014.9 873.0h0M1027.8 872.4h0M1035.2 873.1h0M1036.4 872.4h0M1051.5 872.2h0M1057.1 872.6h0M1072.0 872.8h0M1098.7 872.8h0M1106.3 873.7h0M1108.7 872.5h0M1126.8 873.7h0M1049.9 875.0h0M1051.7 875.2h0M1066.2 874.6h0M1068.0 874.8h0M1093.4 875.1h0M1097.4 875.2h0M1104.0 875.1h0M1117.6 874.4h0M1127.5 875.1h0M1025.1 876.1h0M1029.7 876.1h0M1058.0 875.8h0M1067.0 876.3h0M1079.1 875.9h0M1095.6 875.8h0M1112.7 876.2h0M1122.6 875.6h0M1037.2 878.4h0M1075.4 878.9h0M1079.8 878.5h0M1086.9 878.0h0M1089.2 878.0h0M1094.7 878.4h0M1102.0 878.0h0M1103.1 878.3h0M1119.6 878.1h0M1131.3 877.7h0M1132.9 878.4h0M1039.4 880.1h0M1061.8 880.7h0M1067.6 880.3h0M1071.0 879.8h0M1087.5 879.6h0M1094.0 879.7h0M1097.6 879.3h0M1099.9 879.2h0M1108.6 879.2h0M1111.8 880.5h0M1010.9 880.9h0M1039.0 881.2h0M1044.9 881.2h0M1065.4 881.0h0M1072.3 881.8h0M1092.9 881.4h0M1107.9 881.8h0M1110.9 881.0h0M1114.1 881.9h0M1009.2 883.2h0M1011.2 883.3h0M1034.8 883.0h0M1048.0 883.5h0M1052.0 884.0h0M1054.4 884.1h0M1059.1 883.5h0M1064.6 882.8h0M1082.6 882.7h0M1108.9 884.2h0M1112.2 883.3h0M1128.3 883.6h0M1129.4 884.1h0M1131.5 883.4h0M1133.3 882.8h0M1007.3 884.6h0M1028.3 885.8h0M1038.3 885.9h0M1047.9 885.6h0M1053.4 885.3h0M1058.1 884.6h0M1067.3 884.8h0M1075.4 885.7h0M1076.9 885.7h0M1078.4 884.4h0M1081.2 885.8h0M1086.3 885.1h0M1105.6 885.1h0M1108.6 885.9h0M1031.5 887.0h0M1069.5 887.1h0M1075.7 886.5h0M1085.0 886.8h0M1095.1 887.4h0M1098.0 886.8h0M1105.1 886.1h0M1118.1 886.3h0M1120.1 886.4h0M1124.7 887.7h0M1129.1 887.1h0M1006.5 889.3h0M1016.3 889.4h0M1049.5 889.3h0M1050.4 888.9h0M1054.0 889.3h0M1064.4 888.8h0M1071.2 888.1h0M1074.4 888.6h0M1076.3 889.1h0M1083.1 888.5h0M1084.3 889.2h0M1090.0 887.9h0M1092.4 888.9h0M1100.1 889.1h0M1101.8 889.1h0M1106.0 888.9h0M1117.1 889.4h0M1136.1 888.7h0M1013.3 890.2h0M1032.7 890.3h0M1062.0 890.9h0M1065.1 890.9h0M1071.2 890.7h0M1079.7 891.2h0M1086.0 890.9h0M1093.3 890.7h0M1100.7 889.9h0M1114.6 891.0h0M1115.2 891.1h0M1120.3 889.5h0M1122.7 890.6h0M1127.2 890.0h0M1042.0 892.8h0M1044.3 892.4h0M1064.4 892.3h0M1076.1 891.4h0M1085.5 891.7h0M1091.2 891.7h0M1092.8 892.2h0M1094.3 891.4h0M1105.0 892.9h0M1111.9 892.4h0M1118.3 891.6h0M1126.9 891.9h0M1003.6 894.6h0M1025.1 893.4h0M1028.4 894.1h0M1039.1 894.7h0M1053.1 894.3h0M1060.6 893.1h0M1063.0 893.6h0M1069.4 893.2h0M1076.4 893.7h0M1105.4 893.1h0M1116.2 893.8h0M1126.6 893.7h0M1005.9 895.5h0M1021.6 895.3h0M1042.1 895.0h0M1051.4 895.9h0M1052.0 895.2h0M1065.3 895.9h0M1073.7 895.6h0M1088.3 896.5h0M1090.7 895.3h0M1111.6 895.6h0M1113.1 894.9h0M1118.5 896.0h0M1127.3 895.3h0M1137.1 896.2h0M1037.1 898.1h0M1054.9 897.8h0M1058.3 896.8h0M1063.1 897.3h0M1065.2 897.8h0M1074.3 896.5h0M1075.3 897.8h0M1079.4 897.4h0M1086.1 897.2h0M1092.6 898.2h0M1105.4 896.7h0M1117.7 896.8h0M1125.7 897.1h0M1128.3 897.6h0M1132.8 897.0h0M1008.1 899.6h0M1014.6 899.4h0M1024.7 898.6h0M1054.0 899.5h0M1062.3 899.2h0M1064.3 898.3h0M1071.2 898.9h0M1085.7 898.6h0M1090.4 899.1h0M1097.9 898.3h0M1099.3 899.0h0M1104.5 899.5h0M1107.6 899.0h0M1134.9 898.7h0M1138.3 899.2h0M1002.1 901.7h0M1010.1 900.3h0M1012.8 901.5h0M1017.6 901.4h0M1021.2 900.4h0M1065.0 901.5h0M1082.1 900.7h0M1092.8 901.5h0M1098.6 901.1h0M1100.5 901.4h0M1106.1 901.7h0M1133.9 901.7h0M1142.5 901.4h0M1142.7 901.3h0M1009.1 902.9h0M1025.2 902.7h0M1041.2 901.9h0M1043.8 902.2h0M1069.2 903.5h0M1073.9 901.8h0M1082.6 903.3h0M1086.1 902.7h0M1099.7 902.0h0M1101.4 902.8h0M1106.2 902.1h0M1111.1 902.8h0M1128.2 902.0h0M1001.1 905.0h0M1013.3 903.8h0M1033.1 905.2h0M1050.7 904.2h0M1054.0 905.2h0M1055.8 903.9h0M1057.7 904.5h0M1059.0 904.8h0M1065.9 905.0h0M1071.1 905.1h0M1075.4 903.6h0M1078.1 905.0h0M1088.3 903.6h0M1089.4 904.9h0M1090.8 904.9h0M1099.3 903.8h0M1121.3 903.8h0M1140.0 904.4h0M1142.6 905.1h0M1001.4 906.2h0M1013.4 905.6h0M1035.9 905.7h0M1047.9 906.7h0M1056.0 906.6h0M1065.0 906.7h0M1068.8 906.2h0M1069.5 905.6h0M1072.6 905.7h0M1086.8 906.9h0M1099.0 906.4h0M1103.6 906.1h0M1106.9 906.1h0M1117.9 906.6h0M1125.5 905.9h0M1002.6 907.4h0M1010.1 907.1h0M1029.1 907.6h0M1032.5 907.3h0M1050.3 908.3h0M1052.5 907.1h0M1068.4 908.4h0M1069.5 907.1h0M1072.8 908.6h0M1075.9 907.8h0M1079.1 907.2h0M1086.2 907.3h0M1087.4 907.5h0M1090.9 907.8h0M1095.3 907.8h0M1119.8 907.1h0M1127.0 908.3h0M1022.1 909.9h0M1041.3 909.3h0M1052.2 910.1h0M1056.7 909.2h0M1058.4 909.1h0M1068.2 909.3h0M1069.6 910.4h0M1071.9 910.2h0M1080.6 909.9h0M1082.5 910.3h0M1085.8 909.0h0M1088.7 909.0h0M1093.0 909.4h0M1097.3 910.2h0M1099.6 909.6h0M1103.3 910.5h0M1104.4 909.0h0M1114.1 908.8h0M1117.7 909.8h0M1119.6 910.4h0M1123.5 910.2h0M1003.7 912.0h0M1008.7 911.7h0M1012.4 912.2h0M1023.9 912.1h0M1027.1 910.8h0M1027.8 911.6h0M1041.9 911.5h0M1054.3 911.2h0M1058.0 912.1h0M1060.1 911.4h0M1075.9 911.7h0M1078.8 911.2h0M1085.5 910.6h0M1093.1 911.0h0M1109.3 911.6h0M1125.7 910.6h0M1128.2 911.0h0M1131.8 910.5h0M1137.2 911.8h0M1013.4 912.6h0M1026.2 913.8h0M1032.0 912.4h0M1062.2 913.7h0M1067.8 913.8h0M1071.7 913.4h0M1077.0 912.7h0M1078.7 913.1h0M1083.1 913.8h0M1083.4 912.3h0M1088.4 912.4h0M1091.0 912.7h0M1093.5 912.9h0M1109.8 912.7h0M1118.1 912.4h0M1123.9 913.2h0M1128.2 913.6h0M1002.1 915.6h0M1049.0 915.5h0M1058.4 914.6h0M1063.0 915.0h0M1069.0 914.2h0M1079.5 914.2h0M1080.8 915.4h0M1082.4 914.1h0M1084.7 915.5h0M1090.6 915.1h0M1098.9 915.3h0M1099.3 914.4h0M1111.3 914.9h0M1114.3 914.9h0M1142.8 915.4h0M1002.1 916.8h0M1016.9 915.9h0M1019.0 916.9h0M1023.2 916.5h0M1028.3 916.6h0M1032.4 917.4h0M1033.5 916.9h0M1042.5 916.2h0M1055.7 916.3h0M1061.9 916.9h0M1069.2 917.2h0M1084.8 916.2h0M1093.9 916.3h0M1096.0 916.9h0M1105.1 916.5h0M1106.2 917.3h0M1111.5 917.3h0M1119.7 916.0h0M1143.9 915.9h0M1004.5 918.6h0M1006.7 917.8h0M1016.4 918.9h0M1025.1 918.5h0M1032.0 919.1h0M1033.2 918.4h0M1036.5 919.0h0M1054.2 919.1h0M1055.3 919.2h0M1059.5 918.8h0M1095.3 917.6h0M1097.4 918.5h0M1103.4 918.4h0M1105.5 918.8h0M1121.0 917.7h0M1136.4 918.3h0M999.4 919.9h0M1003.5 920.4h0M1004.8 920.8h0M1028.6 920.8h0M1039.0 919.6h0M1049.9 919.8h0M1074.0 919.8h0M1075.9 921.0h0M1092.6 920.0h0M1094.7 921.0h0M1101.7 921.0h0M1106.5 919.7h0M1117.4 921.0h0M1121.1 920.4h0M1000.3 922.0h0M1014.0 921.7h0M1043.3 921.3h0M1062.0 921.4h0M1062.9 922.0h0M1077.5 921.9h0M1081.5 921.9h0M1089.8 922.2h0M1092.0 921.4h0M1103.2 921.6h0M1108.1 921.3h0M1115.0 921.8h0M1125.6 922.0h0M1004.2 923.1h0M1010.4 924.0h0M1042.5 923.3h0M1049.8 922.8h0M1051.5 924.3h0M1063.4 923.7h0M1063.9 924.3h0M1068.4 923.3h0M1072.1 923.3h0M1081.5 922.8h0M1088.8 923.8h0M1091.5 924.1h0M1100.0 924.3h0M1108.8 924.3h0M1120.3 924.0h0M1123.7 924.0h0M1016.6 925.7h0M1017.9 924.6h0M1035.0 925.0h0M1037.0 925.1h0M1053.5 925.0h0M1056.7 925.1h0M1065.4 924.7h0M1074.2 926.2h0M1081.7 924.8h0M1096.0 924.8h0M1099.8 925.1h0M1101.8 924.6h0M1111.3 924.8h0M1117.6 925.9h0M1121.1 925.2h0M1141.2 925.4h0M1004.9 927.9h0M1010.0 926.7h0M1041.6 927.1h0M1045.7 926.5h0M1047.7 927.6h0M1051.9 926.8h0M1055.3 926.7h0M1062.8 927.9h0M1070.7 927.4h0M1075.9 927.3h0M1099.2 926.7h0M1106.6 926.8h0M1110.7 926.4h0M1127.1 927.9h0M1134.0 926.3h0M1029.1 928.3h0M1033.3 929.4h0M1049.0 929.0h0M1056.9 929.2h0M1064.2 928.2h0M1070.5 929.1h0M1071.5 928.0h0M1074.6 929.2h0M1078.0 929.1h0M1085.1 929.3h0M1091.4 928.1h0M1092.0 928.3h0M1094.3 929.4h0M1110.8 928.7h0M1118.5 928.2h0M1120.5 929.4h0M1126.4 928.2h0M1133.1 928.5h0M1001.3 931.0h0M1036.1 930.9h0M1059.9 931.2h0M1063.4 931.5h0M1080.1 930.4h0M1082.8 931.4h0M1115.8 930.1h0M1122.9 929.9h0M1126.5 930.5h0M1128.5 930.5h0M1128.8 930.6h0M1130.5 930.0h0M1003.9 931.9h0M1005.1 932.7h0M1008.9 932.8h0M1010.3 931.6h0M1012.6 933.0h0M1047.6 932.3h0M1054.2 933.2h0M1059.6 931.7h0M1062.2 933.1h0M1064.6 933.2h0M1075.1 932.5h0M1078.7 932.8h0M1080.3 931.5h0M1085.0 931.6h0M1100.8 931.6h0M1104.1 932.5h0M1107.8 933.2h0M1114.6 931.8h0M1119.5 932.9h0M1005.4 934.2h0M1011.0 934.6h0M1014.6 933.9h0M1021.0 934.6h0M1037.5 933.3h0M1051.0 933.8h0M1061.5 934.2h0M1068.1 933.6h0M1069.8 933.4h0M1073.2 934.5h0M1077.1 934.1h0M1087.4 934.8h0M1088.9 934.2h0M1100.3 935.0h0M1101.7 934.7h0M1120.6 933.6h0M1138.9 933.5h0M1141.8 934.8h0M1021.2 936.6h0M1042.0 935.1h0M1047.8 936.0h0M1052.3 935.8h0M1081.2 936.0h0M1082.5 935.7h0M1086.4 935.1h0M1103.3 935.5h0M1113.4 936.2h0M1124.5 936.2h0M1128.1 935.2h0M1003.9 937.5h0M1013.4 938.4h0M1016.8 937.5h0M1046.8 937.2h0M1049.7 938.1h0M1055.0 937.8h0M1060.5 937.4h0M1063.5 937.2h0M1069.6 937.0h0M1075.8 938.4h0M1096.3 937.7h0M1102.4 938.5h0M1115.9 937.4h0M1005.9 938.8h0M1032.4 939.6h0M1039.8 940.2h0M1053.1 938.9h0M1062.1 939.7h0M1067.2 939.4h0M1072.0 939.0h0M1078.5 939.5h0M1083.1 940.0h0M1083.5 939.8h0M1087.4 939.6h0M1092.3 940.2h0M1098.0 939.4h0M1106.9 940.1h0M1115.9 939.1h0M1120.0 939.3h0M1121.9 938.6h0M1131.8 938.8h0M1137.2 939.8h0M1140.9 939.7h0M1019.4 941.2h0M1033.2 941.9h0M1038.1 941.4h0M1043.7 940.8h0M1051.5 941.1h0M1059.6 941.6h0M1088.3 941.4h0M1102.1 941.2h0M1104.5 941.3h0M1127.0 940.5h0M1136.8 940.4h0M1138.0 941.6h0M1016.0 942.1h0M1016.9 942.5h0M1024.0 942.3h0M1033.5 943.3h0M1036.6 942.3h0M1052.2 943.4h0M1072.4 942.7h0M1091.6 942.6h0M1099.5 942.1h0M1101.9 942.2h0M1105.3 943.0h0M1119.8 942.2h0M1121.8 943.0h0M1129.8 943.6h0M1042.8 945.0h0M1046.1 944.6h0M1050.4 944.5h0M1057.1 944.5h0M1061.9 944.4h0M1063.0 945.4h0M1065.7 944.5h0M1074.4 943.9h0M1075.7 944.6h0M1081.2 944.4h0M1081.5 945.1h0M1093.6 945.0h0M1104.4 943.8h0M1110.5 944.4h0M1115.5 944.8h0M1120.2 944.8h0M1128.5 944.0h0M1016.3 946.4h0M1031.7 946.0h0M1046.6 946.0h0M1054.7 947.1h0M1062.2 945.7h0M1068.3 945.5h0M1069.7 946.4h0M1078.1 947.1h0M1095.6 947.2h0M1098.2 945.5h0M1100.7 946.5h0M1103.5 946.0h0M1104.6 945.8h0M1112.4 946.2h0M1123.5 947.1h0M1128.9 945.6h0M1134.5 945.9h0M1012.2 948.1h0M1019.1 948.4h0M1021.0 947.5h0M1027.1 948.2h0M1038.4 948.1h0M1040.1 947.6h0M1051.4 948.9h0M1074.8 947.8h0M1077.5 948.8h0M1098.2 948.7h0M1109.0 947.5h0M1123.0 948.7h0M1126.0 947.5h0M1136.8 948.0h0M1011.4 950.2h0M1028.2 949.3h0M1032.0 950.1h0M1068.1 949.0h0M1069.2 949.2h0M1092.7 949.9h0M1097.6 950.3h0M1100.1 950.2h0M1109.3 950.6h0M1114.1 949.6h0M1126.3 950.2h0M1012.7 951.3h0M1028.1 951.4h0M1036.5 952.1h0M1043.3 951.9h0M1055.8 952.3h0M1063.2 951.9h0M1072.1 951.5h0M1079.2 951.0h0M1100.2 951.0h0M1116.8 950.8h0M1013.0 953.4h0M1018.1 953.2h0M1023.1 953.4h0M1027.7 954.0h0M1049.5 952.7h0M1051.2 952.7h0M1052.1 953.3h0M1061.6 954.0h0M1062.8 953.0h0M1072.4 953.7h0M1073.9 952.7h0M1080.5 952.8h0M1081.9 952.9h0M1095.9 953.3h0M1099.0 954.2h0M1116.2 953.4h0M1118.6 952.8h0M1133.6 952.8h0M1020.7 955.3h0M1022.5 955.9h0M1025.3 954.7h0M1026.9 955.1h0M1030.6 954.4h0M1068.7 955.8h0M1070.9 955.4h0M1083.1 954.3h0M1084.4 955.5h0M1098.5 954.6h0M1099.3 955.9h0M1111.6 955.5h0M1121.1 955.6h0M1121.9 954.3h0M1021.9 956.9h0M1026.6 957.7h0M1045.0 956.6h0M1053.4 957.5h0M1065.2 957.7h0M1104.7 957.6h0M1115.8 956.2h0M1125.3 956.6h0M1127.1 956.7h0M1034.9 959.4h0M1038.7 958.1h0M1041.0 959.2h0M1059.7 958.3h0M1065.3 958.9h0M1071.1 959.3h0M1073.6 958.8h0M1103.3 959.4h0M1104.3 959.1h0M1108.2 957.8h0M1110.0 959.3h0M1114.5 958.6h0M1115.5 958.6h0M1123.4 958.0h0M1020.4 961.2h0M1040.8 960.5h0M1041.4 959.7h0M1047.6 959.5h0M1048.5 959.6h0M1051.6 959.5h0M1053.5 960.1h0M1060.7 959.6h0M1090.8 961.0h0M1096.6 960.4h0M1098.3 960.8h0M1104.8 959.7h0M1112.9 960.9h0M1115.2 960.7h0M1117.1 959.6h0M1015.1 962.0h0M1029.7 961.9h0M1040.5 962.4h0M1048.7 962.5h0M1065.7 962.1h0M1072.8 961.3h0M1075.1 962.4h0M1076.6 962.8h0M1080.2 962.8h0M1092.6 962.6h0M1098.0 963.0h0M1102.6 962.4h0M1109.0 962.0h0M1111.2 961.7h0M1118.4 961.8h0M1125.1 961.8h0M1126.5 962.9h0M1023.0 963.1h0M1052.1 963.0h0M1058.1 963.4h0M1060.2 963.6h0M1081.2 964.3h0M1085.3 963.5h0M1105.7 964.1h0M1119.2 963.5h0M1125.5 963.3h0M1020.8 966.1h0M1024.0 966.1h0M1026.3 966.0h0M1028.6 965.4h0M1035.5 966.0h0M1039.2 966.0h0M1049.5 964.9h0M1052.4 964.9h0M1054.0 965.8h0M1066.0 965.3h0M1070.2 966.3h0M1076.0 965.2h0M1083.7 966.1h0M1096.3 965.5h0M1110.7 966.3h0M1113.9 965.6h0M1120.7 965.1h0M1020.3 967.0h0M1024.5 967.5h0M1033.3 966.9h0M1038.8 966.9h0M1053.0 967.4h0M1055.7 967.1h0M1065.8 966.7h0M1072.1 966.7h0M1086.6 967.7h0M1091.0 967.7h0M1103.4 966.9h0M1108.3 967.5h0M1118.1 968.2h0M1120.6 967.6h0M1045.2 968.9h0M1058.1 968.7h0M1093.3 968.6h0M1102.4 969.4h0M1104.5 968.9h0M1115.3 968.3h0M1051.3 971.6h0M1056.4 970.0h0M1064.1 971.2h0M1079.4 970.8h0M1084.8 970.9h0M1090.0 971.2h0M1091.6 971.0h0M1099.0 970.8h0M1104.8 970.1h0M1026.1 972.3h0M1027.3 972.6h0M1042.2 972.8h0M1054.1 972.1h0M1058.2 973.4h0M1059.8 972.3h0M1066.4 972.9h0M1069.5 972.2h0M1075.6 972.4h0M1076.4 972.7h0M1090.4 973.3h0M1116.0 972.4h0M1029.6 974.6h0M1050.8 974.6h0M1056.4 974.5h0M1063.6 974.5h0M1076.2 974.0h0M1081.9 974.0h0M1084.0 975.0h0M1086.1 975.0h0M1089.5 973.8h0M1091.5 975.1h0M1106.3 974.3h0M1108.1 973.9h0M1114.1 973.9h0M1033.2 975.5h0M1035.6 976.9h0M1038.2 975.3h0M1043.9 975.4h0M1053.2 976.8h0M1062.7 976.9h0M1077.5 975.9h0M1081.0 976.8h0M1104.8 976.0h0M1065.3 977.6h0M1082.9 978.0h0M1083.3 977.8h0M1096.9 978.7h0M1036.7 978.8h0M1038.2 979.2h0M1042.0 978.9h0M1055.5 979.8h0M1057.9 980.4h0M1074.8 978.9h0M1083.0 980.5h0M1086.6 979.9h0M1094.9 978.9h0M1100.3 980.5h0M1108.3 979.2h0M1041.6 981.7h0M1056.3 982.0h0M1060.9 981.6h0M1076.1 981.9h0M1081.4 982.0h0M1088.7 981.4h0M1100.1 981.0h0M1053.4 982.7h0M1054.7 982.5h0M1057.4 982.3h0M1061.7 983.4h0M1063.8 983.2h0M1079.3 982.7h0M1051.8 984.6h0M1057.7 985.2h0M1067.1 985.4h0M1075.0 984.3h0M1083.3 985.3h0M1060.2 986.0h0M1061.3 987.3h0M1062.6 986.1h0M1064.4 986.3h0M1069.9 986.9h0M1074.3 985.9h0M1071.1 987.6h0M1075.1 988.6h0" stroke="#a092dc" stroke-width="1.4" stroke-linecap="round" fill="none" opacity="0.9"/>
<path d="M1058.8 847.3h0M1061.1 847.1h0M1074.1 846.5h0M1056.3 849.2h0M1063.3 847.7h0M1069.4 847.9h0M1073.0 847.7h0M1075.1 849.0h0M1090.2 848.5h0M1060.4 849.9h0M1071.8 851.0h0M1075.8 850.5h0M1078.3 850.3h0M1096.3 850.2h0M1055.8 852.2h0M1089.2 851.5h0M1092.5 852.2h0M1099.7 851.4h0M1040.3 853.7h0M1058.2 853.9h0M1063.4 853.0h0M1065.3 852.9h0M1068.0 853.5h0M1073.2 853.2h0M1074.8 853.0h0M1080.8 853.0h0M1083.6 854.0h0M1096.4 853.9h0M1101.8 854.2h0M1104.8 853.6h0M1035.1 856.1h0M1040.7 854.7h0M1041.2 855.4h0M1045.2 855.9h0M1056.5 855.8h0M1068.0 855.1h0M1076.0 856.0h0M1078.1 854.9h0M1095.0 855.8h0M1104.1 854.8h0M1106.5 855.6h0M1108.7 855.4h0M1045.2 857.9h0M1052.3 857.0h0M1067.2 856.5h0M1072.1 856.4h0M1086.0 856.9h0M1095.8 857.2h0M1031.5 858.7h0M1052.3 858.5h0M1071.1 858.5h0M1074.8 858.6h0M1076.4 858.0h0M1084.1 859.5h0M1097.8 859.6h0M1107.2 858.3h0M1110.7 858.4h0M1031.5 860.7h0M1048.2 861.2h0M1078.8 859.8h0M1089.6 860.9h0M1100.8 861.0h0M1109.9 860.9h0M1062.5 861.9h0M1066.0 861.9h0M1069.1 861.8h0M1071.2 861.6h0M1073.5 861.6h0M1096.1 862.0h0M1107.3 861.5h0M1109.3 861.9h0M1114.8 861.9h0M1116.6 862.5h0M1031.0 864.2h0M1033.9 865.0h0M1045.4 863.6h0M1046.9 864.9h0M1053.8 864.7h0M1066.4 863.6h0M1072.1 864.9h0M1074.8 864.5h0M1081.2 864.0h0M1060.3 865.0h0M1100.1 866.5h0M1104.7 866.4h0M1109.2 866.1h0M1109.6 866.1h0M1118.0 866.1h0M1045.8 867.0h0M1049.2 867.0h0M1053.3 867.7h0M1054.1 866.8h0M1055.4 867.6h0M1057.2 867.8h0M1062.2 866.8h0M1087.0 868.4h0M1096.7 867.9h0M1098.7 867.6h0M1104.7 868.4h0M1123.2 868.5h0M1023.7 870.1h0M1032.1 868.9h0M1039.4 870.1h0M1047.3 869.5h0M1075.5 869.6h0M1078.7 868.5h0M1089.0 869.1h0M1104.8 869.1h0M1106.4 869.5h0M1112.0 870.2h0M1120.0 868.8h0M1026.4 871.7h0M1030.1 871.1h0M1042.4 870.8h0M1059.3 870.3h0M1066.0 871.0h0M1070.0 871.2h0M1074.1 871.6h0M1078.8 871.9h0M1082.7 871.6h0M1099.8 871.7h0M1104.0 871.2h0M1113.1 870.6h0M1121.0 871.5h0M1124.9 870.6h0M1018.2 873.4h0M1049.2 873.4h0M1051.7 873.5h0M1062.4 872.4h0M1065.3 872.7h0M1067.2 872.3h0M1080.8 872.5h0M1090.7 872.5h0M1094.1 872.7h0M1096.0 872.8h0M1109.9 872.7h0M1111.5 873.7h0M1013.9 875.2h0M1015.8 874.9h0M1036.5 873.9h0M1046.1 875.0h0M1047.5 874.1h0M1049.6 874.7h0M1071.6 873.9h0M1074.4 873.8h0M1081.3 875.2h0M1083.8 874.2h0M1090.9 875.0h0M1114.6 874.9h0M1125.7 874.5h0M1014.7 877.1h0M1020.5 876.4h0M1022.3 876.5h0M1030.9 877.2h0M1054.3 876.5h0M1062.4 875.9h0M1072.0 876.8h0M1088.1 876.8h0M1093.6 876.1h0M1097.9 875.8h0M1099.7 876.1h0M1120.1 875.7h0M1127.8 876.8h0M1020.1 879.0h0M1020.6 878.2h0M1039.4 878.8h0M1055.8 877.5h0M1062.2 878.4h0M1072.2 877.7h0M1076.4 877.3h0M1079.5 877.8h0M1084.2 877.6h0M1096.4 878.9h0M1097.9 877.6h0M1100.4 877.4h0M1108.8 878.8h0M1112.5 878.9h0M1115.8 878.5h0M1010.1 880.1h0M1012.3 880.0h0M1019.7 880.5h0M1022.9 880.3h0M1041.5 879.2h0M1047.8 879.5h0M1057.7 879.5h0M1066.4 879.6h0M1075.1 879.8h0M1085.3 879.1h0M1091.7 879.8h0M1102.6 879.7h0M1125.9 879.7h0M1128.2 880.2h0M1128.9 879.7h0M1131.7 879.8h0M1133.3 880.7h0M1022.3 881.9h0M1032.6 882.0h0M1035.3 881.1h0M1039.4 882.0h0M1054.8 882.1h0M1056.1 881.5h0M1057.0 881.4h0M1058.8 881.2h0M1063.8 882.3h0M1070.8 881.4h0M1073.6 881.2h0M1078.0 881.1h0M1086.6 882.3h0M1090.5 881.1h0M1095.2 881.0h0M1100.2 881.9h0M1104.1 881.4h0M1106.0 882.3h0M1112.5 880.9h0M1018.3 884.1h0M1033.8 883.1h0M1040.3 884.0h0M1057.9 884.1h0M1065.9 883.4h0M1071.9 883.8h0M1078.3 884.0h0M1080.0 882.8h0M1103.9 883.8h0M1110.6 883.7h0M1113.3 882.9h0M1116.6 882.6h0M1126.7 883.0h0M1134.3 882.6h0M1024.6 884.4h0M1043.9 885.6h0M1050.8 885.8h0M1068.2 884.9h0M1082.6 885.2h0M1092.8 885.2h0M1095.4 884.7h0M1096.6 885.6h0M1097.6 884.4h0M1016.5 886.2h0M1041.8 887.6h0M1054.2 886.5h0M1073.7 887.3h0M1076.6 887.7h0M1087.3 886.6h0M1096.2 886.9h0M1106.5 886.1h0M1111.5 886.1h0M1125.9 886.4h0M1005.4 888.6h0M1010.8 889.2h0M1013.3 888.1h0M1066.3 887.9h0M1069.3 888.2h0M1111.1 888.6h0M1113.7 888.3h0M1120.8 887.9h0M1126.8 888.7h0M1011.7 890.6h0M1029.6 889.8h0M1039.0 889.6h0M1042.5 890.5h0M1047.6 890.2h0M1060.3 890.3h0M1062.8 889.9h0M1066.8 889.7h0M1072.7 890.5h0M1079.4 891.2h0M1094.3 890.5h0M1098.1 890.7h0M1103.0 890.2h0M1111.5 890.3h0M1133.4 890.9h0M1134.0 891.2h0M1006.9 892.2h0M1015.3 892.0h0M1046.7 891.4h0M1066.4 892.3h0M1070.3 893.0h0M1071.5 891.7h0M1073.1 891.9h0M1080.6 892.3h0M1084.1 892.2h0M1089.2 891.8h0M1096.5 892.0h0M1101.3 891.6h0M1121.4 892.1h0M1007.5 893.1h0M1035.4 894.4h0M1040.2 893.8h0M1046.7 893.0h0M1053.7 893.4h0M1064.9 894.5h0M1078.3 893.8h0M1087.9 893.4h0M1092.9 893.6h0M1099.4 893.2h0M1102.1 893.9h0M1106.6 893.0h0M1112.9 893.4h0M1121.5 893.1h0M1135.4 893.1h0M1135.8 893.1h0M1033.9 895.4h0M1047.4 895.4h0M1055.1 894.8h0M1060.7 895.9h0M1072.3 896.2h0M1079.3 896.0h0M1081.5 895.5h0M1086.0 895.6h0M1107.6 896.1h0M1108.8 896.2h0M1116.0 896.0h0M1121.5 895.7h0M1139.5 895.4h0M1010.6 897.2h0M1049.2 897.4h0M1061.5 897.0h0M1083.0 897.4h0M1083.3 898.0h0M1096.5 896.5h0M1098.8 898.2h0M1101.3 897.6h0M1108.3 898.0h0M1134.4 896.7h0M1007.3 898.3h0M1023.0 898.6h0M1066.3 898.7h0M1080.8 898.3h0M1002.7 901.2h0M1051.6 900.5h0M1054.3 900.9h0M1061.0 901.5h0M1066.8 900.9h0M1069.2 900.3h0M1072.1 900.0h0M1074.9 901.6h0M1080.5 900.7h0M1084.6 901.2h0M1086.6 900.3h0M1087.3 900.6h0M1089.4 901.4h0M1103.6 901.5h0M1105.8 901.6h0M1108.2 900.9h0M1119.1 900.9h0M1124.1 900.9h0M1127.4 900.6h0M1001.2 901.8h0M1014.3 903.3h0M1022.8 903.4h0M1031.6 902.4h0M1037.3 902.6h0M1056.8 902.5h0M1057.8 902.3h0M1060.6 902.9h0M1072.1 903.3h0M1078.8 901.9h0M1086.9 903.4h0M1092.6 902.3h0M1115.4 902.9h0M1123.6 901.9h0M1131.6 903.5h0M1134.2 901.8h0M1141.0 902.7h0M1030.7 904.6h0M1047.6 904.1h0M1049.7 903.7h0M1070.8 904.9h0M1074.1 904.3h0M1084.5 904.5h0M1092.6 905.1h0M1095.7 904.5h0M1097.3 903.6h0M1109.6 905.0h0M1113.5 904.3h0M1115.2 904.2h0M1117.7 903.8h0M1122.3 903.8h0M1138.6 905.1h0M1006.8 906.9h0M1018.4 906.1h0M1021.7 907.0h0M1026.1 906.0h0M1035.5 905.3h0M1048.3 905.9h0M1057.9 906.9h0M1061.9 906.1h0M1063.0 906.6h0M1065.8 905.8h0M1073.8 906.4h0M1075.3 905.3h0M1080.6 906.2h0M1082.0 905.4h0M1084.2 906.1h0M1086.6 906.3h0M1092.2 906.1h0M1093.7 906.0h0M1097.7 906.5h0M1101.4 905.8h0M1111.9 905.9h0M1122.4 906.6h0M1137.9 906.6h0M1141.1 905.5h0M1008.1 908.6h0M1025.5 908.4h0M1028.4 907.9h0M1055.5 908.7h0M1077.1 907.0h0M1088.9 907.5h0M1100.5 907.3h0M1102.2 908.2h0M1103.9 907.9h0M1104.9 907.9h0M1113.5 907.8h0M1117.7 907.8h0M1121.1 908.3h0M1125.5 907.2h0M1135.2 908.6h0M1141.2 907.8h0M1028.9 909.5h0M1047.2 909.4h0M1063.1 909.2h0M1064.7 910.2h0M1074.1 909.2h0M1077.4 910.1h0M1083.4 909.0h0M1094.1 909.2h0M1101.7 909.9h0M1121.1 909.0h0M1132.0 909.3h0M1140.9 909.5h0M1144.2 909.7h0M1023.2 910.8h0M1038.2 912.1h0M1043.2 911.3h0M1044.9 911.1h0M1053.3 911.8h0M1056.1 910.9h0M1060.8 911.6h0M1066.6 911.7h0M1073.3 911.6h0M1081.4 911.5h0M1083.6 912.1h0M1089.3 910.6h0M1094.3 912.0h0M1105.1 911.1h0M1141.0 910.9h0M1004.6 913.3h0M1016.2 913.6h0M1027.8 913.6h0M1034.1 912.6h0M1035.6 913.7h0M1043.8 913.8h0M1045.7 913.7h0M1053.9 913.4h0M1057.4 913.1h0M1074.2 912.6h0M1075.4 912.3h0M1085.3 912.4h0M1099.4 912.9h0M1101.8 913.7h0M1105.8 913.6h0M1113.1 913.8h0M1138.9 912.7h0M1004.6 914.4h0M1008.2 915.0h0M1010.1 914.8h0M1014.7 914.3h0M1020.1 914.5h0M1023.2 915.2h0M1038.7 915.0h0M1055.9 914.5h0M1060.8 914.5h0M1064.2 915.3h0M1094.8 914.1h0M1103.3 915.5h0M1104.7 914.0h0M1115.4 915.7h0M1121.9 914.3h0M1123.8 914.8h0M1138.9 915.3h0M1000.8 915.8h0M1002.7 916.6h0M1006.2 916.6h0M1024.3 916.1h0M1034.2 916.6h0M1037.7 916.5h0M1066.6 916.6h0M1067.6 917.3h0M1074.3 917.4h0M1076.1 917.0h0M1084.9 916.4h0M1088.2 916.3h0M1092.1 915.8h0M1124.6 916.9h0M1126.2 917.1h0M1129.8 917.5h0M1138.5 917.3h0M1139.2 916.3h0M1001.6 918.3h0M1013.4 918.6h0M1020.2 917.5h0M1049.2 918.2h0M1061.2 918.3h0M1067.1 918.4h0M1068.7 918.7h0M1072.7 918.9h0M1075.8 918.4h0M1077.5 917.7h0M1078.9 918.0h0M1085.1 917.8h0M1087.0 918.8h0M1089.4 918.0h0M1096.1 918.9h0M1102.3 917.7h0M1126.2 918.0h0M1130.0 918.4h0M1135.0 918.4h0M1138.4 918.8h0M1008.1 919.6h0M1012.2 920.5h0M1016.8 919.6h0M1024.4 920.4h0M1036.3 920.9h0M1045.3 919.3h0M1054.4 919.5h0M1059.3 920.9h0M1068.9 920.5h0M1070.3 920.4h0M1072.0 919.6h0M1078.4 919.3h0M1081.8 920.5h0M1087.7 919.5h0M1090.1 920.0h0M1091.5 919.9h0M1098.6 920.7h0M1105.6 920.8h0M1108.0 920.7h0M1114.8 920.8h0M1123.3 920.1h0M1128.2 920.2h0M1129.6 920.2h0M1012.1 921.5h0M1020.7 922.3h0M1040.7 921.9h0M1065.6 922.4h0M1068.8 921.2h0M1073.6 922.1h0M1084.9 922.5h0M1095.2 921.3h0M1097.2 921.5h0M1106.1 921.4h0M1110.8 922.2h0M1121.3 922.7h0M1122.1 922.4h0M1142.2 922.0h0M1001.2 923.2h0M1018.8 923.2h0M1059.1 924.2h0M1060.8 923.5h0M1077.7 924.4h0M1079.8 923.1h0M1092.8 923.3h0M1103.2 923.7h0M1121.9 924.4h0M1134.6 923.4h0M1141.6 924.0h0M1010.9 924.9h0M1048.0 926.2h0M1048.7 925.8h0M1069.4 925.5h0M1077.7 925.2h0M1093.3 924.8h0M1095.2 924.7h0M1104.0 924.9h0M1105.2 926.0h0M1114.6 926.0h0M1122.5 925.4h0M1123.9 925.9h0M1135.7 925.2h0M1009.2 926.5h0M1053.7 927.5h0M1060.0 927.4h0M1066.1 927.6h0M1083.6 927.5h0M1085.2 927.5h0M1090.3 926.4h0M1095.9 927.6h0M1097.4 927.7h0M1102.0 927.2h0M1119.3 926.7h0M1130.9 927.2h0M1132.2 927.3h0M1136.2 926.4h0M1009.2 929.0h0M1016.1 928.6h0M1022.3 929.0h0M1024.5 929.5h0M1036.5 928.0h0M1044.7 928.5h0M1047.9 929.3h0M1068.5 929.3h0M1074.2 929.6h0M1080.1 928.4h0M1082.3 928.1h0M1099.1 928.7h0M1109.1 928.4h0M1122.1 929.2h0M1136.5 928.1h0M1000.3 930.3h0M1003.3 930.8h0M1031.2 930.0h0M1046.9 930.6h0M1057.4 930.7h0M1069.0 930.7h0M1072.3 931.0h0M1088.2 930.9h0M1090.3 931.1h0M1094.4 930.1h0M1095.8 931.2h0M1102.2 931.0h0M1104.3 930.4h0M1106.2 930.0h0M1109.0 930.3h0M1116.7 930.1h0M1124.2 931.2h0M1022.2 933.1h0M1038.9 931.9h0M1039.7 932.5h0M1061.2 931.7h0M1074.4 932.8h0M1077.6 933.2h0M1083.1 932.0h0M1095.0 931.8h0M1097.2 932.7h0M1105.4 931.9h0M1107.2 932.7h0M1114.8 932.3h0M1123.3 932.5h0M1128.3 933.0h0M1130.4 932.8h0M1137.9 933.2h0M1002.8 934.8h0M1008.1 934.0h0M1031.4 934.9h0M1038.1 933.3h0M1063.0 934.1h0M1064.8 933.4h0M1081.6 934.5h0M1096.0 933.5h0M1109.1 934.0h0M1109.8 934.0h0M1140.8 934.6h0M1003.4 935.0h0M1007.3 936.0h0M1011.8 936.2h0M1027.9 935.2h0M1030.4 935.8h0M1030.8 936.0h0M1034.0 935.7h0M1035.5 936.1h0M1040.1 936.4h0M1050.7 936.1h0M1064.4 935.2h0M1070.7 936.2h0M1073.0 935.2h0M1077.8 935.0h0M1092.1 936.5h0M1105.3 936.7h0M1122.4 936.0h0M1138.6 935.3h0M1010.3 937.2h0M1018.6 938.3h0M1029.9 937.3h0M1034.5 937.2h0M1036.4 937.9h0M1064.1 938.1h0M1066.3 937.5h0M1068.6 937.8h0M1076.9 937.9h0M1081.0 937.1h0M1082.2 937.0h0M1086.6 938.0h0M1092.3 936.9h0M1099.3 938.0h0M1105.4 937.9h0M1114.2 936.9h0M1117.0 937.3h0M1122.0 937.5h0M1131.0 937.2h0M1007.8 939.9h0M1012.2 940.0h0M1018.6 938.8h0M1020.7 939.4h0M1023.3 939.0h0M1023.7 939.2h0M1029.9 939.0h0M1043.0 939.1h0M1045.6 940.1h0M1068.2 938.6h0M1086.2 939.4h0M1091.6 939.5h0M1119.0 938.9h0M1044.7 940.6h0M1057.2 940.4h0M1068.5 941.8h0M1078.1 940.8h0M1079.7 940.3h0M1081.9 941.7h0M1083.6 941.2h0M1106.5 941.4h0M1119.0 940.3h0M1120.2 941.2h0M1133.9 941.4h0M1020.2 942.6h0M1034.2 942.5h0M1038.4 943.4h0M1040.2 943.5h0M1050.6 943.1h0M1062.7 942.8h0M1070.4 942.3h0M1074.0 942.3h0M1084.5 943.6h0M1115.5 942.8h0M1137.7 943.1h0M1004.9 944.3h0M1010.5 945.1h0M1014.9 944.8h0M1017.2 944.9h0M1043.8 943.9h0M1056.6 944.0h0M1059.7 945.4h0M1072.5 944.6h0M1078.8 944.2h0M1083.6 945.2h0M1107.3 944.7h0M1113.0 945.0h0M1121.8 944.3h0M1132.2 945.2h0M1012.6 947.1h0M1030.2 946.6h0M1042.8 947.1h0M1057.4 947.0h0M1060.4 946.8h0M1071.9 946.5h0M1073.8 946.9h0M1075.7 945.8h0M1077.2 947.0h0M1082.9 945.8h0M1086.3 945.6h0M1087.5 945.8h0M1110.8 946.2h0M1117.4 946.1h0M1122.9 947.2h0M1017.1 947.6h0M1027.6 947.5h0M1031.7 947.5h0M1035.5 948.2h0M1045.4 947.9h0M1052.6 948.6h0M1072.2 948.3h0M1073.7 947.8h0M1088.0 948.5h0M1091.4 948.9h0M1095.1 947.8h0M1095.4 948.9h0M1106.6 947.6h0M1113.6 948.3h0M1127.6 948.2h0M1131.0 948.4h0M1132.4 948.6h0M1016.3 950.5h0M1030.1 950.4h0M1062.4 949.7h0M1071.5 950.0h0M1079.8 949.2h0M1083.9 949.3h0M1090.0 950.0h0M1090.3 950.7h0M1096.3 949.4h0M1110.2 950.5h0M1116.2 949.8h0M1120.5 950.5h0M1122.1 949.7h0M1131.5 949.3h0M1032.8 951.2h0M1041.8 951.7h0M1050.2 950.9h0M1057.6 951.6h0M1070.7 951.4h0M1073.3 951.5h0M1074.4 951.4h0M1077.5 951.6h0M1086.2 951.7h0M1096.4 952.3h0M1098.1 952.5h0M1105.9 951.2h0M1122.5 951.1h0M1124.8 951.0h0M1127.3 952.2h0M1128.8 951.8h0M1131.0 951.4h0M1024.5 953.0h0M1075.7 953.0h0M1076.9 953.6h0M1084.8 954.2h0M1085.2 952.7h0M1087.2 953.7h0M1094.9 953.2h0M1100.8 953.8h0M1103.6 953.0h0M1122.9 952.7h0M1016.4 954.6h0M1060.4 954.8h0M1080.5 955.6h0M1086.2 955.8h0M1089.8 955.9h0M1091.2 954.6h0M1093.3 955.6h0M1093.9 955.8h0M1100.9 955.7h0M1105.0 954.6h0M1117.2 955.9h0M1133.0 955.1h0M1018.6 957.2h0M1041.7 957.2h0M1060.1 957.7h0M1086.6 956.1h0M1099.0 957.0h0M1108.5 956.6h0M1110.8 957.4h0M1117.3 956.7h0M1121.9 957.2h0M1012.9 958.0h0M1019.7 958.3h0M1024.4 958.6h0M1047.0 959.4h0M1056.2 958.5h0M1058.6 959.5h0M1066.8 959.0h0M1074.9 959.2h0M1086.5 958.9h0M1091.0 959.3h0M1096.9 958.6h0M1117.2 958.7h0M1123.2 958.0h0M1128.8 958.1h0M1030.2 960.9h0M1034.0 960.5h0M1044.8 959.9h0M1052.5 959.9h0M1063.8 960.2h0M1064.8 960.1h0M1067.9 959.6h0M1073.8 960.0h0M1074.5 960.6h0M1076.2 960.3h0M1081.9 959.9h0M1086.6 960.1h0M1093.1 960.3h0M1093.9 960.5h0M1108.5 960.1h0M1109.9 961.2h0M1119.3 959.9h0M1122.8 959.7h0M1018.2 962.7h0M1030.8 962.7h0M1053.3 962.1h0M1055.7 961.6h0M1057.7 962.2h0M1060.5 961.6h0M1063.5 962.3h0M1070.5 961.9h0M1078.1 962.8h0M1088.1 961.4h0M1094.1 961.4h0M1102.0 961.5h0M1106.0 961.9h0M1127.2 962.4h0M1018.0 963.4h0M1024.6 964.3h0M1026.2 963.9h0M1033.4 964.7h0M1041.0 964.3h0M1050.6 963.0h0M1055.0 963.3h0M1056.2 964.1h0M1063.7 964.5h0M1066.6 963.1h0M1070.3 963.4h0M1077.8 964.1h0M1091.0 963.8h0M1098.1 964.5h0M1102.2 963.5h0M1029.7 965.2h0M1030.7 965.8h0M1039.6 966.1h0M1046.8 966.2h0M1058.0 965.8h0M1067.5 964.9h0M1078.2 965.5h0M1082.8 966.4h0M1085.3 965.9h0M1088.7 966.1h0M1090.2 965.7h0M1102.8 964.9h0M1107.0 965.2h0M1022.9 968.1h0M1031.2 966.9h0M1034.5 966.7h0M1042.0 967.5h0M1044.1 967.0h0M1046.5 967.2h0M1060.6 968.2h0M1077.2 968.2h0M1079.0 968.0h0M1080.7 967.4h0M1082.0 968.2h0M1084.0 967.0h0M1097.7 967.0h0M1106.3 966.7h0M1112.6 966.7h0M1113.4 967.2h0M1037.6 968.9h0M1051.1 969.6h0M1062.1 969.3h0M1066.9 969.3h0M1077.5 969.8h0M1078.8 968.9h0M1086.2 969.7h0M1088.2 968.3h0M1098.5 970.0h0M1107.3 968.9h0M1109.2 969.7h0M1029.9 970.2h0M1036.5 971.7h0M1040.8 971.1h0M1054.7 971.3h0M1066.0 970.8h0M1070.6 971.4h0M1072.6 970.5h0M1073.3 971.2h0M1087.2 970.3h0M1092.6 971.7h0M1095.3 970.1h0M1101.3 971.5h0M1104.1 970.1h0M1106.0 971.0h0M1033.5 973.0h0M1040.3 972.7h0M1043.3 971.8h0M1046.9 972.4h0M1060.6 973.1h0M1065.2 972.4h0M1072.2 973.4h0M1079.7 973.4h0M1104.4 973.2h0M1111.6 972.7h0M1031.8 973.8h0M1036.6 975.0h0M1039.1 974.2h0M1061.6 974.8h0M1073.6 974.0h0M1079.7 973.8h0M1098.0 974.4h0M1102.6 974.5h0M1116.1 973.9h0M1051.1 976.6h0M1074.2 975.6h0M1082.4 976.4h0M1084.0 975.7h0M1085.4 976.5h0M1086.9 975.5h0M1094.9 975.3h0M1102.5 975.6h0M1108.2 975.6h0M1110.4 976.8h0M1035.6 978.4h0M1040.1 977.6h0M1041.7 978.1h0M1045.8 978.7h0M1050.0 977.5h0M1055.4 977.4h0M1058.9 977.9h0M1068.4 978.0h0M1093.6 978.2h0M1093.8 978.3h0M1107.7 978.6h0M1035.5 979.3h0M1043.9 979.3h0M1044.7 979.8h0M1054.8 980.3h0M1064.4 980.2h0M1066.6 980.1h0M1070.8 980.0h0M1079.4 979.2h0M1090.3 979.6h0M1100.7 978.9h0M1045.0 981.2h0M1054.9 981.9h0M1085.4 981.5h0M1087.8 980.9h0M1090.6 980.5h0M1047.2 983.0h0M1060.4 983.6h0M1065.5 983.4h0M1084.4 983.3h0M1087.2 983.1h0M1096.7 983.4h0M1053.4 984.4h0M1060.8 984.2h0M1068.3 984.4h0M1079.9 985.4h0M1082.2 984.7h0M1093.0 984.3h0M1065.9 987.4h0M1079.0 987.4h0M1080.4 986.2h0M1086.1 986.4h0M1077.3 988.4h0M1079.3 988.1h0" stroke="#6e5cc4" stroke-width="2.1" stroke-linecap="round" fill="none" opacity="0.9"/>
<ellipse cx="1071.8" cy="917.2" rx="72.60000000000001" ry="71.4" fill="none" stroke="#5a48b0" stroke-width="1.6" opacity="0.45"/>
<ellipse cx="1071.8" cy="917.2" rx="74.4" ry="73.2" fill="none" stroke="#111" stroke-width="2"/>
<ellipse cx="1227.3" cy="917.2" rx="78.5" ry="73.4" fill="#d9d7da"/>
<path d="M1226.5 849.1h0M1240.3 851.5h0M1256.8 852.1h0M1196.8 853.1h0M1216.0 852.8h0M1219.7 853.3h0M1225.7 853.2h0M1241.1 853.0h0M1261.3 853.5h0M1205.4 855.5h0M1213.8 854.3h0M1228.7 855.6h0M1256.6 856.4h0M1191.9 858.7h0M1199.2 857.9h0M1216.7 858.5h0M1256.1 858.4h0M1267.9 858.0h0M1184.9 860.9h0M1206.3 860.4h0M1208.0 860.5h0M1238.3 860.4h0M1263.6 860.0h0M1202.8 862.1h0M1211.7 862.5h0M1263.5 861.9h0M1210.6 863.8h0M1266.3 863.3h0M1274.3 863.6h0M1279.0 864.1h0M1241.7 865.8h0M1267.3 865.0h0M1171.7 868.0h0M1179.9 866.8h0M1182.8 866.7h0M1188.4 867.2h0M1194.4 867.8h0M1196.2 867.3h0M1214.4 867.5h0M1226.4 866.7h0M1253.4 867.6h0M1275.0 867.1h0M1278.4 866.6h0M1177.9 869.7h0M1179.8 868.7h0M1201.2 869.4h0M1205.8 869.6h0M1214.4 869.5h0M1239.9 869.9h0M1205.7 870.2h0M1220.3 871.1h0M1238.4 870.5h0M1242.5 870.5h0M1256.3 871.4h0M1267.8 870.1h0M1170.2 873.1h0M1182.2 872.0h0M1223.9 871.9h0M1256.1 872.1h0M1264.0 871.9h0M1166.4 874.8h0M1171.5 874.6h0M1172.9 873.8h0M1176.0 874.8h0M1188.0 874.8h0M1224.7 874.9h0M1249.0 873.7h0M1164.1 876.4h0M1189.5 875.7h0M1232.0 875.4h0M1271.7 875.6h0M1278.1 875.5h0M1284.9 876.0h0M1167.9 878.5h0M1218.1 877.7h0M1233.0 878.0h0M1266.4 878.0h0M1285.4 878.1h0M1162.2 879.8h0M1164.6 879.9h0M1186.4 879.6h0M1218.1 878.9h0M1282.6 879.7h0M1286.2 879.9h0M1170.7 882.1h0M1193.4 880.9h0M1215.0 881.7h0M1234.8 880.7h0M1244.2 881.8h0M1248.4 881.0h0M1260.4 881.1h0M1273.8 881.0h0M1291.1 881.6h0M1293.8 881.7h0M1248.1 883.3h0M1248.7 883.4h0M1253.5 883.8h0M1263.9 882.3h0M1286.5 882.9h0M1290.4 882.7h0M1293.9 883.2h0M1165.9 884.6h0M1169.9 885.4h0M1198.0 885.3h0M1223.2 885.7h0M1247.7 885.4h0M1250.8 884.7h0M1259.5 884.5h0M1268.6 885.8h0M1284.1 884.6h0M1159.7 887.5h0M1165.4 886.6h0M1211.5 886.2h0M1239.6 887.3h0M1242.1 887.3h0M1250.5 886.2h0M1254.4 886.8h0M1290.5 886.8h0M1160.8 888.4h0M1167.3 888.0h0M1171.2 889.1h0M1198.6 888.1h0M1246.5 888.8h0M1265.7 887.9h0M1275.8 888.4h0M1285.4 889.0h0M1157.3 890.4h0M1169.8 889.8h0M1171.3 889.5h0M1194.5 890.1h0M1208.2 890.4h0M1210.8 890.9h0M1235.7 891.0h0M1254.3 890.5h0M1264.2 889.9h0M1268.2 889.9h0M1295.2 890.4h0M1296.4 890.0h0M1160.2 891.8h0M1166.9 891.9h0M1192.5 891.7h0M1232.1 891.3h0M1244.6 891.9h0M1257.4 892.4h0M1261.3 892.2h0M1266.8 891.4h0M1278.3 892.2h0M1289.2 891.2h0M1157.3 893.5h0M1158.7 893.9h0M1159.8 893.7h0M1167.0 893.3h0M1259.4 894.0h0M1284.4 893.6h0M1173.7 895.1h0M1243.6 896.2h0M1261.6 895.5h0M1268.1 894.8h0M1273.2 895.8h0M1176.0 897.8h0M1250.2 897.9h0M1252.1 897.9h0M1256.0 897.6h0M1260.9 897.7h0M1297.8 896.6h0M1155.1 898.5h0M1168.6 898.4h0M1171.1 898.4h0M1171.7 899.7h0M1174.5 898.3h0M1227.1 899.3h0M1231.2 899.0h0M1254.2 898.4h0M1257.3 899.0h0M1259.2 899.2h0M1270.5 898.8h0M1275.1 899.3h0M1276.7 898.7h0M1292.2 899.5h0M1295.6 899.4h0M1296.5 898.4h0M1171.9 901.1h0M1196.0 900.4h0M1221.0 900.6h0M1234.1 900.1h0M1245.2 901.5h0M1258.1 900.0h0M1265.1 901.4h0M1302.1 900.5h0M1184.5 901.9h0M1185.6 902.3h0M1222.2 902.2h0M1225.4 902.5h0M1241.8 902.7h0M1243.5 902.1h0M1246.0 903.2h0M1247.8 901.8h0M1251.8 902.1h0M1254.6 902.9h0M1256.2 903.1h0M1260.6 902.1h0M1294.3 901.6h0M1167.5 904.9h0M1174.1 903.5h0M1194.4 904.9h0M1204.3 905.0h0M1221.8 904.6h0M1237.9 903.9h0M1245.3 904.1h0M1247.8 905.0h0M1251.6 904.9h0M1256.0 903.8h0M1264.5 903.4h0M1271.4 905.0h0M1276.1 904.1h0M1282.1 905.0h0M1161.1 906.5h0M1168.4 906.4h0M1187.1 906.3h0M1192.6 906.5h0M1217.6 905.1h0M1236.7 905.3h0M1244.2 905.4h0M1261.6 905.4h0M1265.7 905.4h0M1270.1 906.1h0M1276.3 906.2h0M1154.8 907.5h0M1166.7 906.8h0M1172.6 908.5h0M1195.9 908.5h0M1199.4 908.1h0M1208.0 907.6h0M1250.4 907.5h0M1253.4 907.6h0M1267.5 908.2h0M1273.9 908.5h0M1278.4 907.8h0M1283.3 907.2h0M1288.0 908.1h0M1151.5 909.6h0M1175.0 908.7h0M1175.2 908.9h0M1183.9 910.1h0M1203.3 909.8h0M1223.9 909.8h0M1239.2 910.3h0M1241.3 910.3h0M1246.0 909.6h0M1251.1 909.1h0M1255.1 908.8h0M1262.0 908.9h0M1269.1 910.0h0M1291.1 908.8h0M1302.8 909.1h0M1157.5 910.7h0M1168.2 911.3h0M1197.4 910.5h0M1205.9 910.5h0M1223.9 911.8h0M1235.8 911.9h0M1262.3 911.0h0M1269.0 910.5h0M1272.3 912.0h0M1274.7 910.5h0M1281.0 910.8h0M1291.7 910.9h0M1158.9 913.5h0M1176.2 913.3h0M1180.8 912.2h0M1198.6 913.2h0M1208.1 912.8h0M1227.7 912.3h0M1229.3 913.2h0M1237.2 912.7h0M1250.6 912.7h0M1256.3 912.9h0M1260.1 912.5h0M1269.5 913.8h0M1271.8 913.2h0M1275.5 913.0h0M1284.1 912.2h0M1291.5 912.9h0M1164.8 915.0h0M1189.3 914.1h0M1224.0 913.9h0M1243.9 914.4h0M1249.4 914.4h0M1257.3 914.5h0M1273.5 915.3h0M1295.5 914.5h0M1299.5 914.5h0M1159.7 916.8h0M1194.0 916.1h0M1226.4 915.7h0M1229.6 916.6h0M1239.7 916.4h0M1245.0 916.1h0M1249.1 915.8h0M1251.1 916.7h0M1257.0 916.9h0M1153.6 918.2h0M1180.0 918.7h0M1220.4 919.0h0M1249.6 917.4h0M1267.8 918.2h0M1270.2 918.9h0M1280.9 918.9h0M1293.6 918.1h0M1166.3 920.5h0M1171.0 919.1h0M1175.9 920.8h0M1188.5 920.5h0M1202.9 919.3h0M1212.0 919.8h0M1231.1 919.5h0M1236.3 919.3h0M1238.1 920.4h0M1241.1 920.6h0M1243.8 920.1h0M1245.2 919.3h0M1251.6 919.7h0M1255.7 919.3h0M1264.7 920.4h0M1163.7 922.4h0M1178.9 921.5h0M1183.4 921.0h0M1230.6 922.3h0M1233.2 920.9h0M1239.6 922.1h0M1241.4 921.7h0M1246.5 922.5h0M1251.0 921.1h0M1253.2 922.3h0M1254.8 921.2h0M1257.5 921.4h0M1260.0 922.3h0M1262.7 921.6h0M1266.0 922.1h0M1269.8 921.5h0M1275.8 922.5h0M1277.2 922.2h0M1192.1 922.6h0M1229.1 923.4h0M1237.8 922.8h0M1247.0 922.7h0M1248.9 923.2h0M1251.0 923.5h0M1254.3 922.9h0M1266.5 923.4h0M1268.7 923.1h0M1274.8 922.6h0M1276.3 923.9h0M1282.8 923.2h0M1290.4 924.1h0M1302.2 922.8h0M1200.1 925.6h0M1217.7 925.8h0M1230.7 924.9h0M1238.7 924.9h0M1245.8 925.8h0M1249.6 925.7h0M1253.8 925.2h0M1258.0 925.7h0M1265.5 924.5h0M1283.3 925.9h0M1164.0 927.7h0M1172.8 927.2h0M1174.9 927.2h0M1183.6 926.7h0M1194.1 927.2h0M1207.6 926.7h0M1232.8 926.4h0M1242.6 927.0h0M1250.1 927.1h0M1250.7 926.9h0M1254.4 926.7h0M1259.8 927.5h0M1260.9 927.2h0M1281.8 926.3h0M1292.8 926.5h0M1165.4 929.4h0M1202.0 929.2h0M1212.6 928.0h0M1220.9 929.2h0M1247.1 928.3h0M1254.5 929.4h0M1260.3 928.3h0M1263.9 928.4h0M1268.8 929.5h0M1272.7 928.0h0M1277.4 927.9h0M1294.0 929.5h0M1294.6 928.6h0M1300.9 929.4h0M1165.0 930.5h0M1166.4 930.5h0M1180.2 930.8h0M1216.9 931.2h0M1222.8 930.2h0M1231.8 929.6h0M1242.4 931.1h0M1251.3 930.6h0M1253.8 930.0h0M1259.4 930.3h0M1268.5 930.2h0M1277.1 930.1h0M1290.8 929.9h0M1302.8 930.6h0M1160.6 932.5h0M1182.3 932.9h0M1210.8 931.4h0M1222.9 931.5h0M1225.4 931.7h0M1260.2 932.3h0M1273.5 932.0h0M1280.4 932.4h0M1290.3 931.3h0M1164.6 934.2h0M1168.8 934.2h0M1174.8 933.2h0M1210.5 934.1h0M1217.1 933.1h0M1222.4 933.1h0M1224.7 934.1h0M1230.0 933.5h0M1235.1 933.5h0M1240.9 933.7h0M1246.2 933.5h0M1261.6 933.9h0M1267.5 933.2h0M1271.3 934.5h0M1271.9 934.6h0M1292.4 933.3h0M1154.2 936.2h0M1175.0 936.4h0M1227.4 935.2h0M1228.0 936.0h0M1256.8 935.1h0M1258.5 935.1h0M1273.5 936.4h0M1288.1 935.2h0M1217.9 937.7h0M1243.5 936.6h0M1249.9 937.3h0M1251.2 936.7h0M1253.6 937.9h0M1256.8 937.8h0M1259.5 937.0h0M1264.0 937.3h0M1266.6 937.2h0M1276.6 936.9h0M1282.7 937.6h0M1289.7 937.5h0M1294.7 938.2h0M1297.0 937.7h0M1300.6 937.7h0M1158.2 938.8h0M1162.0 938.8h0M1209.2 939.0h0M1218.8 938.6h0M1222.9 939.1h0M1228.0 939.4h0M1230.5 939.9h0M1241.3 939.2h0M1259.7 939.2h0M1263.9 938.7h0M1272.6 939.1h0M1296.5 939.5h0M1177.0 941.4h0M1206.7 940.3h0M1216.9 941.2h0M1227.1 941.3h0M1253.8 941.7h0M1258.7 940.1h0M1265.1 941.5h0M1276.8 941.3h0M1284.7 941.6h0M1286.0 941.1h0M1288.8 940.8h0M1296.3 940.9h0M1163.4 942.9h0M1177.1 943.5h0M1188.2 943.0h0M1203.2 943.1h0M1208.9 942.4h0M1221.5 943.1h0M1224.7 943.5h0M1227.7 943.0h0M1248.1 942.2h0M1251.1 943.2h0M1255.7 942.3h0M1261.0 942.3h0M1277.7 943.5h0M1297.0 942.1h0M1177.4 943.9h0M1196.2 944.7h0M1221.1 945.0h0M1223.8 944.9h0M1229.3 945.0h0M1233.4 943.9h0M1245.5 945.2h0M1253.2 943.7h0M1255.1 945.0h0M1259.0 944.9h0M1259.5 944.6h0M1261.5 944.8h0M1264.6 943.6h0M1271.2 943.8h0M1273.6 944.6h0M1284.5 944.7h0M1289.0 944.6h0M1157.5 946.9h0M1158.2 946.8h0M1162.2 945.3h0M1180.1 946.2h0M1192.0 946.7h0M1229.3 945.6h0M1242.1 946.0h0M1245.9 945.6h0M1251.1 946.6h0M1255.0 946.5h0M1255.9 946.4h0M1260.7 945.9h0M1266.9 945.9h0M1271.5 946.2h0M1277.0 946.6h0M1281.4 946.7h0M1293.1 946.3h0M1208.4 948.2h0M1221.6 948.1h0M1227.4 947.9h0M1237.3 948.0h0M1242.3 948.5h0M1248.9 947.2h0M1260.2 947.6h0M1265.7 947.6h0M1280.4 948.4h0M1297.0 947.2h0M1171.7 949.3h0M1192.5 950.3h0M1200.0 949.8h0M1202.0 949.8h0M1214.3 949.3h0M1257.7 949.1h0M1259.8 950.0h0M1262.3 949.4h0M1266.9 949.4h0M1279.3 949.0h0M1289.8 950.3h0M1291.8 950.5h0M1295.5 950.4h0M1194.8 951.3h0M1208.4 951.1h0M1217.9 951.3h0M1219.5 951.7h0M1235.5 951.0h0M1284.7 951.0h0M1182.6 954.0h0M1184.6 952.9h0M1193.8 953.1h0M1202.3 952.8h0M1206.4 953.8h0M1215.5 953.6h0M1220.3 954.0h0M1233.2 954.0h0M1243.3 952.5h0M1249.7 952.8h0M1257.5 952.7h0M1267.1 953.5h0M1271.0 953.2h0M1275.8 953.9h0M1286.6 953.5h0M1201.0 954.1h0M1209.3 954.7h0M1212.6 955.3h0M1215.9 955.5h0M1234.8 955.4h0M1239.0 955.3h0M1248.2 954.4h0M1253.8 955.0h0M1256.9 954.7h0M1281.0 955.6h0M1285.6 955.4h0M1289.2 955.1h0M1167.7 956.3h0M1189.3 956.8h0M1196.6 957.5h0M1202.4 956.2h0M1205.8 957.5h0M1235.7 956.6h0M1240.3 956.0h0M1260.3 956.1h0M1264.5 956.8h0M1272.1 956.0h0M1280.1 957.0h0M1166.3 958.2h0M1212.1 958.4h0M1224.3 958.7h0M1237.4 959.1h0M1249.8 958.9h0M1266.2 958.0h0M1271.2 957.9h0M1277.4 958.7h0M1287.2 959.0h0M1169.2 959.8h0M1173.8 959.8h0M1179.8 959.6h0M1185.8 960.0h0M1206.4 960.8h0M1230.0 960.0h0M1235.3 959.7h0M1244.4 959.6h0M1245.9 959.6h0M1256.3 960.0h0M1274.0 960.3h0M1281.1 960.3h0M1175.1 961.9h0M1199.4 962.4h0M1212.4 961.6h0M1224.3 962.3h0M1226.9 962.0h0M1227.9 961.4h0M1232.5 961.4h0M1256.5 961.9h0M1257.6 961.1h0M1262.1 962.2h0M1285.8 961.4h0M1174.9 962.9h0M1184.8 964.2h0M1190.4 963.1h0M1193.0 963.4h0M1211.3 964.5h0M1226.0 964.1h0M1245.9 963.3h0M1258.7 964.0h0M1263.3 963.4h0M1195.6 965.1h0M1201.0 966.2h0M1208.0 964.6h0M1235.1 965.7h0M1247.1 965.2h0M1251.2 964.9h0M1262.2 966.3h0M1268.6 964.7h0M1282.1 966.2h0M1190.0 967.8h0M1196.7 967.7h0M1216.9 966.5h0M1226.8 966.6h0M1256.2 967.1h0M1276.8 967.3h0M1189.6 968.8h0M1200.5 968.3h0M1210.2 968.3h0M1217.5 968.2h0M1228.4 968.2h0M1233.2 968.5h0M1258.9 968.2h0M1269.0 968.2h0M1274.7 969.1h0M1275.5 969.3h0M1194.0 969.8h0M1203.5 970.5h0M1205.3 971.1h0M1246.7 971.5h0M1248.2 971.0h0M1253.8 970.3h0M1254.7 970.9h0M1186.7 972.2h0M1189.5 971.9h0M1233.1 972.1h0M1251.8 971.6h0M1179.8 973.6h0M1210.6 975.0h0M1235.0 973.5h0M1261.2 973.6h0M1214.4 975.1h0M1234.4 976.4h0M1238.0 975.8h0M1245.7 975.5h0M1271.8 975.3h0M1190.4 977.5h0M1201.6 977.0h0M1204.6 976.8h0M1251.9 977.5h0M1258.1 977.7h0M1193.9 979.6h0M1197.5 980.1h0M1208.5 979.1h0M1234.0 980.1h0M1235.3 979.0h0M1237.6 980.3h0M1242.9 979.2h0M1248.8 979.8h0M1261.5 978.8h0M1206.4 981.9h0M1220.6 981.1h0M1199.0 982.5h0M1200.3 983.1h0M1203.3 982.7h0M1210.1 982.1h0M1214.2 983.3h0M1224.9 982.9h0M1250.9 983.1h0M1212.4 984.7h0M1223.2 984.2h0M1238.4 983.8h0M1251.8 984.5h0M1221.2 986.2h0M1224.2 986.7h0M1229.3 986.0h0M1242.3 985.9h0M1242.2 987.4h0" stroke="#5a40b8" stroke-width="1.8" stroke-linecap="round" fill="none" opacity="0.9"/>
<path d="M1222.9 846.3h0M1232.8 845.9h0M1217.8 847.4h0M1238.4 848.3h0M1211.6 850.5h0M1233.7 849.3h0M1210.2 851.8h0M1223.1 851.0h0M1224.9 851.8h0M1249.1 852.1h0M1243.9 853.1h0M1217.4 855.6h0M1235.0 854.9h0M1241.3 855.1h0M1250.2 855.3h0M1187.8 857.4h0M1232.3 857.2h0M1184.5 859.3h0M1186.4 858.0h0M1193.7 858.8h0M1197.4 858.7h0M1246.3 859.2h0M1182.6 860.3h0M1193.4 860.1h0M1211.1 860.9h0M1215.9 859.9h0M1220.9 861.3h0M1242.1 860.9h0M1184.7 863.0h0M1186.8 862.7h0M1191.1 862.7h0M1232.9 861.8h0M1254.5 862.5h0M1256.2 862.0h0M1198.1 863.7h0M1219.5 864.6h0M1234.5 863.7h0M1253.7 863.5h0M1268.0 863.9h0M1184.6 866.0h0M1186.6 865.3h0M1223.5 865.6h0M1244.6 865.5h0M1256.9 866.3h0M1266.0 866.4h0M1276.0 866.2h0M1176.7 866.8h0M1259.5 867.9h0M1184.9 869.1h0M1243.6 868.5h0M1268.9 869.3h0M1272.8 869.4h0M1279.5 868.4h0M1171.3 870.6h0M1171.8 870.9h0M1221.9 870.3h0M1231.1 870.4h0M1277.3 871.2h0M1200.9 873.3h0M1273.7 872.1h0M1181.6 874.2h0M1186.8 874.3h0M1260.9 875.0h0M1273.6 874.6h0M1276.0 874.5h0M1281.4 873.8h0M1286.9 875.2h0M1172.5 875.4h0M1213.6 876.2h0M1251.9 876.9h0M1264.4 875.5h0M1271.1 876.3h0M1173.5 877.9h0M1219.0 877.3h0M1257.0 877.4h0M1260.5 877.6h0M1169.8 879.4h0M1203.4 879.8h0M1211.0 879.0h0M1234.0 879.4h0M1249.3 880.1h0M1261.8 879.0h0M1281.2 879.4h0M1195.5 881.1h0M1226.9 881.3h0M1246.6 880.6h0M1254.2 881.4h0M1258.0 882.2h0M1266.7 880.7h0M1282.8 881.8h0M1284.5 882.3h0M1160.1 883.0h0M1161.7 883.4h0M1167.9 882.8h0M1177.9 882.5h0M1232.0 883.4h0M1246.1 883.7h0M1265.2 882.3h0M1271.7 883.8h0M1166.7 885.5h0M1188.6 884.5h0M1212.9 884.6h0M1281.5 885.0h0M1291.9 884.8h0M1161.1 886.0h0M1163.7 886.5h0M1236.9 886.4h0M1240.5 886.8h0M1258.6 886.0h0M1263.2 887.5h0M1270.1 886.5h0M1283.3 887.3h0M1163.7 887.8h0M1242.7 889.0h0M1261.9 888.5h0M1270.0 888.7h0M1271.6 888.8h0M1159.5 891.0h0M1185.3 889.8h0M1191.9 890.0h0M1221.8 889.7h0M1249.8 889.5h0M1257.2 890.1h0M1269.6 889.8h0M1272.9 890.9h0M1162.0 891.8h0M1169.2 891.9h0M1171.2 891.6h0M1202.5 892.8h0M1208.6 891.2h0M1214.8 891.8h0M1219.5 892.4h0M1228.6 891.8h0M1242.0 891.9h0M1253.5 892.5h0M1265.5 891.7h0M1268.2 892.7h0M1281.7 892.5h0M1165.5 893.7h0M1168.5 894.1h0M1241.4 894.0h0M1251.3 894.5h0M1256.8 893.3h0M1266.8 893.5h0M1272.3 894.1h0M1281.0 893.9h0M1294.6 893.4h0M1161.0 895.2h0M1164.3 895.8h0M1170.2 896.2h0M1180.7 895.9h0M1189.7 894.9h0M1193.8 896.1h0M1238.6 895.0h0M1248.0 896.2h0M1264.8 894.8h0M1278.1 895.6h0M1280.4 895.7h0M1193.9 896.6h0M1225.9 896.7h0M1231.3 897.4h0M1235.7 897.4h0M1237.2 898.0h0M1272.7 897.0h0M1276.7 897.3h0M1279.9 896.4h0M1287.4 897.7h0M1156.5 898.8h0M1165.7 899.4h0M1176.9 899.3h0M1180.9 898.2h0M1199.5 898.6h0M1218.7 898.7h0M1230.5 898.7h0M1237.4 899.7h0M1245.4 898.5h0M1279.9 899.0h0M1300.6 898.1h0M1155.4 900.1h0M1157.5 900.3h0M1160.9 901.1h0M1170.5 901.2h0M1185.5 900.0h0M1219.3 901.4h0M1244.9 900.0h0M1260.9 900.3h0M1268.4 900.8h0M1271.9 901.2h0M1281.2 900.8h0M1294.9 900.8h0M1210.8 902.5h0M1212.8 903.1h0M1236.4 901.6h0M1249.9 901.7h0M1258.4 902.5h0M1261.6 902.1h0M1265.5 902.5h0M1268.4 901.9h0M1278.1 901.7h0M1157.1 903.5h0M1160.8 903.6h0M1163.9 903.8h0M1199.0 904.7h0M1224.1 903.5h0M1235.2 903.3h0M1241.0 904.0h0M1242.1 903.3h0M1243.5 903.9h0M1264.2 903.4h0M1266.8 903.9h0M1268.4 904.9h0M1271.1 905.0h0M1277.9 903.7h0M1290.7 903.6h0M1297.4 903.7h0M1302.1 904.0h0M1152.7 906.2h0M1165.3 906.1h0M1166.6 905.1h0M1177.4 905.8h0M1182.3 905.4h0M1208.3 905.7h0M1238.9 906.0h0M1251.8 905.3h0M1254.2 905.4h0M1257.2 906.1h0M1258.5 906.1h0M1260.2 906.4h0M1263.1 905.8h0M1269.5 906.5h0M1276.9 906.1h0M1285.3 905.8h0M1294.4 905.9h0M1298.7 906.4h0M1162.1 907.2h0M1165.0 908.0h0M1176.0 908.2h0M1219.6 907.2h0M1242.4 908.1h0M1245.7 908.2h0M1249.6 908.1h0M1255.7 906.9h0M1262.0 908.4h0M1262.6 907.5h0M1265.0 907.7h0M1268.9 908.4h0M1273.0 907.1h0M1298.3 908.2h0M1161.3 909.7h0M1164.4 909.4h0M1165.3 909.8h0M1180.2 909.9h0M1190.0 909.5h0M1230.5 909.4h0M1236.3 909.4h0M1248.5 909.1h0M1260.2 909.4h0M1263.7 909.4h0M1281.4 909.8h0M1286.2 909.5h0M1296.6 909.6h0M1155.6 910.7h0M1169.8 910.7h0M1172.4 911.5h0M1177.7 911.8h0M1228.6 910.9h0M1234.2 911.3h0M1244.8 911.7h0M1250.6 911.0h0M1255.2 910.6h0M1260.5 910.7h0M1262.7 911.7h0M1265.2 912.0h0M1271.3 910.5h0M1278.4 911.7h0M1282.8 911.3h0M1151.9 912.8h0M1157.5 912.4h0M1196.2 913.2h0M1219.9 912.2h0M1222.3 913.0h0M1249.5 913.7h0M1252.7 912.6h0M1277.4 912.5h0M1283.5 913.6h0M1297.3 912.6h0M1181.9 914.6h0M1182.2 913.9h0M1193.0 915.2h0M1205.5 914.6h0M1210.0 914.0h0M1246.7 914.6h0M1253.7 914.8h0M1254.4 914.1h0M1255.6 914.9h0M1260.4 915.4h0M1261.4 915.4h0M1265.7 914.5h0M1268.7 914.0h0M1280.0 915.1h0M1286.0 914.5h0M1288.2 914.6h0M1296.1 915.4h0M1154.3 916.9h0M1157.7 915.6h0M1161.5 916.5h0M1169.0 915.7h0M1201.2 916.8h0M1207.3 916.1h0M1242.3 916.9h0M1255.4 916.5h0M1260.5 916.8h0M1262.0 917.1h0M1262.6 916.7h0M1268.6 916.9h0M1270.8 915.8h0M1271.6 915.7h0M1291.4 916.3h0M1294.0 917.0h0M1297.0 916.5h0M1157.7 917.6h0M1159.3 917.4h0M1172.4 918.9h0M1184.1 917.3h0M1215.3 917.8h0M1226.2 918.1h0M1241.6 918.5h0M1254.4 917.4h0M1256.1 918.8h0M1259.7 917.9h0M1261.4 917.6h0M1262.7 917.8h0M1265.3 918.1h0M1271.5 917.7h0M1278.3 918.9h0M1283.0 918.5h0M1285.6 917.8h0M1288.3 918.5h0M1295.4 918.1h0M1296.9 918.2h0M1297.9 918.5h0M1299.8 918.6h0M1173.8 920.1h0M1204.4 919.8h0M1224.8 920.6h0M1252.2 919.7h0M1259.7 920.3h0M1262.3 919.8h0M1263.4 919.8h0M1268.7 920.3h0M1272.6 919.2h0M1273.6 919.7h0M1278.0 919.7h0M1284.7 920.7h0M1290.8 919.5h0M1188.8 921.1h0M1199.7 921.9h0M1201.9 922.5h0M1237.5 922.1h0M1242.1 921.7h0M1249.8 922.2h0M1257.2 921.3h0M1269.1 921.6h0M1273.2 922.3h0M1281.5 920.9h0M1282.5 922.0h0M1292.3 921.5h0M1176.7 924.3h0M1258.3 923.0h0M1259.2 922.9h0M1261.7 923.0h0M1262.7 924.0h0M1265.8 924.0h0M1277.0 923.4h0M1286.6 922.7h0M1293.9 923.5h0M1237.1 924.9h0M1263.2 925.1h0M1268.7 924.6h0M1269.8 925.2h0M1271.9 925.0h0M1274.5 925.6h0M1274.9 926.0h0M1281.4 924.3h0M1292.3 925.6h0M1244.2 927.6h0M1248.2 926.7h0M1257.9 927.6h0M1262.6 926.3h0M1269.3 926.7h0M1270.8 927.3h0M1274.7 926.1h0M1275.2 927.3h0M1277.4 926.5h0M1278.4 926.3h0M1288.7 926.9h0M1162.7 929.2h0M1184.2 929.0h0M1187.9 928.1h0M1206.9 928.0h0M1217.1 929.5h0M1236.8 929.3h0M1239.9 928.2h0M1249.3 928.1h0M1253.7 929.2h0M1271.2 927.9h0M1273.1 928.7h0M1276.2 928.9h0M1283.6 928.9h0M1153.5 929.8h0M1164.1 930.3h0M1168.2 930.9h0M1202.4 929.8h0M1207.3 930.3h0M1209.1 929.8h0M1220.1 929.7h0M1237.2 931.0h0M1243.8 931.1h0M1248.0 930.3h0M1255.7 930.7h0M1269.7 931.1h0M1274.5 930.7h0M1274.9 931.0h0M1283.2 930.3h0M1286.1 931.2h0M1295.3 930.6h0M1203.9 931.4h0M1248.7 932.0h0M1252.7 932.8h0M1254.7 932.8h0M1255.7 933.0h0M1258.9 932.2h0M1261.4 931.4h0M1267.3 932.0h0M1278.3 931.4h0M1295.3 932.5h0M1180.0 933.6h0M1200.3 934.6h0M1221.2 934.7h0M1247.0 933.7h0M1250.0 933.2h0M1251.4 934.2h0M1252.8 934.8h0M1256.3 933.1h0M1258.3 934.2h0M1263.5 933.1h0M1265.2 933.3h0M1268.4 934.0h0M1273.2 934.1h0M1277.5 933.6h0M1288.4 933.3h0M1296.0 933.4h0M1175.4 936.4h0M1183.7 934.9h0M1195.6 935.7h0M1202.5 935.1h0M1218.4 935.8h0M1222.5 935.0h0M1234.7 934.8h0M1236.5 936.3h0M1241.1 934.8h0M1241.7 936.1h0M1247.7 935.8h0M1248.6 936.0h0M1270.6 936.3h0M1272.3 935.9h0M1275.5 936.2h0M1289.7 935.6h0M1290.7 934.9h0M1161.9 937.8h0M1167.5 936.6h0M1169.1 937.2h0M1194.2 937.3h0M1207.8 937.0h0M1215.7 937.2h0M1224.9 938.1h0M1258.3 937.5h0M1265.1 937.1h0M1279.4 937.1h0M1160.0 938.9h0M1172.0 939.8h0M1204.1 939.8h0M1231.6 939.5h0M1236.7 939.4h0M1244.2 940.0h0M1250.1 939.5h0M1254.0 939.5h0M1261.7 938.4h0M1265.1 938.6h0M1268.5 939.5h0M1276.4 938.9h0M1166.3 941.6h0M1175.8 941.4h0M1178.8 940.4h0M1199.6 940.3h0M1211.7 941.6h0M1223.5 941.2h0M1234.8 940.2h0M1249.2 940.5h0M1261.4 940.9h0M1269.6 941.1h0M1279.2 941.3h0M1161.8 942.7h0M1172.4 942.6h0M1174.1 942.8h0M1190.6 943.5h0M1231.5 942.9h0M1235.7 942.8h0M1240.2 942.1h0M1246.4 942.0h0M1260.3 942.4h0M1263.8 942.0h0M1265.2 942.4h0M1270.5 942.0h0M1271.9 942.5h0M1281.4 942.7h0M1184.5 945.0h0M1209.2 944.3h0M1235.9 944.4h0M1238.3 943.9h0M1272.5 944.7h0M1173.0 946.1h0M1185.5 946.3h0M1198.5 946.4h0M1209.9 946.5h0M1213.6 945.3h0M1217.3 946.5h0M1220.2 947.0h0M1234.6 945.5h0M1240.6 945.4h0M1260.9 945.6h0M1273.2 946.6h0M1278.9 945.7h0M1289.9 945.5h0M1171.9 947.2h0M1202.1 947.4h0M1208.0 947.1h0M1211.9 948.7h0M1216.2 947.3h0M1245.7 948.2h0M1250.7 948.3h0M1261.4 948.2h0M1262.7 947.6h0M1266.5 948.6h0M1272.1 947.6h0M1274.3 948.3h0M1291.6 947.2h0M1293.5 948.6h0M1158.7 949.8h0M1164.1 949.3h0M1197.5 949.3h0M1217.4 950.1h0M1222.0 950.5h0M1228.5 949.9h0M1235.0 949.1h0M1242.3 948.9h0M1243.5 950.1h0M1245.5 949.5h0M1247.5 949.0h0M1277.3 948.9h0M1287.2 949.4h0M1179.7 951.4h0M1204.7 950.6h0M1212.1 950.6h0M1237.8 952.0h0M1244.9 951.0h0M1249.4 951.5h0M1254.7 952.3h0M1266.4 951.7h0M1273.2 951.2h0M1275.7 951.3h0M1278.9 951.0h0M1286.9 950.9h0M1174.2 952.4h0M1221.4 954.0h0M1230.9 953.6h0M1251.5 952.7h0M1256.4 953.1h0M1260.3 952.4h0M1263.1 952.8h0M1265.7 952.8h0M1273.0 952.9h0M1291.1 953.8h0M1172.2 954.3h0M1182.9 955.0h0M1188.6 954.9h0M1201.4 955.0h0M1233.1 955.5h0M1245.4 954.1h0M1253.3 955.8h0M1264.9 954.2h0M1275.3 955.2h0M1176.3 957.1h0M1249.0 957.3h0M1254.5 957.5h0M1257.2 956.6h0M1275.0 956.1h0M1281.9 957.0h0M1180.9 957.9h0M1188.9 958.0h0M1190.6 959.1h0M1216.8 958.9h0M1221.3 958.6h0M1229.1 957.7h0M1232.1 957.8h0M1246.2 958.8h0M1254.5 958.4h0M1257.8 957.9h0M1260.8 957.8h0M1266.0 959.0h0M1267.9 957.6h0M1272.2 958.4h0M1289.3 958.1h0M1183.3 960.5h0M1204.6 960.8h0M1220.0 960.8h0M1239.0 960.6h0M1269.6 960.9h0M1282.3 960.4h0M1285.6 959.9h0M1173.0 961.5h0M1195.2 961.9h0M1207.1 961.3h0M1214.4 962.2h0M1230.3 962.3h0M1245.3 962.0h0M1249.2 962.6h0M1263.0 962.4h0M1264.8 962.4h0M1281.5 961.4h0M1201.7 963.4h0M1205.2 963.6h0M1208.2 964.3h0M1208.6 962.9h0M1213.9 964.2h0M1224.6 963.9h0M1231.4 963.9h0M1237.6 963.0h0M1251.2 963.8h0M1269.3 964.3h0M1279.5 963.1h0M1189.6 966.0h0M1237.2 965.8h0M1244.3 964.9h0M1252.2 966.0h0M1175.3 966.5h0M1180.1 967.1h0M1198.5 966.9h0M1201.1 967.8h0M1212.2 967.6h0M1249.6 967.3h0M1253.1 968.0h0M1263.9 967.4h0M1186.5 968.9h0M1194.7 969.7h0M1240.6 968.4h0M1265.0 969.4h0M1176.3 970.0h0M1222.8 971.5h0M1228.7 970.4h0M1270.7 971.4h0M1184.6 972.4h0M1202.2 972.6h0M1257.9 972.2h0M1197.5 974.1h0M1208.7 973.8h0M1252.7 973.8h0M1255.4 975.0h0M1257.2 973.4h0M1258.4 973.4h0M1266.7 975.0h0M1184.0 975.7h0M1216.0 976.4h0M1227.3 975.6h0M1196.4 977.7h0M1216.1 977.5h0M1230.5 977.4h0M1246.6 977.4h0M1262.6 978.4h0M1203.1 979.5h0M1222.2 978.9h0M1257.0 979.0h0M1192.1 981.1h0M1196.8 981.3h0M1201.5 981.5h0M1203.4 981.8h0M1241.8 980.4h0M1245.4 981.1h0M1247.0 980.6h0M1224.0 983.5h0M1230.5 982.7h0M1257.6 983.0h0M1218.6 985.2h0M1213.7 986.4h0M1227.5 986.7h0M1239.0 986.4h0M1248.6 985.9h0" stroke="#7c68c8" stroke-width="1.4" stroke-linecap="round" fill="none" opacity="0.9"/>
<path d="M1225.8 847.1h0M1228.9 846.2h0M1213.6 848.7h0M1202.5 849.8h0M1235.8 849.9h0M1241.6 850.3h0M1246.4 850.0h0M1199.1 851.6h0M1217.6 851.4h0M1227.5 851.3h0M1257.9 852.1h0M1203.6 854.2h0M1247.7 852.6h0M1226.0 857.4h0M1233.8 857.6h0M1235.1 856.4h0M1244.7 856.3h0M1249.7 857.7h0M1265.1 856.3h0M1201.6 859.1h0M1242.2 859.4h0M1258.2 858.1h0M1259.3 858.9h0M1219.4 860.5h0M1225.2 860.8h0M1245.7 860.0h0M1212.5 861.7h0M1243.4 862.5h0M1250.3 861.9h0M1270.6 862.9h0M1180.1 863.6h0M1192.3 864.4h0M1242.8 864.0h0M1257.2 864.1h0M1248.5 866.3h0M1212.6 867.8h0M1236.8 868.0h0M1243.0 866.7h0M1256.5 867.3h0M1271.6 867.1h0M1191.9 868.5h0M1197.6 868.6h0M1236.9 870.0h0M1242.8 868.9h0M1270.6 869.7h0M1277.2 869.7h0M1280.6 868.9h0M1201.6 870.8h0M1226.8 870.7h0M1260.9 870.2h0M1280.7 870.6h0M1168.9 873.1h0M1176.1 871.8h0M1230.7 871.9h0M1254.8 873.1h0M1258.7 872.4h0M1276.7 873.2h0M1281.7 872.5h0M1287.8 872.8h0M1251.4 875.0h0M1253.3 874.5h0M1267.5 874.8h0M1268.4 874.3h0M1169.9 875.4h0M1178.7 875.5h0M1181.8 876.0h0M1208.6 875.9h0M1267.5 875.9h0M1268.4 876.3h0M1175.5 878.7h0M1247.7 877.7h0M1277.4 877.5h0M1289.7 877.9h0M1167.9 879.8h0M1160.7 881.8h0M1174.2 881.0h0M1217.6 881.1h0M1249.9 881.7h0M1263.2 881.8h0M1163.3 883.4h0M1182.6 884.0h0M1193.8 883.2h0M1222.9 882.3h0M1233.8 884.0h0M1260.3 884.0h0M1275.9 882.8h0M1279.8 883.7h0M1172.9 885.3h0M1244.0 884.2h0M1253.3 884.3h0M1264.0 885.6h0M1264.9 884.4h0M1285.4 884.9h0M1168.4 886.7h0M1179.4 887.5h0M1207.6 886.9h0M1218.9 886.1h0M1259.6 887.2h0M1271.7 886.2h0M1278.1 886.1h0M1279.7 886.1h0M1165.4 888.2h0M1168.9 887.6h0M1175.0 889.1h0M1237.9 887.8h0M1255.8 889.1h0M1260.8 889.1h0M1263.2 888.9h0M1283.4 888.9h0M1288.1 887.9h0M1291.3 889.0h0M1292.3 888.7h0M1294.3 888.2h0M1237.5 890.6h0M1258.6 890.5h0M1283.0 889.5h0M1285.4 889.9h0M1290.8 890.9h0M1293.0 889.7h0M1163.6 892.1h0M1175.0 892.2h0M1177.3 891.1h0M1233.5 892.0h0M1272.2 892.3h0M1161.1 893.8h0M1178.7 893.3h0M1180.8 892.9h0M1212.1 893.5h0M1232.1 893.6h0M1247.8 894.1h0M1258.4 894.3h0M1262.0 893.4h0M1276.4 894.5h0M1277.1 894.4h0M1162.2 894.9h0M1167.5 894.8h0M1168.8 895.1h0M1203.2 895.3h0M1227.3 894.7h0M1248.9 894.6h0M1258.0 895.5h0M1259.7 895.5h0M1272.9 895.7h0M1278.8 894.6h0M1284.4 895.1h0M1166.1 896.9h0M1204.4 896.5h0M1223.1 897.7h0M1241.6 896.6h0M1243.7 897.8h0M1262.6 896.8h0M1266.3 897.2h0M1269.4 896.3h0M1269.6 896.4h0M1293.0 897.1h0M1159.9 898.4h0M1162.5 898.7h0M1175.2 899.0h0M1191.3 898.5h0M1249.8 898.6h0M1251.1 898.2h0M1272.4 898.7h0M1280.4 898.3h0M1289.4 899.2h0M1297.7 899.5h0M1167.3 901.0h0M1168.9 901.2h0M1175.6 901.2h0M1190.1 900.2h0M1203.3 901.1h0M1229.2 900.0h0M1260.2 900.4h0M1263.8 900.4h0M1267.0 901.0h0M1271.2 900.9h0M1274.2 901.0h0M1277.8 900.3h0M1282.3 901.3h0M1287.9 900.0h0M1290.3 899.9h0M1291.2 901.3h0M1158.6 903.1h0M1167.2 901.6h0M1176.7 902.3h0M1180.1 902.4h0M1183.8 902.5h0M1197.6 901.8h0M1227.5 902.7h0M1233.6 902.4h0M1239.8 901.6h0M1241.1 902.7h0M1253.8 901.9h0M1266.6 902.9h0M1270.6 901.7h0M1271.6 902.6h0M1162.3 904.8h0M1170.3 903.4h0M1182.4 904.3h0M1255.3 904.0h0M1258.8 904.2h0M1259.4 903.9h0M1261.6 903.7h0M1273.7 903.5h0M1287.4 903.3h0M1246.1 905.7h0M1248.3 905.8h0M1249.7 905.4h0M1291.4 906.4h0M1300.6 906.4h0M1152.9 906.9h0M1160.0 906.8h0M1177.1 907.0h0M1187.3 908.4h0M1192.7 908.2h0M1236.9 907.2h0M1269.9 908.0h0M1277.2 908.1h0M1281.1 907.4h0M1301.4 908.4h0M1156.4 909.4h0M1168.9 909.2h0M1182.2 909.5h0M1188.7 909.6h0M1245.0 910.2h0M1257.6 908.8h0M1267.1 909.2h0M1271.4 909.6h0M1275.7 908.9h0M1279.6 908.9h0M1283.6 909.6h0M1153.8 910.6h0M1157.8 910.7h0M1191.6 911.0h0M1209.7 911.5h0M1219.8 911.7h0M1222.0 911.4h0M1239.6 911.8h0M1255.9 911.7h0M1275.9 910.7h0M1276.7 911.3h0M1289.7 911.0h0M1164.5 912.1h0M1190.3 913.0h0M1200.3 912.5h0M1202.2 913.1h0M1224.9 912.1h0M1246.5 912.8h0M1247.8 913.5h0M1257.4 912.8h0M1262.3 913.7h0M1264.0 912.2h0M1265.9 912.2h0M1266.4 913.6h0M1270.6 912.1h0M1273.8 912.7h0M1287.9 913.5h0M1293.3 912.5h0M1150.7 915.4h0M1159.2 913.8h0M1163.8 914.7h0M1170.2 915.3h0M1175.7 915.4h0M1178.4 914.1h0M1191.8 915.2h0M1201.2 915.0h0M1218.7 914.2h0M1230.1 915.2h0M1242.3 914.0h0M1264.0 915.5h0M1270.1 915.3h0M1273.0 913.9h0M1276.3 914.0h0M1284.3 914.3h0M1150.9 917.3h0M1157.3 915.8h0M1182.8 916.8h0M1203.9 917.0h0M1211.3 916.8h0M1221.2 915.8h0M1245.1 916.5h0M1253.0 915.9h0M1266.7 916.0h0M1273.8 917.2h0M1281.1 916.8h0M1285.0 916.8h0M1164.4 918.6h0M1175.6 919.0h0M1178.0 918.7h0M1185.7 918.3h0M1230.9 918.2h0M1231.3 918.3h0M1234.4 918.1h0M1239.6 917.4h0M1240.4 918.9h0M1245.7 917.3h0M1247.6 917.5h0M1251.1 917.7h0M1258.3 918.9h0M1267.1 917.5h0M1284.8 917.5h0M1160.7 920.3h0M1161.5 920.4h0M1217.5 920.3h0M1248.8 920.3h0M1254.6 920.7h0M1258.5 919.6h0M1267.2 920.3h0M1280.9 920.4h0M1287.5 920.4h0M1300.3 919.6h0M1175.4 922.2h0M1185.5 922.3h0M1244.1 922.5h0M1247.5 921.4h0M1262.0 920.8h0M1272.4 921.1h0M1278.5 921.2h0M1285.1 921.7h0M1293.9 922.2h0M1295.5 922.1h0M1163.6 923.9h0M1172.8 923.1h0M1186.0 923.1h0M1238.2 923.0h0M1241.7 923.3h0M1244.0 923.0h0M1246.3 922.8h0M1271.3 924.2h0M1272.1 922.8h0M1156.3 925.1h0M1159.3 925.6h0M1166.8 925.0h0M1219.3 926.0h0M1231.7 925.2h0M1235.6 924.7h0M1244.3 925.0h0M1251.8 925.7h0M1257.1 926.0h0M1260.5 924.9h0M1267.7 925.1h0M1279.9 925.2h0M1284.5 924.6h0M1287.6 925.4h0M1290.0 926.0h0M1303.6 925.8h0M1153.2 926.6h0M1165.3 927.0h0M1202.2 927.1h0M1213.1 927.0h0M1215.2 927.2h0M1226.9 927.5h0M1245.2 926.4h0M1253.1 927.6h0M1265.6 927.2h0M1266.4 926.9h0M1282.9 927.0h0M1154.8 928.3h0M1170.4 927.8h0M1177.6 929.4h0M1178.7 928.3h0M1183.2 929.0h0M1190.8 928.0h0M1214.4 927.8h0M1220.0 928.8h0M1246.4 929.4h0M1257.8 928.9h0M1261.3 928.7h0M1265.8 929.0h0M1266.8 929.0h0M1156.2 930.0h0M1175.5 930.7h0M1190.7 931.1h0M1203.6 930.9h0M1206.3 930.6h0M1210.2 929.6h0M1218.7 930.8h0M1228.3 930.0h0M1246.1 930.3h0M1252.5 930.0h0M1262.4 930.9h0M1262.9 930.2h0M1265.1 929.9h0M1267.0 930.6h0M1272.4 930.3h0M1279.7 929.6h0M1299.0 930.6h0M1161.6 932.9h0M1171.9 931.5h0M1193.8 932.4h0M1228.7 932.5h0M1234.2 932.9h0M1250.8 932.3h0M1262.8 931.5h0M1264.5 932.4h0M1270.0 933.0h0M1287.0 931.3h0M1287.8 931.5h0M1158.4 934.0h0M1177.8 934.0h0M1213.4 933.6h0M1238.8 933.5h0M1243.9 933.3h0M1255.5 934.5h0M1260.1 933.9h0M1276.5 933.5h0M1283.1 933.1h0M1287.0 934.4h0M1300.9 934.3h0M1160.1 934.9h0M1162.2 934.8h0M1180.4 935.9h0M1206.5 935.5h0M1208.5 935.7h0M1214.9 935.7h0M1245.8 936.2h0M1251.9 936.1h0M1252.9 936.4h0M1255.2 935.6h0M1260.2 935.3h0M1263.2 935.6h0M1265.3 935.4h0M1266.9 935.4h0M1268.6 934.9h0M1198.1 937.9h0M1232.0 937.4h0M1233.0 938.2h0M1237.8 937.2h0M1239.1 936.7h0M1242.9 937.2h0M1248.2 937.6h0M1253.8 938.0h0M1261.6 938.3h0M1268.5 936.7h0M1270.3 936.8h0M1274.7 938.0h0M1276.5 937.6h0M1280.5 937.5h0M1285.0 936.8h0M1288.5 937.4h0M1171.4 939.6h0M1182.2 939.1h0M1186.6 939.9h0M1190.6 938.7h0M1201.9 939.2h0M1219.0 938.9h0M1238.9 939.6h0M1241.6 939.7h0M1248.2 939.8h0M1251.4 938.7h0M1257.1 939.4h0M1283.5 939.5h0M1283.8 939.6h0M1294.2 938.8h0M1158.4 940.8h0M1187.8 941.4h0M1198.9 940.5h0M1218.1 940.2h0M1225.6 941.3h0M1227.8 940.7h0M1231.6 941.2h0M1233.6 941.6h0M1247.9 940.2h0M1251.9 941.6h0M1253.6 941.6h0M1256.3 940.3h0M1262.6 940.5h0M1268.3 940.6h0M1274.7 940.3h0M1299.2 941.6h0M1156.0 942.5h0M1168.2 943.3h0M1206.4 942.3h0M1207.5 942.8h0M1218.8 942.2h0M1219.7 942.6h0M1229.8 942.8h0M1242.0 942.4h0M1269.2 943.4h0M1274.7 942.9h0M1275.3 942.0h0M1283.5 942.5h0M1287.6 942.3h0M1168.5 943.9h0M1172.3 944.7h0M1173.8 943.6h0M1216.0 944.7h0M1219.0 944.0h0M1237.7 945.0h0M1240.0 944.6h0M1256.9 944.7h0M1262.6 944.5h0M1279.1 944.0h0M1280.2 944.5h0M1287.9 944.2h0M1291.9 944.2h0M1293.0 944.1h0M1294.2 944.5h0M1297.4 944.0h0M1212.7 945.8h0M1222.7 945.7h0M1236.3 946.0h0M1244.9 946.3h0M1258.0 946.2h0M1270.7 945.5h0M1276.0 946.3h0M1285.9 945.7h0M1160.6 947.5h0M1183.4 947.1h0M1190.9 947.3h0M1205.4 947.6h0M1210.5 948.6h0M1218.0 948.4h0M1219.9 947.5h0M1227.8 947.1h0M1231.2 947.6h0M1253.8 947.4h0M1256.9 948.0h0M1269.8 947.5h0M1276.4 947.4h0M1278.7 947.7h0M1286.2 947.7h0M1295.3 947.5h0M1159.6 949.1h0M1165.5 949.5h0M1169.3 950.5h0M1189.9 950.0h0M1194.3 950.5h0M1204.0 949.5h0M1211.1 949.6h0M1220.0 950.0h0M1264.0 950.3h0M1275.0 949.8h0M1285.4 949.7h0M1192.4 952.2h0M1213.6 950.6h0M1221.3 951.8h0M1224.3 950.6h0M1229.5 951.9h0M1243.1 951.4h0M1246.5 950.8h0M1258.9 950.7h0M1259.9 950.8h0M1262.3 952.0h0M1262.8 951.8h0M1268.3 951.0h0M1269.9 952.1h0M1276.9 951.0h0M1292.2 951.3h0M1294.5 951.2h0M1171.1 953.9h0M1176.3 953.2h0M1200.4 953.0h0M1212.8 954.0h0M1214.6 953.7h0M1236.1 952.9h0M1244.3 952.5h0M1254.2 952.9h0M1191.0 954.1h0M1211.2 954.7h0M1219.4 955.3h0M1230.5 955.5h0M1244.0 954.9h0M1267.3 955.6h0M1269.7 954.2h0M1282.2 954.7h0M1283.7 954.7h0M1171.5 957.2h0M1176.9 956.5h0M1204.7 957.1h0M1207.9 956.9h0M1216.6 956.5h0M1217.6 957.2h0M1219.1 957.2h0M1221.8 956.6h0M1224.0 956.9h0M1224.5 956.1h0M1230.3 957.5h0M1242.0 957.5h0M1248.0 956.7h0M1258.9 957.0h0M1261.0 956.6h0M1276.7 956.2h0M1285.0 956.5h0M1288.4 957.1h0M1171.3 957.6h0M1198.1 957.6h0M1207.6 958.9h0M1217.7 958.8h0M1239.4 958.1h0M1252.0 957.9h0M1256.4 957.6h0M1260.7 958.1h0M1273.1 958.1h0M1286.4 959.2h0M1171.6 960.8h0M1175.4 960.9h0M1188.6 960.5h0M1211.0 960.0h0M1226.2 961.0h0M1248.2 959.9h0M1259.8 959.8h0M1262.4 959.8h0M1265.8 961.0h0M1271.6 960.2h0M1208.6 962.5h0M1269.4 962.6h0M1270.8 961.3h0M1275.3 962.7h0M1181.5 963.1h0M1196.6 963.6h0M1229.7 962.9h0M1244.0 962.9h0M1248.2 963.8h0M1252.6 963.0h0M1264.5 963.5h0M1271.1 964.2h0M1273.2 963.5h0M1275.5 964.3h0M1283.6 962.9h0M1176.6 965.9h0M1179.9 965.7h0M1181.3 965.9h0M1186.6 966.2h0M1201.5 966.2h0M1221.8 965.0h0M1225.5 964.7h0M1227.4 965.5h0M1238.9 965.6h0M1245.1 965.3h0M1219.8 967.4h0M1239.7 967.5h0M1260.5 966.6h0M1196.9 969.3h0M1204.2 968.2h0M1206.8 968.4h0M1224.5 968.1h0M1246.7 968.1h0M1249.3 968.1h0M1261.2 968.8h0M1271.9 968.1h0M1277.1 968.5h0M1280.3 968.5h0M1197.7 970.4h0M1198.1 970.1h0M1211.3 970.8h0M1212.0 970.5h0M1215.6 970.3h0M1221.1 970.8h0M1250.6 970.2h0M1255.9 970.2h0M1273.5 971.2h0M1194.6 971.7h0M1243.1 973.0h0M1243.5 971.8h0M1249.0 973.2h0M1260.6 972.0h0M1268.6 972.6h0M1273.6 972.9h0M1192.2 974.4h0M1216.1 974.3h0M1237.7 974.4h0M1239.0 973.3h0M1260.0 973.4h0M1193.6 975.7h0M1204.4 976.2h0M1257.3 975.4h0M1258.4 976.2h0M1267.6 976.5h0M1197.9 977.9h0M1212.8 977.1h0M1262.5 978.3h0M1200.6 979.7h0M1205.7 980.2h0M1214.9 979.2h0M1225.5 979.4h0M1231.9 980.3h0M1240.1 978.6h0M1246.3 979.1h0M1259.8 979.9h0M1208.1 981.4h0M1227.8 980.4h0M1233.6 981.4h0M1240.2 980.9h0M1249.4 981.5h0M1204.8 982.4h0M1210.0 982.4h0M1217.9 983.0h0M1218.9 982.9h0M1239.1 982.2h0M1242.4 983.3h0M1247.1 983.8h0M1211.5 984.4h0M1234.2 984.9h0M1240.0 984.3h0M1217.5 987.4h0M1220.3 987.8h0M1224.0 987.5h0M1234.4 988.0h0" stroke="#4a30a8" stroke-width="2.1" stroke-linecap="round" fill="none" opacity="0.9"/>
<ellipse cx="1227.3" cy="917.2" rx="76.7" ry="71.60000000000001" fill="none" stroke="#5a48b0" stroke-width="1.6" opacity="0.45"/>
<ellipse cx="1227.3" cy="917.2" rx="78.5" ry="73.4" fill="none" stroke="#111" stroke-width="2"/>
<ellipse cx="1384.7" cy="918.9" rx="74" ry="70.3" fill="#e2e0e8"/>
<path d="M1372.3 851.5h0M1378.9 852.3h0M1381.8 852.8h0M1369.5 854.0h0M1398.4 854.7h0M1403.1 854.2h0M1357.7 857.1h0M1393.0 857.1h0M1408.7 857.0h0M1413.3 855.7h0M1389.0 858.3h0M1406.2 858.7h0M1347.8 859.9h0M1403.9 860.5h0M1408.0 859.8h0M1419.1 859.6h0M1349.7 861.7h0M1353.9 862.6h0M1375.4 861.1h0M1396.5 861.7h0M1422.8 862.2h0M1343.6 862.7h0M1384.8 863.9h0M1399.1 863.0h0M1406.7 863.8h0M1414.7 863.6h0M1375.8 864.7h0M1391.7 866.0h0M1419.6 865.4h0M1338.6 867.2h0M1378.7 866.1h0M1413.4 867.5h0M1348.2 869.0h0M1398.7 868.7h0M1433.9 868.7h0M1357.5 870.3h0M1358.8 871.1h0M1405.1 870.3h0M1414.2 871.3h0M1357.6 872.7h0M1370.0 872.7h0M1432.0 872.6h0M1331.1 874.4h0M1351.8 873.9h0M1390.5 874.0h0M1395.1 874.1h0M1402.2 873.3h0M1429.9 873.2h0M1374.8 875.6h0M1338.4 877.4h0M1347.0 877.4h0M1366.2 876.8h0M1387.3 878.3h0M1392.6 876.9h0M1417.7 877.9h0M1431.7 876.6h0M1439.5 877.0h0M1345.3 879.5h0M1363.9 879.4h0M1380.7 879.8h0M1391.7 878.4h0M1394.7 879.4h0M1414.0 878.5h0M1430.6 878.5h0M1437.1 879.3h0M1328.0 881.4h0M1332.4 881.3h0M1377.7 880.3h0M1385.9 881.2h0M1403.5 880.5h0M1422.7 881.5h0M1444.8 881.7h0M1337.1 883.6h0M1340.2 882.8h0M1350.0 882.9h0M1361.6 882.2h0M1383.9 881.9h0M1384.9 883.0h0M1398.8 882.0h0M1402.2 882.2h0M1412.5 882.8h0M1441.6 882.8h0M1332.0 885.1h0M1347.5 884.9h0M1357.8 884.5h0M1372.2 885.0h0M1399.2 884.5h0M1419.7 884.5h0M1372.4 886.5h0M1406.6 885.6h0M1371.3 888.2h0M1375.4 888.5h0M1394.6 887.9h0M1405.4 888.6h0M1432.0 888.4h0M1447.9 888.6h0M1384.3 889.9h0M1388.8 889.2h0M1393.9 890.5h0M1401.7 889.9h0M1424.4 889.3h0M1337.2 890.8h0M1339.1 891.0h0M1347.3 891.2h0M1377.7 890.9h0M1384.0 891.0h0M1414.6 890.7h0M1421.2 891.4h0M1435.9 891.3h0M1320.9 892.8h0M1321.4 894.0h0M1371.0 893.9h0M1373.8 894.1h0M1380.5 892.5h0M1396.6 893.7h0M1402.0 893.2h0M1410.2 893.4h0M1414.0 893.2h0M1415.8 893.6h0M1419.0 893.6h0M1437.9 893.0h0M1451.6 892.8h0M1361.1 895.8h0M1386.0 895.1h0M1397.0 894.8h0M1413.1 894.8h0M1431.7 894.7h0M1336.3 895.9h0M1342.6 897.2h0M1347.8 896.5h0M1398.5 897.4h0M1404.2 897.0h0M1409.6 895.9h0M1417.2 896.8h0M1450.2 895.9h0M1359.5 898.8h0M1380.1 899.3h0M1384.6 898.3h0M1388.6 897.8h0M1389.5 898.1h0M1395.1 898.0h0M1402.5 898.2h0M1403.6 899.1h0M1410.7 898.3h0M1420.2 897.8h0M1424.0 898.9h0M1435.4 898.6h0M1447.2 897.8h0M1327.4 899.8h0M1380.0 899.6h0M1393.1 900.0h0M1400.8 900.4h0M1402.4 900.4h0M1403.6 900.9h0M1410.5 900.0h0M1420.5 900.8h0M1427.1 901.0h0M1443.5 899.6h0M1450.3 900.8h0M1453.0 900.2h0M1329.1 902.0h0M1341.4 902.5h0M1355.5 902.2h0M1365.4 901.8h0M1374.5 901.5h0M1399.2 902.3h0M1429.3 901.2h0M1439.5 901.9h0M1449.5 902.5h0M1372.8 903.6h0M1385.3 904.0h0M1395.8 903.1h0M1400.1 903.2h0M1405.6 902.9h0M1431.7 904.5h0M1314.7 904.6h0M1318.7 905.9h0M1322.9 905.1h0M1338.8 905.4h0M1385.8 906.3h0M1397.4 906.1h0M1403.4 905.4h0M1405.4 905.4h0M1407.9 905.9h0M1411.1 905.2h0M1413.6 906.1h0M1416.2 906.3h0M1435.9 905.7h0M1440.9 904.8h0M1444.2 905.4h0M1316.7 908.0h0M1322.3 907.3h0M1361.7 907.6h0M1401.1 907.5h0M1406.8 907.9h0M1417.5 907.6h0M1426.0 906.5h0M1442.2 906.5h0M1452.4 906.8h0M1316.7 908.1h0M1322.5 909.7h0M1326.6 908.3h0M1358.5 909.1h0M1382.9 908.1h0M1388.8 908.9h0M1400.8 909.2h0M1430.9 909.1h0M1435.6 909.0h0M1320.6 909.9h0M1341.4 911.6h0M1367.8 910.8h0M1377.7 910.0h0M1386.0 909.9h0M1395.4 910.5h0M1401.7 910.9h0M1325.4 912.6h0M1341.0 912.9h0M1345.0 911.9h0M1349.1 912.8h0M1380.8 912.9h0M1396.4 912.8h0M1399.2 912.0h0M1402.2 912.4h0M1406.4 913.2h0M1351.4 914.6h0M1370.4 913.6h0M1387.8 913.6h0M1417.8 914.6h0M1315.3 916.7h0M1318.5 915.9h0M1320.0 915.3h0M1324.0 915.1h0M1333.9 915.8h0M1387.6 915.2h0M1397.7 916.7h0M1400.4 916.5h0M1402.9 915.2h0M1407.3 916.4h0M1392.6 918.2h0M1417.7 918.6h0M1346.0 919.1h0M1354.4 919.3h0M1401.0 919.5h0M1411.0 919.0h0M1415.3 920.1h0M1424.8 918.7h0M1427.0 919.6h0M1318.0 921.5h0M1320.1 922.0h0M1322.0 921.7h0M1327.7 921.1h0M1333.0 921.5h0M1354.4 920.9h0M1356.7 921.5h0M1373.5 921.2h0M1377.8 920.6h0M1380.7 920.7h0M1393.9 921.8h0M1403.6 920.7h0M1408.2 921.6h0M1411.8 922.1h0M1441.1 920.4h0M1322.5 923.5h0M1370.8 923.2h0M1382.1 922.5h0M1402.8 923.4h0M1405.6 922.8h0M1418.7 923.1h0M1452.2 922.1h0M1313.5 925.3h0M1346.8 925.2h0M1376.7 925.4h0M1379.6 924.6h0M1389.8 923.9h0M1417.1 924.7h0M1432.5 924.0h0M1315.5 926.4h0M1323.1 925.6h0M1325.1 926.7h0M1344.1 927.0h0M1355.8 926.3h0M1364.2 925.9h0M1369.6 926.8h0M1377.4 925.9h0M1387.0 925.7h0M1387.8 927.1h0M1397.3 927.0h0M1400.0 926.4h0M1406.9 926.8h0M1407.4 926.3h0M1413.3 926.7h0M1415.8 927.2h0M1430.5 925.7h0M1441.6 926.9h0M1454.3 925.6h0M1320.1 927.6h0M1398.1 927.4h0M1399.8 928.8h0M1410.4 927.4h0M1411.4 928.3h0M1413.8 928.4h0M1422.7 927.8h0M1438.7 927.8h0M1451.2 927.4h0M1325.2 930.6h0M1342.3 929.8h0M1346.2 929.6h0M1354.4 929.6h0M1368.3 930.0h0M1403.2 929.4h0M1405.9 930.0h0M1410.1 929.3h0M1413.7 930.0h0M1425.0 930.5h0M1431.5 929.7h0M1435.2 930.8h0M1316.6 931.6h0M1320.0 931.6h0M1325.2 931.7h0M1327.6 930.9h0M1335.1 932.0h0M1358.9 931.5h0M1384.8 931.2h0M1396.7 932.2h0M1419.3 932.6h0M1423.5 932.0h0M1428.0 931.1h0M1437.7 931.9h0M1447.3 931.3h0M1452.3 931.5h0M1336.8 934.0h0M1386.8 934.3h0M1398.0 934.3h0M1411.7 933.2h0M1419.0 933.3h0M1336.4 935.9h0M1358.1 934.5h0M1382.0 935.3h0M1391.6 934.8h0M1394.5 935.3h0M1409.1 936.1h0M1430.9 934.6h0M1434.0 935.9h0M1314.6 936.5h0M1319.0 937.7h0M1369.1 937.7h0M1385.4 937.3h0M1395.2 937.8h0M1397.7 937.1h0M1404.0 936.9h0M1425.8 937.7h0M1428.6 937.2h0M1442.3 937.3h0M1319.3 939.1h0M1323.7 938.5h0M1336.1 938.1h0M1347.3 939.0h0M1357.4 938.8h0M1382.3 939.0h0M1383.1 938.6h0M1388.3 938.9h0M1415.8 938.4h0M1370.4 941.1h0M1376.8 939.6h0M1379.7 941.3h0M1410.6 940.3h0M1417.2 941.3h0M1442.8 941.1h0M1447.1 941.0h0M1316.7 942.2h0M1321.5 941.6h0M1343.5 942.4h0M1375.1 942.1h0M1379.1 942.9h0M1422.4 942.1h0M1442.3 941.7h0M1317.3 943.2h0M1326.4 944.0h0M1386.0 944.0h0M1412.9 943.5h0M1430.3 944.8h0M1436.7 944.0h0M1444.6 943.5h0M1324.7 944.9h0M1328.0 946.4h0M1330.3 946.4h0M1355.2 945.3h0M1373.0 945.8h0M1378.7 945.3h0M1398.1 944.9h0M1403.4 945.9h0M1405.9 945.3h0M1422.8 945.0h0M1427.7 946.2h0M1428.1 945.1h0M1431.5 946.6h0M1327.5 947.1h0M1329.1 948.3h0M1333.3 948.2h0M1344.9 947.8h0M1370.2 947.1h0M1375.0 947.7h0M1378.5 947.1h0M1382.3 946.8h0M1387.4 946.7h0M1391.7 947.8h0M1418.8 946.7h0M1433.8 948.3h0M1323.2 949.7h0M1340.6 949.9h0M1344.2 949.5h0M1356.7 949.6h0M1361.6 948.7h0M1364.1 948.8h0M1369.3 949.8h0M1411.2 948.5h0M1422.6 949.6h0M1331.4 951.5h0M1336.6 951.7h0M1374.8 951.2h0M1380.9 950.6h0M1395.4 950.3h0M1404.7 951.8h0M1408.3 951.1h0M1418.8 951.6h0M1419.4 951.4h0M1432.8 950.8h0M1343.9 952.4h0M1363.7 952.9h0M1367.6 953.1h0M1373.2 953.5h0M1376.5 953.2h0M1383.3 953.0h0M1396.0 952.1h0M1405.9 952.4h0M1416.9 953.2h0M1424.9 951.9h0M1427.9 952.6h0M1430.1 952.9h0M1436.8 952.7h0M1328.6 955.1h0M1352.6 954.0h0M1353.6 954.6h0M1363.7 954.5h0M1410.0 954.3h0M1355.6 956.2h0M1372.8 956.3h0M1386.7 955.8h0M1392.9 956.0h0M1424.7 955.4h0M1326.1 957.6h0M1335.6 957.1h0M1341.1 957.9h0M1386.3 958.1h0M1406.9 958.2h0M1341.6 959.4h0M1350.1 960.0h0M1374.4 960.2h0M1381.0 959.3h0M1387.7 959.8h0M1391.8 959.1h0M1407.5 959.2h0M1428.2 959.1h0M1356.4 961.2h0M1382.2 960.7h0M1382.6 961.0h0M1384.5 961.2h0M1391.9 962.3h0M1399.2 960.7h0M1403.6 961.5h0M1405.6 961.0h0M1408.5 961.2h0M1344.1 963.4h0M1352.5 963.0h0M1359.2 963.2h0M1369.7 962.4h0M1373.1 962.4h0M1382.9 963.1h0M1395.1 963.5h0M1403.4 963.3h0M1415.6 962.7h0M1438.6 963.8h0M1339.4 965.2h0M1341.3 964.3h0M1353.9 964.9h0M1361.1 964.6h0M1363.9 964.1h0M1374.5 964.3h0M1378.5 965.1h0M1385.5 964.6h0M1401.7 965.6h0M1407.5 964.9h0M1409.7 964.3h0M1425.4 964.5h0M1335.2 966.9h0M1354.0 966.5h0M1366.6 966.3h0M1368.9 967.6h0M1378.4 966.9h0M1390.1 966.7h0M1407.5 967.4h0M1412.7 966.1h0M1402.8 968.7h0M1408.3 968.0h0M1355.0 970.2h0M1383.7 970.3h0M1393.6 970.9h0M1404.6 970.3h0M1342.5 971.8h0M1362.5 972.7h0M1402.9 971.5h0M1380.3 974.2h0M1401.4 973.7h0M1415.8 973.1h0M1418.5 973.1h0M1421.1 973.5h0M1375.8 974.8h0M1413.4 974.9h0M1419.4 974.7h0M1393.4 976.8h0M1406.1 977.0h0M1355.7 979.3h0M1359.6 979.2h0M1392.2 978.7h0M1412.7 978.2h0M1396.7 981.3h0M1405.1 980.2h0M1407.8 980.4h0M1365.4 984.8h0M1384.3 985.8h0M1386.4 986.6h0" stroke="#6a54c4" stroke-width="1.8" stroke-linecap="round" fill="none" opacity="0.9"/>
<path d="M1393.8 851.4h0M1376.0 852.9h0M1383.5 853.3h0M1389.3 852.2h0M1358.0 855.3h0M1360.9 855.1h0M1364.6 856.8h0M1381.2 856.7h0M1357.0 858.4h0M1363.4 857.9h0M1394.4 859.6h0M1415.9 860.7h0M1346.0 862.3h0M1356.7 861.3h0M1393.3 860.9h0M1410.9 861.6h0M1417.5 862.2h0M1359.8 863.5h0M1390.6 862.9h0M1393.3 862.9h0M1403.4 863.1h0M1340.3 865.2h0M1340.6 864.9h0M1353.0 864.7h0M1387.8 865.0h0M1399.6 865.2h0M1406.5 866.0h0M1356.0 867.8h0M1425.9 866.4h0M1370.5 868.6h0M1394.1 869.4h0M1425.3 869.1h0M1428.6 869.1h0M1335.5 870.3h0M1348.9 871.2h0M1399.5 869.8h0M1341.5 871.6h0M1396.4 872.1h0M1416.9 871.6h0M1417.9 872.3h0M1419.7 872.1h0M1425.3 872.6h0M1430.4 872.2h0M1365.5 874.1h0M1376.6 873.2h0M1342.5 876.6h0M1356.7 876.4h0M1375.7 876.5h0M1383.6 875.0h0M1403.5 875.9h0M1407.8 875.2h0M1411.8 876.4h0M1416.2 875.1h0M1339.1 877.1h0M1350.3 877.6h0M1353.5 876.6h0M1391.1 877.9h0M1399.5 878.0h0M1400.8 876.9h0M1402.3 877.0h0M1413.4 876.7h0M1373.5 878.6h0M1383.1 880.0h0M1388.9 879.6h0M1405.3 879.4h0M1428.7 879.7h0M1350.8 881.2h0M1360.5 881.8h0M1383.8 881.0h0M1389.0 880.8h0M1420.6 880.6h0M1428.2 880.3h0M1430.7 881.5h0M1376.2 882.9h0M1389.0 883.1h0M1400.9 882.2h0M1405.3 883.3h0M1340.8 885.0h0M1345.8 883.8h0M1354.0 883.9h0M1385.5 884.0h0M1421.2 883.8h0M1327.6 886.9h0M1374.3 885.5h0M1389.2 886.2h0M1397.0 886.8h0M1409.0 886.0h0M1413.2 885.5h0M1429.1 886.4h0M1445.9 886.5h0M1340.4 887.2h0M1416.7 887.4h0M1438.0 887.9h0M1449.6 888.8h0M1320.7 889.0h0M1348.2 890.5h0M1392.7 889.7h0M1394.8 889.0h0M1398.1 888.9h0M1403.0 889.9h0M1410.9 889.7h0M1443.5 890.2h0M1393.0 890.7h0M1402.0 890.9h0M1447.9 890.6h0M1325.3 892.8h0M1333.4 893.8h0M1387.1 892.5h0M1389.5 892.4h0M1395.4 893.8h0M1411.6 893.1h0M1450.0 894.0h0M1319.6 894.6h0M1326.9 894.6h0M1353.0 894.5h0M1377.6 895.5h0M1380.4 895.7h0M1381.3 894.8h0M1388.7 894.5h0M1390.9 894.8h0M1417.3 894.3h0M1420.6 895.6h0M1424.3 894.4h0M1321.6 896.7h0M1352.4 896.2h0M1395.0 895.9h0M1432.1 897.5h0M1322.7 898.2h0M1349.6 899.0h0M1366.2 898.6h0M1378.8 899.3h0M1399.2 898.0h0M1416.1 898.6h0M1434.4 898.3h0M1444.3 899.3h0M1319.9 899.7h0M1330.7 899.4h0M1340.8 901.0h0M1348.4 900.1h0M1364.6 900.6h0M1381.3 899.6h0M1392.0 899.7h0M1395.9 899.9h0M1431.2 900.1h0M1432.1 900.4h0M1447.5 900.9h0M1347.3 902.5h0M1359.1 901.7h0M1383.6 902.1h0M1387.3 902.2h0M1390.7 901.4h0M1394.6 902.0h0M1396.3 902.5h0M1397.8 902.4h0M1402.2 901.5h0M1407.5 902.4h0M1412.0 902.0h0M1417.7 902.0h0M1448.8 901.3h0M1451.3 901.8h0M1344.5 903.1h0M1366.1 903.6h0M1386.1 903.9h0M1397.6 903.1h0M1399.9 904.2h0M1405.1 904.5h0M1412.5 903.9h0M1419.7 903.1h0M1423.0 904.4h0M1316.3 905.7h0M1321.0 905.7h0M1336.9 906.3h0M1350.1 904.8h0M1351.4 906.2h0M1375.9 905.8h0M1393.6 906.0h0M1400.1 905.0h0M1405.2 904.9h0M1421.6 905.0h0M1425.5 905.6h0M1330.9 906.8h0M1332.6 906.9h0M1334.2 907.9h0M1350.4 906.7h0M1369.5 907.0h0M1377.6 906.9h0M1397.7 907.1h0M1402.3 907.8h0M1405.1 906.6h0M1433.8 906.4h0M1385.0 908.7h0M1390.1 909.1h0M1418.9 908.6h0M1424.5 909.4h0M1428.9 909.3h0M1327.3 911.4h0M1356.3 911.1h0M1359.6 910.0h0M1368.6 910.5h0M1370.2 910.9h0M1382.0 911.1h0M1394.2 909.9h0M1417.0 911.6h0M1427.5 910.6h0M1428.6 911.0h0M1332.6 912.9h0M1360.5 912.8h0M1368.6 912.1h0M1373.4 912.9h0M1374.6 912.5h0M1391.2 913.1h0M1392.6 913.1h0M1398.0 912.1h0M1407.4 912.9h0M1411.3 912.3h0M1420.1 912.5h0M1431.4 912.2h0M1448.2 912.7h0M1449.4 911.7h0M1314.2 915.1h0M1316.8 914.1h0M1321.2 914.8h0M1343.6 914.9h0M1346.1 914.9h0M1358.2 914.2h0M1378.0 914.6h0M1380.5 914.0h0M1390.7 914.3h0M1394.2 914.8h0M1398.7 914.5h0M1405.7 914.6h0M1413.6 915.0h0M1420.9 914.0h0M1427.6 914.9h0M1444.4 914.0h0M1452.0 914.5h0M1454.1 913.8h0M1357.3 916.7h0M1388.7 916.2h0M1391.6 915.5h0M1417.6 915.4h0M1419.7 915.2h0M1428.7 916.8h0M1343.8 917.0h0M1373.5 918.3h0M1389.3 918.4h0M1397.1 917.3h0M1399.5 918.5h0M1401.5 917.2h0M1408.9 918.2h0M1414.5 917.1h0M1321.1 919.5h0M1354.5 919.3h0M1374.5 919.0h0M1384.2 919.1h0M1385.7 920.2h0M1397.2 919.6h0M1399.6 920.1h0M1405.3 919.8h0M1420.4 919.5h0M1423.2 920.0h0M1433.1 919.4h0M1382.3 922.0h0M1388.8 921.0h0M1410.2 920.6h0M1412.5 921.7h0M1416.7 921.2h0M1443.6 921.8h0M1330.0 923.3h0M1357.8 922.6h0M1361.4 923.2h0M1393.9 922.1h0M1397.1 923.8h0M1408.2 923.2h0M1409.7 922.9h0M1412.8 923.3h0M1421.2 923.6h0M1438.1 923.8h0M1438.6 922.9h0M1320.2 924.9h0M1337.8 925.0h0M1343.5 924.9h0M1357.0 924.8h0M1404.7 924.8h0M1406.7 925.4h0M1410.2 924.4h0M1426.8 925.1h0M1337.6 927.0h0M1371.3 926.7h0M1405.1 927.1h0M1421.9 926.5h0M1425.8 926.8h0M1322.2 928.2h0M1350.3 928.2h0M1369.7 928.1h0M1381.2 927.6h0M1383.9 928.9h0M1390.1 927.8h0M1401.1 929.0h0M1405.7 927.4h0M1424.6 927.6h0M1437.6 928.1h0M1320.6 930.7h0M1344.1 930.1h0M1422.2 930.6h0M1427.3 930.5h0M1323.8 931.4h0M1345.0 932.4h0M1367.5 932.2h0M1380.3 931.6h0M1407.5 932.5h0M1449.0 931.2h0M1320.9 933.0h0M1357.8 934.3h0M1384.8 932.8h0M1402.2 934.1h0M1424.6 933.7h0M1427.3 933.9h0M1428.3 933.8h0M1451.5 932.6h0M1330.0 935.8h0M1344.2 934.5h0M1352.1 935.1h0M1364.8 935.2h0M1376.6 936.1h0M1404.6 935.3h0M1451.1 936.0h0M1323.3 937.8h0M1349.8 937.6h0M1357.2 936.4h0M1358.7 937.0h0M1361.1 937.5h0M1376.0 937.3h0M1386.8 937.4h0M1389.1 937.1h0M1390.9 936.9h0M1409.3 936.5h0M1414.3 936.4h0M1438.8 936.4h0M1370.5 938.1h0M1393.4 938.2h0M1395.5 939.5h0M1421.8 939.1h0M1434.6 938.0h0M1448.7 938.8h0M1347.4 940.8h0M1358.5 941.1h0M1374.0 941.1h0M1401.6 941.3h0M1412.2 941.3h0M1419.7 940.9h0M1435.0 940.0h0M1451.9 940.8h0M1365.7 943.0h0M1382.6 942.9h0M1408.8 943.0h0M1416.9 941.5h0M1420.7 941.7h0M1426.1 943.0h0M1320.7 944.7h0M1341.7 943.7h0M1371.8 943.8h0M1389.3 943.7h0M1408.3 944.2h0M1418.6 944.7h0M1438.5 944.6h0M1324.0 945.3h0M1376.6 945.2h0M1411.0 946.4h0M1322.9 948.1h0M1347.2 947.7h0M1376.4 947.0h0M1379.7 947.0h0M1424.0 947.2h0M1429.2 947.7h0M1337.8 949.5h0M1342.4 948.9h0M1346.4 949.1h0M1355.7 949.8h0M1367.9 948.6h0M1383.6 948.5h0M1385.7 949.6h0M1388.2 949.8h0M1401.5 949.6h0M1409.5 949.9h0M1423.7 950.1h0M1434.4 949.8h0M1435.4 948.7h0M1321.4 950.8h0M1342.7 950.8h0M1363.4 951.6h0M1365.7 951.1h0M1388.3 951.0h0M1410.4 950.3h0M1321.2 951.9h0M1337.5 953.4h0M1354.6 953.5h0M1363.0 953.0h0M1366.7 952.1h0M1401.3 952.2h0M1428.9 952.8h0M1444.1 953.0h0M1367.9 954.9h0M1375.9 954.5h0M1388.9 955.1h0M1390.3 954.5h0M1395.0 954.5h0M1402.5 954.3h0M1443.1 953.9h0M1324.1 955.5h0M1345.8 956.3h0M1359.3 955.8h0M1374.2 956.6h0M1378.5 956.0h0M1400.0 956.1h0M1406.2 955.6h0M1415.3 955.9h0M1419.7 956.1h0M1344.1 958.6h0M1355.2 958.7h0M1374.2 958.2h0M1416.5 958.8h0M1433.7 957.4h0M1436.8 958.6h0M1326.9 960.1h0M1332.5 960.2h0M1367.0 959.8h0M1395.8 959.9h0M1415.5 959.2h0M1443.0 959.3h0M1331.6 961.4h0M1336.8 961.4h0M1360.5 961.9h0M1364.9 960.7h0M1379.8 960.8h0M1386.4 961.0h0M1411.7 960.9h0M1415.5 962.2h0M1434.3 962.1h0M1378.4 962.4h0M1388.0 962.5h0M1392.1 962.7h0M1398.4 962.6h0M1401.0 963.8h0M1407.7 963.4h0M1415.7 962.4h0M1418.3 963.5h0M1419.6 964.0h0M1344.0 965.5h0M1358.0 964.1h0M1370.7 964.3h0M1376.8 964.9h0M1384.0 964.2h0M1413.7 964.7h0M1417.6 964.3h0M1423.3 964.9h0M1345.0 967.0h0M1359.1 967.1h0M1360.2 967.2h0M1370.3 966.5h0M1374.8 966.0h0M1386.6 966.4h0M1392.4 966.3h0M1401.1 967.0h0M1369.6 968.7h0M1373.9 967.9h0M1390.5 968.9h0M1399.7 968.2h0M1400.5 967.7h0M1427.7 968.3h0M1358.4 970.6h0M1367.8 971.1h0M1371.1 969.4h0M1391.2 970.8h0M1366.9 972.5h0M1375.2 972.6h0M1377.5 972.5h0M1415.5 971.6h0M1342.1 974.1h0M1362.7 973.9h0M1363.9 973.0h0M1365.1 973.9h0M1405.0 973.0h0M1413.2 974.0h0M1361.6 975.3h0M1370.6 975.5h0M1397.3 975.5h0M1406.0 974.7h0M1415.4 975.4h0M1421.2 976.3h0M1354.7 977.4h0M1395.9 976.9h0M1398.6 977.0h0M1356.9 979.3h0M1382.5 979.7h0M1395.1 978.7h0M1409.7 979.0h0M1353.3 980.1h0M1387.9 983.2h0M1397.7 982.6h0M1409.2 983.1h0M1361.5 984.0h0M1377.5 986.0h0M1399.7 985.2h0" stroke="#8a78d0" stroke-width="1.4" stroke-linecap="round" fill="none" opacity="0.9"/>
<path d="M1369.7 852.0h0M1379.5 851.4h0M1388.2 851.1h0M1391.7 850.6h0M1374.6 855.2h0M1367.1 856.2h0M1382.8 855.7h0M1386.4 856.9h0M1401.4 857.1h0M1402.2 856.6h0M1403.7 856.3h0M1415.5 856.7h0M1402.7 858.2h0M1373.6 859.3h0M1388.1 859.7h0M1406.5 859.5h0M1377.7 862.4h0M1383.8 862.9h0M1391.3 863.2h0M1396.3 863.8h0M1416.5 862.9h0M1347.3 865.9h0M1360.6 865.5h0M1382.2 865.1h0M1409.9 864.9h0M1372.6 866.2h0M1387.9 867.1h0M1416.3 866.1h0M1388.9 869.1h0M1409.5 868.5h0M1416.0 868.7h0M1424.2 868.1h0M1370.6 871.3h0M1397.4 870.0h0M1401.3 871.1h0M1406.7 871.1h0M1416.2 869.8h0M1426.6 870.1h0M1344.8 872.6h0M1360.2 872.6h0M1401.7 872.5h0M1413.9 872.8h0M1396.8 874.4h0M1435.1 873.5h0M1344.0 874.9h0M1363.5 875.6h0M1371.7 875.0h0M1395.9 875.2h0M1397.3 875.5h0M1421.2 876.4h0M1342.2 876.8h0M1360.8 878.2h0M1361.8 877.6h0M1364.7 876.7h0M1384.9 876.8h0M1404.6 878.2h0M1408.9 877.3h0M1416.8 877.1h0M1436.7 876.9h0M1336.0 879.9h0M1340.9 878.5h0M1349.3 879.0h0M1367.5 878.5h0M1386.3 879.0h0M1408.2 879.1h0M1342.5 880.1h0M1363.4 881.4h0M1387.0 880.7h0M1398.5 881.4h0M1409.9 881.0h0M1416.7 880.3h0M1440.5 880.9h0M1329.2 881.9h0M1332.2 882.6h0M1373.5 882.9h0M1374.0 883.0h0M1386.8 882.5h0M1392.8 882.3h0M1324.1 885.1h0M1369.3 884.9h0M1375.9 884.7h0M1389.5 884.0h0M1395.6 885.3h0M1400.0 885.1h0M1402.2 884.1h0M1436.6 884.0h0M1321.8 886.2h0M1380.5 886.3h0M1396.4 885.7h0M1402.3 886.2h0M1404.9 886.6h0M1407.9 885.5h0M1425.4 885.4h0M1427.6 886.3h0M1319.9 888.1h0M1348.7 887.5h0M1404.2 887.2h0M1413.4 887.3h0M1427.9 887.7h0M1342.0 889.1h0M1344.8 889.3h0M1405.7 890.5h0M1414.0 889.1h0M1418.0 890.3h0M1427.5 889.8h0M1433.2 889.3h0M1448.7 889.4h0M1321.8 891.0h0M1347.8 890.8h0M1361.9 890.8h0M1389.8 890.8h0M1392.2 891.9h0M1410.4 891.2h0M1411.6 892.3h0M1412.3 891.3h0M1417.9 891.4h0M1352.5 893.9h0M1394.3 892.8h0M1399.5 893.3h0M1404.3 892.7h0M1423.2 893.5h0M1427.5 893.9h0M1446.5 892.7h0M1321.8 895.8h0M1333.6 895.4h0M1339.9 895.4h0M1351.5 894.7h0M1401.1 894.7h0M1403.0 895.8h0M1405.2 894.3h0M1409.0 895.0h0M1411.3 895.2h0M1324.6 896.8h0M1332.5 896.7h0M1335.1 896.9h0M1340.0 897.5h0M1346.7 895.9h0M1383.3 895.9h0M1387.1 895.9h0M1388.6 897.0h0M1408.2 897.0h0M1410.6 896.8h0M1425.2 896.2h0M1427.3 896.1h0M1431.2 896.3h0M1441.4 896.8h0M1451.5 896.9h0M1321.1 897.7h0M1327.5 898.3h0M1409.9 898.3h0M1437.9 898.5h0M1442.3 898.0h0M1325.5 899.7h0M1332.4 899.7h0M1385.4 900.7h0M1389.2 900.6h0M1407.5 900.2h0M1409.1 900.6h0M1413.8 901.0h0M1317.4 902.1h0M1337.5 902.0h0M1340.0 901.7h0M1348.2 901.3h0M1376.3 902.7h0M1377.2 901.5h0M1387.8 901.1h0M1391.9 901.9h0M1403.5 902.6h0M1409.0 901.1h0M1413.4 902.2h0M1415.5 901.2h0M1420.8 902.0h0M1429.8 902.8h0M1323.3 903.4h0M1350.3 903.2h0M1361.7 903.3h0M1364.0 904.1h0M1382.8 904.4h0M1402.8 904.6h0M1433.8 904.6h0M1453.0 903.3h0M1334.8 905.5h0M1388.5 905.8h0M1410.2 905.9h0M1414.3 905.1h0M1420.1 905.2h0M1423.2 906.3h0M1440.1 905.7h0M1338.3 906.7h0M1376.7 906.8h0M1382.1 907.2h0M1392.3 907.4h0M1409.3 908.0h0M1314.6 908.1h0M1320.8 909.0h0M1326.3 908.8h0M1373.7 908.7h0M1394.6 909.4h0M1402.8 908.4h0M1403.5 909.3h0M1413.0 908.2h0M1416.2 909.3h0M1419.8 908.5h0M1434.3 908.8h0M1314.0 910.0h0M1375.8 910.5h0M1389.6 910.9h0M1396.9 910.8h0M1399.4 911.2h0M1408.4 911.3h0M1410.8 911.5h0M1442.9 911.5h0M1444.6 910.8h0M1350.1 912.9h0M1363.0 912.6h0M1385.6 912.4h0M1387.1 913.0h0M1393.4 913.2h0M1400.8 912.9h0M1405.0 912.8h0M1415.4 912.7h0M1421.8 912.7h0M1424.5 911.8h0M1427.0 912.5h0M1332.1 913.7h0M1333.6 914.8h0M1337.8 914.0h0M1374.1 915.1h0M1386.1 914.0h0M1395.5 914.2h0M1401.1 913.4h0M1410.3 914.8h0M1410.7 913.9h0M1414.9 914.5h0M1417.2 914.6h0M1429.5 913.6h0M1433.9 914.9h0M1342.8 916.4h0M1349.3 915.9h0M1360.7 915.3h0M1376.2 916.5h0M1394.2 915.5h0M1406.1 916.7h0M1410.4 915.6h0M1412.0 915.4h0M1413.0 915.7h0M1416.7 916.0h0M1422.8 915.5h0M1434.6 916.0h0M1313.7 917.0h0M1314.9 918.0h0M1325.0 917.8h0M1332.1 918.0h0M1380.2 918.4h0M1393.2 918.2h0M1395.9 917.8h0M1406.8 917.0h0M1408.0 917.5h0M1411.1 917.2h0M1433.3 917.6h0M1443.6 917.2h0M1317.2 920.2h0M1391.4 919.9h0M1393.9 919.8h0M1395.9 918.9h0M1410.1 919.6h0M1330.8 920.4h0M1344.3 921.0h0M1371.6 920.9h0M1383.9 920.6h0M1395.3 920.7h0M1397.7 921.2h0M1399.3 921.3h0M1400.5 921.7h0M1406.4 921.9h0M1421.4 921.6h0M1434.6 920.8h0M1326.3 922.2h0M1339.2 922.8h0M1350.6 923.5h0M1368.7 923.0h0M1383.8 923.1h0M1387.9 923.5h0M1395.3 922.1h0M1399.7 922.9h0M1401.3 923.0h0M1415.0 922.2h0M1419.5 922.2h0M1424.0 922.7h0M1432.8 922.8h0M1436.4 922.4h0M1447.6 923.0h0M1449.1 923.4h0M1327.5 924.1h0M1401.3 924.5h0M1403.3 925.0h0M1418.7 924.3h0M1444.0 925.1h0M1319.6 926.3h0M1332.3 927.2h0M1346.1 927.2h0M1357.3 926.4h0M1362.0 926.9h0M1366.6 926.6h0M1372.1 926.5h0M1375.3 925.6h0M1383.0 926.6h0M1402.7 926.3h0M1411.6 926.3h0M1434.1 927.2h0M1317.7 927.7h0M1323.3 927.4h0M1339.5 928.3h0M1387.1 928.3h0M1408.2 928.2h0M1417.9 928.1h0M1445.6 927.9h0M1315.5 930.4h0M1339.1 930.6h0M1397.9 929.7h0M1401.3 929.5h0M1404.6 930.7h0M1407.0 929.8h0M1449.7 929.4h0M1347.4 932.5h0M1390.3 931.8h0M1404.0 931.5h0M1416.8 931.0h0M1439.7 932.5h0M1322.2 933.7h0M1356.2 932.9h0M1377.3 933.7h0M1379.7 933.1h0M1383.5 932.6h0M1389.0 934.0h0M1395.0 934.0h0M1399.4 933.7h0M1408.7 933.4h0M1409.3 932.8h0M1420.2 933.2h0M1436.0 934.2h0M1318.5 934.4h0M1333.0 935.0h0M1360.8 935.5h0M1385.7 935.4h0M1387.3 935.7h0M1388.2 934.4h0M1397.2 935.8h0M1400.8 935.1h0M1411.7 936.1h0M1423.1 935.9h0M1436.0 936.0h0M1442.8 934.5h0M1448.2 936.0h0M1321.0 937.0h0M1322.2 937.2h0M1325.7 936.3h0M1347.6 937.7h0M1411.0 937.1h0M1435.1 937.6h0M1448.1 936.9h0M1328.9 938.4h0M1386.2 939.3h0M1402.5 938.0h0M1404.6 938.5h0M1327.3 940.8h0M1337.2 939.8h0M1350.3 940.9h0M1361.2 939.9h0M1387.8 941.3h0M1397.5 940.6h0M1404.8 940.1h0M1406.8 941.3h0M1408.0 941.0h0M1428.2 941.0h0M1319.4 942.8h0M1320.5 941.7h0M1324.9 942.3h0M1344.7 942.7h0M1377.4 942.8h0M1389.6 942.7h0M1405.8 942.8h0M1414.9 941.9h0M1445.9 942.3h0M1321.5 944.4h0M1364.6 944.5h0M1373.2 944.5h0M1377.6 943.2h0M1380.2 943.4h0M1391.4 944.6h0M1425.8 944.2h0M1431.5 943.8h0M1361.4 945.3h0M1385.1 945.5h0M1389.8 946.1h0M1393.2 945.3h0M1399.2 944.9h0M1404.3 946.5h0M1409.7 945.6h0M1422.5 945.6h0M1443.8 946.3h0M1352.7 947.9h0M1354.7 948.2h0M1372.0 947.9h0M1397.1 948.2h0M1405.2 947.5h0M1405.3 946.8h0M1416.2 946.6h0M1420.3 947.2h0M1421.2 948.3h0M1375.2 950.0h0M1380.8 950.0h0M1392.8 949.8h0M1397.7 950.0h0M1408.2 949.1h0M1416.8 949.5h0M1425.1 949.9h0M1441.7 949.1h0M1346.4 951.2h0M1353.3 950.6h0M1372.5 951.8h0M1375.6 950.2h0M1377.6 951.2h0M1383.5 951.5h0M1400.5 951.0h0M1406.5 951.0h0M1414.8 951.8h0M1327.0 952.2h0M1331.9 951.9h0M1350.1 952.3h0M1374.4 953.1h0M1387.9 952.2h0M1389.8 953.2h0M1396.9 953.3h0M1403.4 953.2h0M1407.9 952.3h0M1348.1 955.3h0M1355.3 953.9h0M1357.4 954.6h0M1362.8 953.9h0M1374.8 955.3h0M1397.2 953.9h0M1406.6 954.9h0M1412.6 953.7h0M1417.2 954.2h0M1425.3 954.9h0M1427.2 953.7h0M1342.7 956.1h0M1353.2 956.9h0M1369.6 955.8h0M1375.6 956.8h0M1381.5 956.1h0M1388.0 956.6h0M1391.0 957.0h0M1396.0 957.1h0M1397.6 955.4h0M1407.5 956.2h0M1422.7 956.5h0M1437.8 955.4h0M1335.1 958.3h0M1363.5 957.2h0M1369.9 957.8h0M1371.4 958.8h0M1378.8 957.6h0M1379.1 958.6h0M1388.4 958.2h0M1411.0 958.6h0M1427.3 958.5h0M1440.0 957.8h0M1329.1 959.7h0M1334.2 959.6h0M1344.5 959.5h0M1358.9 959.8h0M1360.1 959.7h0M1362.3 959.7h0M1369.8 960.3h0M1383.1 960.6h0M1399.2 959.4h0M1400.1 959.0h0M1419.3 960.5h0M1425.1 959.0h0M1433.7 959.9h0M1335.1 960.8h0M1338.6 962.3h0M1367.8 960.7h0M1370.2 960.8h0M1373.7 962.1h0M1377.1 961.3h0M1402.8 961.4h0M1359.7 963.7h0M1375.8 963.0h0M1430.1 962.9h0M1434.9 963.0h0M1435.6 964.0h0M1436.7 962.4h0M1336.3 964.8h0M1357.6 964.8h0M1362.5 964.3h0M1382.1 964.4h0M1387.3 965.5h0M1412.0 965.4h0M1420.4 965.1h0M1434.0 964.6h0M1338.3 966.1h0M1363.4 967.2h0M1377.0 966.5h0M1389.3 966.2h0M1425.3 967.5h0M1431.4 965.9h0M1431.9 967.5h0M1349.0 969.0h0M1350.7 968.8h0M1371.7 968.1h0M1378.7 968.4h0M1383.8 968.9h0M1384.8 969.0h0M1387.5 968.6h0M1397.8 968.3h0M1409.5 969.0h0M1415.1 968.9h0M1353.8 969.7h0M1364.5 970.5h0M1382.4 970.4h0M1390.9 969.4h0M1421.9 970.3h0M1365.3 971.3h0M1384.2 972.2h0M1403.6 972.2h0M1408.1 971.6h0M1412.8 972.1h0M1407.3 974.3h0M1411.1 973.4h0M1364.8 976.2h0M1408.6 976.4h0M1417.0 976.9h0M1422.4 977.7h0M1377.9 979.7h0M1385.4 978.8h0M1419.3 978.2h0M1359.3 980.3h0M1362.6 980.9h0M1379.3 981.4h0M1390.0 980.1h0M1392.5 980.1h0M1396.1 980.5h0M1411.5 980.5h0M1380.0 981.8h0M1387.4 982.8h0M1400.9 983.2h0M1402.4 982.4h0M1364.4 984.6h0M1405.5 983.7h0M1373.0 985.8h0M1378.0 987.0h0" stroke="#5a44b8" stroke-width="2.1" stroke-linecap="round" fill="none" opacity="0.9"/>
<ellipse cx="1384.7" cy="918.9" rx="72.2" ry="68.5" fill="none" stroke="#5a48b0" stroke-width="1.6" opacity="0.45"/>
<ellipse cx="1384.7" cy="918.9" rx="74" ry="70.3" fill="none" stroke="#111" stroke-width="2"/>
<ellipse cx="1537.6" cy="919.4" rx="75.6" ry="72.3" fill="#e6e6e3"/>
<path d="M1567.1 854.6h0M1570.3 865.8h0M1489.2 869.2h0M1499.7 871.2h0M1504.9 870.7h0M1537.7 871.6h0M1547.6 872.2h0M1554.5 872.9h0M1564.5 872.4h0M1487.6 877.9h0M1535.3 882.7h0M1575.1 883.7h0M1549.8 885.0h0M1555.8 884.1h0M1558.6 886.4h0M1531.2 888.8h0M1555.5 888.7h0M1569.3 891.4h0M1605.7 893.1h0M1548.3 895.9h0M1597.8 894.4h0M1599.0 895.6h0M1559.7 898.7h0M1591.3 899.9h0M1524.8 901.5h0M1601.8 902.2h0M1591.4 904.2h0M1584.8 905.8h0M1587.9 905.5h0M1603.4 907.6h0M1517.7 909.6h0M1527.9 910.7h0M1604.6 912.4h0M1567.8 915.2h0M1594.8 916.1h0M1555.4 918.8h0M1563.9 920.4h0M1504.5 920.6h0M1556.3 925.1h0M1529.6 930.2h0M1549.4 934.4h0M1490.5 938.6h0M1593.4 946.8h0M1550.6 950.3h0M1525.6 950.8h0M1564.9 961.5h0M1483.0 963.2h0M1556.5 964.1h0M1581.5 964.4h0M1513.0 970.3h0M1532.2 972.1h0M1550.7 978.8h0M1547.7 983.3h0M1557.5 987.6h0" stroke="#5a4c88" stroke-width="1.4" stroke-linecap="round" fill="none" opacity="0.9"/>
<path d="M1533.6 850.9h0M1567.1 865.8h0M1578.4 865.3h0M1527.2 869.6h0M1486.3 870.0h0M1574.8 876.8h0M1570.2 879.9h0M1577.6 879.7h0M1481.4 881.5h0M1541.3 882.0h0M1525.9 884.6h0M1496.9 887.5h0M1569.0 889.2h0M1573.2 890.4h0M1553.1 891.9h0M1522.2 892.7h0M1551.2 893.1h0M1601.8 895.6h0M1483.4 896.9h0M1558.6 897.0h0M1471.0 898.6h0M1601.5 898.9h0M1523.5 901.0h0M1504.7 902.0h0M1602.3 901.5h0M1504.2 904.0h0M1561.1 904.9h0M1564.5 906.1h0M1526.4 906.9h0M1587.9 907.4h0M1532.3 909.1h0M1563.4 908.4h0M1519.2 911.4h0M1599.0 910.3h0M1574.3 918.5h0M1473.8 923.6h0M1557.9 923.6h0M1567.2 922.7h0M1605.2 925.7h0M1567.3 927.4h0M1574.4 927.3h0M1543.9 931.5h0M1515.4 934.3h0M1512.3 939.4h0M1524.8 939.7h0M1526.8 941.2h0M1554.7 941.8h0M1533.6 948.2h0M1471.0 949.0h0M1520.6 950.8h0M1600.3 951.5h0M1585.4 955.9h0M1532.5 957.6h0M1541.9 967.8h0M1492.6 969.8h0M1512.5 971.1h0M1508.4 974.9h0M1551.6 977.7h0M1525.7 985.1h0M1542.9 989.3h0" stroke="#7a6aa8" stroke-width="1.1" stroke-linecap="round" fill="none" opacity="0.9"/>
<path d="M1521.2 856.0h0M1506.8 860.7h0M1531.5 860.2h0M1565.4 863.9h0M1577.7 863.5h0M1563.6 869.6h0M1568.9 870.8h0M1584.4 870.2h0M1572.5 872.5h0M1539.7 873.4h0M1562.2 878.4h0M1556.7 879.6h0M1483.0 884.6h0M1510.0 885.2h0M1512.0 888.8h0M1549.0 890.4h0M1604.9 894.1h0M1564.4 896.0h0M1579.4 895.0h0M1590.8 897.7h0M1574.7 900.8h0M1592.8 899.7h0M1492.8 902.3h0M1561.2 901.4h0M1509.2 904.4h0M1581.4 904.8h0M1570.5 905.5h0M1536.3 907.7h0M1579.2 910.9h0M1495.5 911.9h0M1605.1 914.8h0M1516.8 917.1h0M1524.0 918.6h0M1566.2 917.4h0M1543.9 920.3h0M1501.0 921.9h0M1515.5 923.6h0M1561.6 922.7h0M1606.2 923.1h0M1535.9 927.0h0M1498.3 928.5h0M1538.0 928.1h0M1492.8 931.0h0M1476.2 937.9h0M1594.0 936.6h0M1589.5 938.8h0M1476.2 945.0h0M1503.4 944.4h0M1502.0 957.7h0M1490.2 960.6h0M1522.6 960.3h0M1481.2 961.4h0M1485.3 962.5h0M1508.4 962.3h0M1516.2 963.9h0M1574.4 964.2h0M1589.6 969.4h0M1499.7 978.1h0M1532.8 983.9h0M1562.7 984.2h0M1522.5 987.4h0" stroke="#6a50b0" stroke-width="1.6" stroke-linecap="round" fill="none" opacity="0.9"/>
<circle cx="1579.7" cy="901.5" r="9.2" fill="url(#colh)"/>
<circle cx="1579.7" cy="901.5" r="4.2" fill="#4a1a9a"/>
<circle cx="1588.5" cy="892.1" r="6.6" fill="url(#colh)"/>
<circle cx="1588.5" cy="892.1" r="3.0" fill="#4a1a9a"/>
<circle cx="1587.6" cy="874.8" r="4.6" fill="url(#colh)"/>
<circle cx="1587.6" cy="874.8" r="2.1" fill="#4a1a9a"/>
<circle cx="1573.9" cy="907" r="4.2" fill="url(#colh)"/>
<circle cx="1573.9" cy="907" r="1.9" fill="#4a1a9a"/>
<circle cx="1528.8" cy="892.1" r="3.5" fill="url(#colh)"/>
<circle cx="1528.8" cy="892.1" r="1.6" fill="#4a1a9a"/>
<circle cx="1554.2" cy="910" r="3.3" fill="url(#colh)"/>
<circle cx="1554.2" cy="910" r="1.5" fill="#4a1a9a"/>
<circle cx="1563" cy="898" r="2.4" fill="url(#colh)"/>
<circle cx="1563" cy="898" r="1.1" fill="#4a1a9a"/>
<circle cx="1557" cy="864.5" r="2.6" fill="url(#colh)"/>
<circle cx="1557" cy="864.5" r="1.2" fill="#4a1a9a"/>
<circle cx="1571.2" cy="866.7" r="2.2" fill="url(#colh)"/>
<circle cx="1571.2" cy="866.7" r="1.0" fill="#4a1a9a"/>
<circle cx="1600.9" cy="894.5" r="2.4" fill="url(#colh)"/>
<circle cx="1600.9" cy="894.5" r="1.1" fill="#4a1a9a"/>
<circle cx="1603.9" cy="897.3" r="2.4" fill="url(#colh)"/>
<circle cx="1603.9" cy="897.3" r="1.1" fill="#4a1a9a"/>
<circle cx="1573.3" cy="881.5" r="2.6" fill="url(#colh)"/>
<circle cx="1573.3" cy="881.5" r="1.2" fill="#4a1a9a"/>
<circle cx="1576.4" cy="921.5" r="2.2" fill="url(#colh)"/>
<circle cx="1576.4" cy="921.5" r="1.0" fill="#4a1a9a"/>
<circle cx="1574.5" cy="889.7" r="2.2" fill="url(#colh)"/>
<circle cx="1574.5" cy="889.7" r="1.0" fill="#4a1a9a"/>
<path d="M1477.1,890.5 Q1468.0,919.4 1480.1,951.2" stroke="#9a88d8" stroke-width="2.5" fill="none" opacity="0.6"/>
<ellipse cx="1537.6" cy="919.4" rx="73.8" ry="70.5" fill="none" stroke="#5a48b0" stroke-width="1.6" opacity="0.45"/>
<ellipse cx="1537.6" cy="919.4" rx="75.6" ry="72.3" fill="none" stroke="#111" stroke-width="2"/>
<text x="1032.70" y="1033.30" font-size="26.5" font-weight="bold" fill="#000" font-family="'Liberation Serif', 'Times New Roman', serif" textLength="82.60" lengthAdjust="spacingAndGlyphs">Control</text>
<text x="1203.60" y="1017.30" font-size="26.5" font-weight="bold" fill="#000" font-family="'Liberation Serif', 'Times New Roman', serif" textLength="26.60" lengthAdjust="spacingAndGlyphs">25</text>
<text x="1371.00" y="1017.30" font-size="26.5" font-weight="bold" fill="#000" font-family="'Liberation Serif', 'Times New Roman', serif" textLength="25.40" lengthAdjust="spacingAndGlyphs">50</text>
<text x="1518.20" y="1018.50" font-size="26.5" font-weight="bold" fill="#000" font-family="'Liberation Serif', 'Times New Roman', serif" textLength="39.30" lengthAdjust="spacingAndGlyphs">100</text>
<line x1="1184.40" y1="1025.30" x2="1600.70" y2="1025.30" stroke="#000" stroke-width="2.2"/>
<text x="1331.00" y="1051.80" font-size="26" font-weight="bold" fill="#000" font-family="'Liberation Serif', 'Times New Roman', serif" textLength="161.01" lengthAdjust="spacingAndGlyphs">CANE (µg/ml)</text>
<text x="93.50" y="1079.00" font-size="26.5" font-weight="bold" fill="#000" font-family="'Liberation Serif', 'Times New Roman', serif" textLength="15.30" lengthAdjust="spacingAndGlyphs">f)</text>
<path d="M180.4,1331.1V1203.1H181.6V1194.2H182.8V1193.6H184.0V1237.3H185.2V1275.8H186.4V1277.3H187.6V1293.0H188.8V1319.3H190.0V1311.1H191.2V1319.7H192.4V1321.3H193.6V1325.5H194.8V1326.4H196.0V1325.3H197.2V1329.7H198.4V1329.2H199.6V1327.6H200.8V1329.3H202.0V1328.9H203.2V1330.0H204.4V1329.5H205.6V1329.0H206.8V1329.4H208.0V1329.1H209.2V1329.3H210.4V1329.9H211.6V1329.0H212.8V1329.7H214.0V1328.3H215.2V1329.6H216.4V1329.0H217.6V1329.3H218.8V1328.8H220.0V1329.6H221.2V1328.8H222.4V1329.4H223.6V1328.6H224.8V1329.0H226.0V1329.2H227.2V1329.7H228.4V1328.9H229.6V1329.1H230.8V1328.4H232.0V1329.5H233.2V1329.0H234.4V1329.0H235.6V1329.2H236.8V1329.2H238.0V1329.2H239.2V1329.6H240.4V1329.9H241.6V1329.5H242.8V1329.0H244.0V1328.5H245.2V1328.8H246.4V1328.8H247.6V1328.9H248.8V1328.9H250.0V1329.2H251.2V1328.9H252.4V1328.4H253.6V1329.5H254.8V1329.7H256.0V1328.3H257.2V1329.2H258.4V1328.8H259.6V1328.9H260.8V1329.9H262.0V1328.0H263.2V1328.4H264.4V1329.2H265.6V1328.9H266.8V1329.3H268.0V1329.8H269.2V1329.4H270.4V1327.3H271.6V1326.8H272.8V1327.0H274.0V1327.5H275.2V1326.6H276.4V1328.0H277.6V1319.1H278.8V1318.7H280.0V1320.2H281.2V1301.6H282.4V1299.8H283.6V1261.7H284.8V1241.0H286.0V1239.5H287.2V1165.3H288.4V1150.6H289.6V1134.8H290.8V1088.3H292.0V1088.3H293.2V1088.3H294.4V1088.3H295.6V1088.3H296.8V1120.5H298.0V1122.9H299.2V1118.0H300.4V1174.4H301.6V1238.2H302.8V1236.4H304.0V1235.9H305.2V1251.0H306.4V1242.5H307.6V1280.3H308.8V1282.5H310.0V1278.8H311.2V1287.5H312.4V1290.9H313.6V1273.6H314.8V1281.3H316.0V1280.0H317.2V1290.6H318.4V1284.2H319.6V1289.2H320.8V1301.6H322.0V1304.3H323.2V1297.7H324.4V1298.9H325.6V1300.2H326.8V1301.6H328.0V1302.7H329.2V1303.4H330.4V1304.7H331.6V1300.3H332.8V1302.1H334.0V1299.9H335.2V1299.4H336.4V1301.2H337.6V1303.0H338.8V1299.5H340.0V1310.7H341.2V1308.8H342.4V1314.8H343.6V1315.4H344.8V1308.7H346.0V1308.6H347.2V1307.6H348.4V1312.5H349.6V1307.3H350.8V1308.9H352.0V1307.8H353.2V1309.0H354.4V1306.6H355.6V1307.5H356.8V1309.6H358.0V1309.6H359.2V1305.5H360.4V1309.5H361.6V1310.5H362.8V1310.8H364.0V1311.6H365.2V1309.6H366.4V1307.6H367.6V1300.1H368.8V1306.5H370.0V1300.4H371.2V1300.4H372.4V1299.9H373.6V1306.1H374.8V1299.7H376.0V1300.2H377.2V1302.6H378.4V1302.6H379.6V1297.4H380.8V1302.3H382.0V1300.3H383.2V1295.0H384.4V1299.0H385.6V1302.8H386.8V1276.0H388.0V1274.3H389.2V1277.3H390.4V1262.4H391.6V1267.5H392.8V1266.7H394.0V1261.3H395.2V1266.3H396.4V1259.9H397.6V1263.5H398.8V1261.4H400.0V1265.4H401.2V1272.9H402.4V1270.2H403.6V1275.9H404.8V1270.5H406.0V1279.4H407.2V1277.0H408.4V1279.0H409.6V1293.3H410.8V1296.3H412.0V1293.0H413.2V1308.9H414.4V1311.5H415.6V1309.1H416.8V1308.6H418.0V1308.7H419.2V1308.6H420.4V1319.2H421.6V1319.5H422.8V1320.1H424.0V1317.5H425.2V1318.9H426.4V1321.6H427.6V1328.7H428.8V1329.2H430.0V1328.4H431.2V1327.0H432.4V1326.3H433.6V1326.3H434.8V1326.3H436.0V1326.6H437.2V1327.5H438.4V1325.9H439.6V1325.5H440.8V1326.3H442.0V1326.9H443.2V1326.1H444.4V1325.8H445.6V1326.4H446.8V1326.2H448.0V1325.2H449.2V1327.0H450.4V1326.6H451.6V1331.1Z" fill="#000"/>
<rect x="180.4" y="1088.3" width="271.3" height="242.8" fill="none" stroke="#2626d8" stroke-width="2"/>
<line x1="180.40" y1="1087.30" x2="180.40" y2="1332.10" stroke="#14146e" stroke-width="3.2"/>
<line x1="170.40" y1="1331.10" x2="180.40" y2="1331.10" stroke="#2626d8" stroke-width="2"/>
<text x="162.40" y="1335.60" font-size="15.5" font-weight="bold" fill="#2e1eb0" font-family="'Liberation Serif', 'Times New Roman', serif" textLength="9.00" lengthAdjust="spacingAndGlyphs" transform="rotate(-90 162.40 1335.60)">0</text>
<line x1="170.40" y1="1270.40" x2="180.40" y2="1270.40" stroke="#2626d8" stroke-width="2"/>
<text x="162.40" y="1278.10" font-size="15.5" font-weight="bold" fill="#2e1eb0" font-family="'Liberation Serif', 'Times New Roman', serif" textLength="15.40" lengthAdjust="spacingAndGlyphs" transform="rotate(-90 162.40 1278.10)">50</text>
<line x1="170.40" y1="1209.70" x2="180.40" y2="1209.70" stroke="#2626d8" stroke-width="2"/>
<text x="162.40" y="1222.70" font-size="15.5" font-weight="bold" fill="#2e1eb0" font-family="'Liberation Serif', 'Times New Roman', serif" textLength="26.00" lengthAdjust="spacingAndGlyphs" transform="rotate(-90 162.40 1222.70)">100</text>
<line x1="170.40" y1="1149.00" x2="180.40" y2="1149.00" stroke="#2626d8" stroke-width="2"/>
<text x="162.40" y="1162.00" font-size="15.5" font-weight="bold" fill="#2e1eb0" font-family="'Liberation Serif', 'Times New Roman', serif" textLength="26.00" lengthAdjust="spacingAndGlyphs" transform="rotate(-90 162.40 1162.00)">150</text>
<line x1="170.40" y1="1088.30" x2="180.40" y2="1088.30" stroke="#2626d8" stroke-width="2"/>
<text x="162.40" y="1101.80" font-size="15.5" font-weight="bold" fill="#2e1eb0" font-family="'Liberation Serif', 'Times New Roman', serif" textLength="27.00" lengthAdjust="spacingAndGlyphs" transform="rotate(-90 162.40 1101.80)">200</text>
<line x1="180.40" y1="1331.10" x2="180.40" y2="1340.10" stroke="#2626d8" stroke-width="2"/>
<line x1="299.99" y1="1331.10" x2="299.99" y2="1340.10" stroke="#2626d8" stroke-width="2"/>
<line x1="419.61" y1="1331.10" x2="419.61" y2="1340.10" stroke="#2626d8" stroke-width="2"/>
<line x1="451.70" y1="1331.10" x2="451.70" y2="1340.10" stroke="#2626d8" stroke-width="2"/>
<text x="172.70" y="1359.40" font-size="16.5" font-weight="bold" fill="#2e1eb0" font-family="'Liberation Serif', 'Times New Roman', serif" textLength="7.70" lengthAdjust="spacingAndGlyphs">0</text>
<text x="269.79" y="1359.40" font-size="16.5" font-weight="bold" fill="#2e1eb0" font-family="'Liberation Serif', 'Times New Roman', serif" textLength="61.80" lengthAdjust="spacingAndGlyphs">500,000</text>
<text x="416.70" y="1359.40" font-size="16.5" font-weight="bold" fill="#2e1eb0" font-family="'Liberation Serif', 'Times New Roman', serif" textLength="75.00" lengthAdjust="spacingAndGlyphs">1,134,177</text>
<line x1="182.4" y1="1285.5" x2="285.4" y2="1285.5" stroke="#d8234a" stroke-width="2.1" stroke-dasharray="10,7.5"/>
<line x1="285.4" y1="1270.1" x2="285.4" y2="1299.1" stroke="#d8234a" stroke-width="2.4" stroke-dasharray="8,5"/>
<line x1="181.9" y1="1270.1" x2="181.9" y2="1299.1" stroke="#d8234a" stroke-width="2.4" stroke-dasharray="8,5"/>
<text x="185.40" y="1260.90" font-size="19.2" font-weight="normal" fill="#d8234a" font-family="'Liberation Sans', Arial, sans-serif" textLength="22.80" lengthAdjust="spacingAndGlyphs">M1</text>
<text x="185.70" y="1280.60" font-size="22.3" font-weight="normal" fill="#d8234a" font-family="'Liberation Sans', Arial, sans-serif" textLength="59.21" lengthAdjust="spacingAndGlyphs">14.2%</text>
<path d="M545.0,1326.3V1178.0H546.2V1172.0H547.4V1220.0H548.6V1217.0H549.8V1288.0H551.0V1285.3H552.2V1308.1H553.4V1312.8H554.6V1317.7H555.8V1318.9H557.0V1318.9H558.2V1323.2H559.4V1324.2H560.6V1324.4H561.8V1323.2H563.0V1324.6H564.2V1324.3H565.4V1325.7H566.6V1322.4H567.8V1324.5H569.0V1324.6H570.2V1323.8H571.4V1325.5H572.6V1323.2H573.8V1323.8H575.0V1324.0H576.2V1324.4H577.4V1324.1H578.6V1323.8H579.8V1323.8H581.0V1323.4H582.2V1323.6H583.4V1323.7H584.6V1323.4H585.8V1324.4H587.0V1325.4H588.2V1324.0H589.4V1325.6H590.6V1324.7H591.8V1324.6H593.0V1324.7H594.2V1323.3H595.4V1323.6H596.6V1323.9H597.8V1324.1H599.0V1323.7H600.2V1324.1H601.4V1324.3H602.6V1323.9H603.8V1324.7H605.0V1323.9H606.2V1322.7H607.4V1323.5H608.6V1324.6H609.8V1323.6H611.0V1324.4H612.2V1324.3H613.4V1324.1H614.6V1323.2H615.8V1324.4H617.0V1324.1H618.2V1324.1H619.4V1324.4H620.6V1323.5H621.8V1323.9H623.0V1323.6H624.2V1323.9H625.4V1323.9H626.6V1324.5H627.8V1323.2H629.0V1324.5H630.2V1322.3H631.4V1323.4H632.6V1323.7H633.8V1324.0H635.0V1323.5H636.2V1324.3H637.4V1325.5H638.6V1323.7H639.8V1323.9H641.0V1323.3H642.2V1323.1H643.4V1324.3H644.6V1314.5H645.8V1282.7H647.0V1292.7H648.2V1245.1H649.4V1248.6H650.6V1245.0H651.8V1177.5H653.0V1162.5H654.2V1160.3H655.4V1093.2H656.6V1085.9H657.8V1085.9H659.0V1122.4H660.2V1120.9H661.4V1117.6H662.6V1130.1H663.8V1146.1H665.0V1174.5H666.2V1216.9H667.4V1223.4H668.6V1223.6H669.8V1250.5H671.0V1252.4H672.2V1250.4H673.4V1257.1H674.6V1257.5H675.8V1280.5H677.0V1281.1H678.2V1279.5H679.4V1284.1H680.6V1285.5H681.8V1286.3H683.0V1286.6H684.2V1284.5H685.4V1289.7H686.6V1295.4H687.8V1293.2H689.0V1297.2H690.2V1295.2H691.4V1297.8H692.6V1295.4H693.8V1299.7H695.0V1305.0H696.2V1297.2H697.4V1307.1H698.6V1302.8H699.8V1305.3H701.0V1304.3H702.2V1304.6H703.4V1303.4H704.6V1302.9H705.8V1307.4H707.0V1305.2H708.2V1306.7H709.4V1304.8H710.6V1303.9H711.8V1306.8H713.0V1302.8H714.2V1305.4H715.4V1305.6H716.6V1301.7H717.8V1301.7H719.0V1306.4H720.2V1303.8H721.4V1304.4H722.6V1301.8H723.8V1302.4H725.0V1302.6H726.2V1304.3H727.4V1302.1H728.6V1303.5H729.8V1299.5H731.0V1311.3H732.2V1309.3H733.4V1309.0H734.6V1310.4H735.8V1303.2H737.0V1302.4H738.2V1298.2H739.4V1300.9H740.6V1299.2H741.8V1300.5H743.0V1307.2H744.2V1287.2H745.4V1288.4H746.6V1293.0H747.8V1286.5H749.0V1291.8H750.2V1285.2H751.4V1280.0H752.6V1278.8H753.8V1279.5H755.0V1275.8H756.2V1280.8H757.4V1270.9H758.6V1284.4H759.8V1295.6H761.0V1283.1H762.2V1280.9H763.4V1272.7H764.6V1268.9H765.8V1274.5H767.0V1265.3H768.2V1281.1H769.4V1281.4H770.6V1285.9H771.8V1279.5H773.0V1301.0H774.2V1301.0H775.4V1303.8H776.6V1304.3H777.8V1300.5H779.0V1307.5H780.2V1307.8H781.4V1307.8H782.6V1308.8H783.8V1306.5H785.0V1322.4H786.2V1323.9H787.4V1323.1H788.6V1322.7H789.8V1322.9H791.0V1322.5H792.2V1322.9H793.4V1324.4H794.6V1323.5H795.8V1322.6H797.0V1322.3H798.2V1322.9H799.4V1321.6H800.6V1322.8H801.8V1322.4H803.0V1322.2H804.2V1322.5H805.4V1321.7H806.6V1322.7H807.8V1323.0H809.0V1321.9H810.2V1322.8H811.4V1322.8H812.6V1322.4H813.8V1322.2H815.0V1322.6H815.8V1326.3Z" fill="#000"/>
<rect x="545.0" y="1085.4" width="270.8" height="240.9" fill="none" stroke="#2626d8" stroke-width="2"/>
<line x1="545.00" y1="1084.40" x2="545.00" y2="1327.30" stroke="#14146e" stroke-width="3.2"/>
<line x1="535.00" y1="1326.30" x2="545.00" y2="1326.30" stroke="#2626d8" stroke-width="2"/>
<text x="527.00" y="1330.80" font-size="15.5" font-weight="bold" fill="#2e1eb0" font-family="'Liberation Serif', 'Times New Roman', serif" textLength="9.00" lengthAdjust="spacingAndGlyphs" transform="rotate(-90 527.00 1330.80)">0</text>
<line x1="535.00" y1="1266.08" x2="545.00" y2="1266.08" stroke="#2626d8" stroke-width="2"/>
<text x="527.00" y="1273.78" font-size="15.5" font-weight="bold" fill="#2e1eb0" font-family="'Liberation Serif', 'Times New Roman', serif" textLength="15.40" lengthAdjust="spacingAndGlyphs" transform="rotate(-90 527.00 1273.78)">50</text>
<line x1="535.00" y1="1205.85" x2="545.00" y2="1205.85" stroke="#2626d8" stroke-width="2"/>
<text x="527.00" y="1218.85" font-size="15.5" font-weight="bold" fill="#2e1eb0" font-family="'Liberation Serif', 'Times New Roman', serif" textLength="26.00" lengthAdjust="spacingAndGlyphs" transform="rotate(-90 527.00 1218.85)">100</text>
<line x1="535.00" y1="1145.62" x2="545.00" y2="1145.62" stroke="#2626d8" stroke-width="2"/>
<text x="527.00" y="1158.62" font-size="15.5" font-weight="bold" fill="#2e1eb0" font-family="'Liberation Serif', 'Times New Roman', serif" textLength="26.00" lengthAdjust="spacingAndGlyphs" transform="rotate(-90 527.00 1158.62)">150</text>
<line x1="535.00" y1="1085.40" x2="545.00" y2="1085.40" stroke="#2626d8" stroke-width="2"/>
<text x="527.00" y="1098.90" font-size="15.5" font-weight="bold" fill="#2e1eb0" font-family="'Liberation Serif', 'Times New Roman', serif" textLength="27.00" lengthAdjust="spacingAndGlyphs" transform="rotate(-90 527.00 1098.90)">200</text>
<line x1="545.00" y1="1326.30" x2="545.00" y2="1335.30" stroke="#2626d8" stroke-width="2"/>
<line x1="664.37" y1="1326.30" x2="664.37" y2="1335.30" stroke="#2626d8" stroke-width="2"/>
<line x1="783.76" y1="1326.30" x2="783.76" y2="1335.30" stroke="#2626d8" stroke-width="2"/>
<line x1="815.80" y1="1326.30" x2="815.80" y2="1335.30" stroke="#2626d8" stroke-width="2"/>
<text x="537.30" y="1354.60" font-size="16.5" font-weight="bold" fill="#2e1eb0" font-family="'Liberation Serif', 'Times New Roman', serif" textLength="7.70" lengthAdjust="spacingAndGlyphs">0</text>
<text x="634.17" y="1354.60" font-size="16.5" font-weight="bold" fill="#2e1eb0" font-family="'Liberation Serif', 'Times New Roman', serif" textLength="61.80" lengthAdjust="spacingAndGlyphs">500,000</text>
<text x="780.80" y="1354.60" font-size="16.5" font-weight="bold" fill="#2e1eb0" font-family="'Liberation Serif', 'Times New Roman', serif" textLength="75.00" lengthAdjust="spacingAndGlyphs">1,134,177</text>
<line x1="547.0" y1="1280.7" x2="650.0" y2="1280.7" stroke="#d8234a" stroke-width="2.1" stroke-dasharray="10,7.5"/>
<line x1="650.0" y1="1265.3" x2="650.0" y2="1294.3" stroke="#d8234a" stroke-width="2.4" stroke-dasharray="8,5"/>
<line x1="546.5" y1="1265.3" x2="546.5" y2="1294.3" stroke="#d8234a" stroke-width="2.4" stroke-dasharray="8,5"/>
<text x="559.50" y="1256.10" font-size="19.2" font-weight="normal" fill="#d8234a" font-family="'Liberation Sans', Arial, sans-serif" textLength="22.80" lengthAdjust="spacingAndGlyphs">M1</text>
<text x="559.80" y="1275.80" font-size="22.3" font-weight="normal" fill="#d8234a" font-family="'Liberation Sans', Arial, sans-serif" textLength="59.21" lengthAdjust="spacingAndGlyphs">17.0%</text>
<path d="M928.2,1327.2V1086.8H929.4V1086.8H930.6V1086.8H931.8V1151.7H933.0V1163.3H934.2V1227.3H935.4V1260.6H936.6V1258.4H937.8V1302.9H939.0V1301.8H940.2V1311.1H941.4V1311.9H942.6V1309.5H943.8V1319.8H945.0V1320.3H946.2V1320.8H947.4V1320.2H948.6V1325.4H949.8V1324.4H951.0V1324.5H952.2V1324.3H953.4V1324.9H954.6V1324.1H955.8V1325.3H957.0V1324.2H958.2V1324.0H959.4V1324.7H960.6V1324.0H961.8V1323.7H963.0V1325.4H964.2V1325.2H965.4V1325.5H966.6V1324.4H967.8V1325.2H969.0V1325.7H970.2V1324.9H971.4V1325.5H972.6V1323.8H973.8V1324.9H975.0V1324.5H976.2V1325.3H977.4V1325.5H978.6V1324.6H979.8V1324.3H981.0V1325.3H982.2V1325.5H983.4V1325.0H984.6V1324.5H985.8V1325.1H987.0V1324.0H988.2V1324.6H989.4V1324.1H990.6V1325.4H991.8V1325.6H993.0V1325.4H994.2V1325.1H995.4V1324.2H996.6V1324.6H997.8V1324.7H999.0V1325.5H1000.2V1324.6H1001.4V1325.0H1002.6V1324.8H1003.8V1325.1H1005.0V1325.5H1006.2V1324.8H1007.4V1324.4H1008.6V1325.2H1009.8V1324.6H1011.0V1323.7H1012.2V1324.3H1013.4V1324.0H1014.6V1325.0H1015.8V1324.5H1017.0V1325.3H1018.2V1324.7H1019.4V1325.2H1020.6V1324.9H1021.8V1325.6H1023.0V1316.3H1024.2V1316.9H1025.4V1316.6H1026.6V1317.2H1027.8V1308.2H1029.0V1299.5H1030.2V1295.9H1031.4V1271.0H1032.6V1261.4H1033.8V1225.8H1035.0V1170.2H1036.2V1165.1H1037.4V1125.8H1038.6V1135.5H1039.8V1128.2H1041.0V1125.8H1042.2V1164.1H1043.4V1145.4H1044.6V1151.9H1045.8V1164.9H1047.0V1217.6H1048.2V1215.8H1049.4V1246.4H1050.6V1269.5H1051.8V1265.2H1053.0V1282.1H1054.2V1291.0H1055.4V1280.9H1056.6V1291.7H1057.8V1292.2H1059.0V1285.1H1060.2V1297.0H1061.4V1306.1H1062.6V1308.3H1063.8V1308.9H1065.0V1309.7H1066.2V1311.0H1067.4V1308.0H1068.6V1307.5H1069.8V1306.1H1071.0V1308.6H1072.2V1315.1H1073.4V1310.2H1074.6V1315.8H1075.8V1308.6H1077.0V1307.2H1078.2V1310.0H1079.4V1308.3H1080.6V1308.4H1081.8V1305.8H1083.0V1310.9H1084.2V1311.9H1085.4V1311.1H1086.6V1311.7H1087.8V1309.8H1089.0V1310.9H1090.2V1311.2H1091.4V1311.6H1092.6V1302.6H1093.8V1310.0H1095.0V1311.1H1096.2V1310.3H1097.4V1312.0H1098.6V1316.8H1099.8V1310.2H1101.0V1310.8H1102.2V1315.9H1103.4V1314.6H1104.6V1315.3H1105.8V1314.3H1107.0V1315.8H1108.2V1314.7H1109.4V1314.6H1110.6V1313.9H1111.8V1314.2H1113.0V1314.8H1114.2V1315.0H1115.4V1313.9H1116.6V1321.2H1117.8V1310.6H1119.0V1308.7H1120.2V1305.5H1121.4V1301.3H1122.6V1307.4H1123.8V1306.2H1125.0V1296.4H1126.2V1298.1H1127.4V1297.1H1128.6V1298.3H1129.8V1301.2H1131.0V1301.5H1132.2V1299.8H1133.4V1297.9H1134.6V1295.8H1135.8V1299.0H1137.0V1299.1H1138.2V1297.7H1139.4V1294.8H1140.6V1295.3H1141.8V1294.3H1143.0V1295.3H1144.2V1288.7H1145.4V1297.1H1146.6V1296.2H1147.8V1292.6H1149.0V1305.5H1150.2V1305.9H1151.4V1303.6H1152.6V1307.0H1153.8V1304.3H1155.0V1307.1H1156.2V1314.3H1157.4V1314.6H1158.6V1315.0H1159.8V1314.3H1161.0V1315.0H1162.2V1313.5H1163.4V1324.0H1164.6V1324.8H1165.8V1323.9H1167.0V1324.8H1168.2V1324.2H1169.4V1326.3H1170.6V1325.8H1171.8V1324.9H1173.0V1325.5H1174.2V1326.0H1175.4V1324.5H1176.6V1325.7H1177.8V1324.6H1179.0V1325.7H1180.2V1326.2H1181.4V1324.4H1182.6V1325.6H1183.8V1325.0H1185.0V1324.8H1186.2V1326.1H1187.4V1325.4H1188.6V1325.7H1189.8V1325.1H1191.0V1325.4H1192.2V1326.1H1193.4V1325.4H1194.6V1325.0H1195.8V1325.6H1197.0V1325.1H1198.2V1325.7H1199.3V1327.2Z" fill="#000"/>
<rect x="928.2" y="1086.8" width="271.1" height="240.4" fill="none" stroke="#2626d8" stroke-width="2"/>
<line x1="928.20" y1="1085.80" x2="928.20" y2="1328.20" stroke="#14146e" stroke-width="3.2"/>
<line x1="918.20" y1="1327.20" x2="928.20" y2="1327.20" stroke="#2626d8" stroke-width="2"/>
<text x="910.20" y="1331.70" font-size="15.5" font-weight="bold" fill="#2e1eb0" font-family="'Liberation Serif', 'Times New Roman', serif" textLength="9.00" lengthAdjust="spacingAndGlyphs" transform="rotate(-90 910.20 1331.70)">0</text>
<line x1="918.20" y1="1267.10" x2="928.20" y2="1267.10" stroke="#2626d8" stroke-width="2"/>
<text x="910.20" y="1274.80" font-size="15.5" font-weight="bold" fill="#2e1eb0" font-family="'Liberation Serif', 'Times New Roman', serif" textLength="15.40" lengthAdjust="spacingAndGlyphs" transform="rotate(-90 910.20 1274.80)">50</text>
<line x1="918.20" y1="1207.00" x2="928.20" y2="1207.00" stroke="#2626d8" stroke-width="2"/>
<text x="910.20" y="1220.00" font-size="15.5" font-weight="bold" fill="#2e1eb0" font-family="'Liberation Serif', 'Times New Roman', serif" textLength="26.00" lengthAdjust="spacingAndGlyphs" transform="rotate(-90 910.20 1220.00)">100</text>
<line x1="918.20" y1="1146.90" x2="928.20" y2="1146.90" stroke="#2626d8" stroke-width="2"/>
<text x="910.20" y="1159.90" font-size="15.5" font-weight="bold" fill="#2e1eb0" font-family="'Liberation Serif', 'Times New Roman', serif" textLength="26.00" lengthAdjust="spacingAndGlyphs" transform="rotate(-90 910.20 1159.90)">150</text>
<line x1="918.20" y1="1086.80" x2="928.20" y2="1086.80" stroke="#2626d8" stroke-width="2"/>
<text x="910.20" y="1100.30" font-size="15.5" font-weight="bold" fill="#2e1eb0" font-family="'Liberation Serif', 'Times New Roman', serif" textLength="27.00" lengthAdjust="spacingAndGlyphs" transform="rotate(-90 910.20 1100.30)">200</text>
<line x1="928.20" y1="1327.20" x2="928.20" y2="1336.20" stroke="#2626d8" stroke-width="2"/>
<line x1="1047.70" y1="1327.20" x2="1047.70" y2="1336.20" stroke="#2626d8" stroke-width="2"/>
<line x1="1167.23" y1="1327.20" x2="1167.23" y2="1336.20" stroke="#2626d8" stroke-width="2"/>
<line x1="1199.30" y1="1327.20" x2="1199.30" y2="1336.20" stroke="#2626d8" stroke-width="2"/>
<text x="920.50" y="1355.50" font-size="16.5" font-weight="bold" fill="#2e1eb0" font-family="'Liberation Serif', 'Times New Roman', serif" textLength="7.70" lengthAdjust="spacingAndGlyphs">0</text>
<text x="1017.51" y="1355.50" font-size="16.5" font-weight="bold" fill="#2e1eb0" font-family="'Liberation Serif', 'Times New Roman', serif" textLength="61.80" lengthAdjust="spacingAndGlyphs">500,000</text>
<text x="1164.30" y="1355.50" font-size="16.5" font-weight="bold" fill="#2e1eb0" font-family="'Liberation Serif', 'Times New Roman', serif" textLength="75.00" lengthAdjust="spacingAndGlyphs">1,134,177</text>
<line x1="930.2" y1="1281.6" x2="1033.2" y2="1281.6" stroke="#d8234a" stroke-width="2.1" stroke-dasharray="10,7.5"/>
<line x1="1033.2" y1="1266.2" x2="1033.2" y2="1295.2" stroke="#d8234a" stroke-width="2.4" stroke-dasharray="8,5"/>
<line x1="929.7" y1="1266.2" x2="929.7" y2="1295.2" stroke="#d8234a" stroke-width="2.4" stroke-dasharray="8,5"/>
<text x="953.90" y="1257.00" font-size="19.2" font-weight="normal" fill="#d8234a" font-family="'Liberation Sans', Arial, sans-serif" textLength="22.80" lengthAdjust="spacingAndGlyphs">M1</text>
<text x="954.20" y="1276.70" font-size="22.3" font-weight="normal" fill="#d8234a" font-family="'Liberation Sans', Arial, sans-serif" textLength="59.21" lengthAdjust="spacingAndGlyphs">31.0%</text>
<path d="M1286.7,1329.4V1087.7H1287.9V1087.7H1289.1V1087.7H1290.3V1178.9H1291.5V1280.9H1292.7V1281.7H1293.9V1281.4H1295.1V1308.9H1296.3V1310.8H1297.5V1324.7H1298.7V1324.1H1299.9V1324.6H1301.1V1324.6H1302.3V1326.8H1303.5V1327.0H1304.7V1328.4H1305.9V1328.1H1307.1V1327.8H1308.3V1327.8H1309.5V1328.3H1310.7V1327.1H1311.9V1328.4H1313.1V1327.2H1314.3V1327.2H1315.5V1327.8H1316.7V1327.9H1317.9V1327.6H1319.1V1327.5H1320.3V1328.7H1321.5V1328.2H1322.7V1327.3H1323.9V1327.6H1325.1V1327.8H1326.3V1328.1H1327.5V1328.0H1328.7V1328.0H1329.9V1326.1H1331.1V1328.2H1332.3V1326.8H1333.5V1327.3H1334.7V1327.5H1335.9V1327.5H1337.1V1327.8H1338.3V1326.7H1339.5V1327.3H1340.7V1327.6H1341.9V1327.6H1343.1V1327.5H1344.3V1328.2H1345.5V1327.8H1346.7V1327.9H1347.9V1327.3H1349.1V1327.3H1350.3V1328.6H1351.5V1327.7H1352.7V1327.1H1353.9V1328.3H1355.1V1328.2H1356.3V1327.1H1357.5V1327.7H1358.7V1327.8H1359.9V1328.2H1361.1V1327.5H1362.3V1327.9H1363.5V1327.5H1364.7V1327.4H1365.9V1327.2H1367.1V1327.8H1368.3V1327.9H1369.5V1327.6H1370.7V1327.6H1371.9V1327.5H1373.1V1327.9H1374.3V1327.7H1375.5V1327.9H1376.7V1322.6H1377.9V1322.0H1379.1V1321.2H1380.3V1307.4H1381.5V1273.3H1382.7V1273.6H1383.9V1272.0H1385.1V1231.2H1386.3V1219.8H1387.5V1192.8H1388.7V1087.7H1389.9V1087.7H1391.1V1087.7H1392.3V1087.7H1393.5V1087.7H1394.7V1087.7H1395.9V1087.7H1397.1V1121.3H1398.3V1131.6H1399.5V1152.3H1400.7V1199.1H1401.9V1236.6H1403.1V1231.7H1404.3V1274.7H1405.5V1273.2H1406.7V1298.5H1407.9V1307.8H1409.1V1311.8H1410.3V1319.2H1411.5V1317.9H1412.7V1319.5H1413.9V1320.0H1415.1V1319.5H1416.3V1317.4H1417.5V1319.0H1418.7V1317.9H1419.9V1317.8H1421.1V1319.0H1422.3V1317.7H1423.5V1314.3H1424.7V1314.9H1425.9V1316.3H1427.1V1322.6H1428.3V1313.9H1429.5V1314.1H1430.7V1315.1H1431.9V1313.6H1433.1V1315.0H1434.3V1314.5H1435.5V1314.0H1436.7V1317.1H1437.9V1312.1H1439.1V1314.5H1440.3V1313.3H1441.5V1317.2H1442.7V1316.9H1443.9V1317.6H1445.1V1316.2H1446.3V1315.2H1447.5V1316.4H1448.7V1316.0H1449.9V1315.7H1451.1V1315.6H1452.3V1316.8H1453.5V1316.5H1454.7V1314.6H1455.9V1320.2H1457.1V1316.9H1458.3V1316.3H1459.5V1314.3H1460.7V1313.4H1461.9V1313.4H1463.1V1312.3H1464.3V1315.4H1465.5V1306.6H1466.7V1312.1H1467.9V1312.5H1469.1V1312.5H1470.3V1309.7H1471.5V1311.4H1472.7V1306.7H1473.9V1299.7H1475.1V1302.6H1476.3V1299.8H1477.5V1303.0H1478.7V1302.0H1479.9V1300.3H1481.1V1296.9H1482.3V1303.0H1483.5V1301.6H1484.7V1298.9H1485.9V1296.1H1487.1V1298.1H1488.3V1297.5H1489.5V1301.1H1490.7V1295.4H1491.9V1294.8H1493.1V1295.9H1494.3V1297.7H1495.5V1299.4H1496.7V1296.7H1497.9V1294.7H1499.1V1308.3H1500.3V1307.8H1501.5V1308.0H1502.7V1302.6H1503.9V1309.0H1505.1V1307.3H1506.3V1303.6H1507.5V1311.9H1508.7V1312.6H1509.9V1315.7H1511.1V1310.4H1512.3V1323.9H1513.5V1325.4H1514.7V1325.3H1515.9V1325.8H1517.1V1326.0H1518.3V1325.3H1519.5V1325.0H1520.7V1326.5H1521.9V1328.7H1523.1V1328.2H1524.3V1327.2H1525.5V1328.2H1526.7V1328.8H1527.9V1327.7H1529.1V1327.8H1530.3V1327.2H1531.5V1328.0H1532.7V1327.1H1533.9V1328.5H1535.1V1327.7H1536.3V1328.1H1537.5V1328.7H1538.7V1328.3H1539.9V1327.5H1541.1V1327.6H1542.3V1328.3H1543.5V1327.6H1544.7V1327.7H1545.9V1327.7H1547.1V1328.0H1548.3V1328.0H1549.5V1328.5H1550.7V1328.2H1551.9V1328.1H1553.1V1328.5H1554.3V1328.3H1555.5V1328.0H1556.7V1328.0H1557.9V1327.6H1558.8V1329.4Z" fill="#000"/>
<rect x="1286.7" y="1087.7" width="272.1" height="241.7" fill="none" stroke="#2626d8" stroke-width="2"/>
<line x1="1286.70" y1="1086.70" x2="1286.70" y2="1330.40" stroke="#14146e" stroke-width="3.2"/>
<line x1="1276.70" y1="1329.40" x2="1286.70" y2="1329.40" stroke="#2626d8" stroke-width="2"/>
<text x="1268.70" y="1333.90" font-size="15.5" font-weight="bold" fill="#2e1eb0" font-family="'Liberation Serif', 'Times New Roman', serif" textLength="9.00" lengthAdjust="spacingAndGlyphs" transform="rotate(-90 1268.70 1333.90)">0</text>
<line x1="1276.70" y1="1268.98" x2="1286.70" y2="1268.98" stroke="#2626d8" stroke-width="2"/>
<text x="1268.70" y="1276.68" font-size="15.5" font-weight="bold" fill="#2e1eb0" font-family="'Liberation Serif', 'Times New Roman', serif" textLength="15.40" lengthAdjust="spacingAndGlyphs" transform="rotate(-90 1268.70 1276.68)">50</text>
<line x1="1276.70" y1="1208.55" x2="1286.70" y2="1208.55" stroke="#2626d8" stroke-width="2"/>
<text x="1268.70" y="1221.55" font-size="15.5" font-weight="bold" fill="#2e1eb0" font-family="'Liberation Serif', 'Times New Roman', serif" textLength="26.00" lengthAdjust="spacingAndGlyphs" transform="rotate(-90 1268.70 1221.55)">100</text>
<line x1="1276.70" y1="1148.12" x2="1286.70" y2="1148.12" stroke="#2626d8" stroke-width="2"/>
<text x="1268.70" y="1161.12" font-size="15.5" font-weight="bold" fill="#2e1eb0" font-family="'Liberation Serif', 'Times New Roman', serif" textLength="26.00" lengthAdjust="spacingAndGlyphs" transform="rotate(-90 1268.70 1161.12)">150</text>
<line x1="1276.70" y1="1087.70" x2="1286.70" y2="1087.70" stroke="#2626d8" stroke-width="2"/>
<text x="1268.70" y="1101.20" font-size="15.5" font-weight="bold" fill="#2e1eb0" font-family="'Liberation Serif', 'Times New Roman', serif" textLength="27.00" lengthAdjust="spacingAndGlyphs" transform="rotate(-90 1268.70 1101.20)">200</text>
<line x1="1286.70" y1="1329.40" x2="1286.70" y2="1338.40" stroke="#2626d8" stroke-width="2"/>
<line x1="1406.64" y1="1329.40" x2="1406.64" y2="1338.40" stroke="#2626d8" stroke-width="2"/>
<line x1="1526.61" y1="1329.40" x2="1526.61" y2="1338.40" stroke="#2626d8" stroke-width="2"/>
<line x1="1558.80" y1="1329.40" x2="1558.80" y2="1338.40" stroke="#2626d8" stroke-width="2"/>
<text x="1279.00" y="1357.70" font-size="16.5" font-weight="bold" fill="#2e1eb0" font-family="'Liberation Serif', 'Times New Roman', serif" textLength="7.70" lengthAdjust="spacingAndGlyphs">0</text>
<text x="1376.45" y="1357.70" font-size="16.5" font-weight="bold" fill="#2e1eb0" font-family="'Liberation Serif', 'Times New Roman', serif" textLength="61.80" lengthAdjust="spacingAndGlyphs">500,000</text>
<text x="1523.80" y="1357.70" font-size="16.5" font-weight="bold" fill="#2e1eb0" font-family="'Liberation Serif', 'Times New Roman', serif" textLength="75.00" lengthAdjust="spacingAndGlyphs">1,134,177</text>
<line x1="1288.7" y1="1283.8" x2="1391.7" y2="1283.8" stroke="#d8234a" stroke-width="2.1" stroke-dasharray="10,7.5"/>
<line x1="1391.7" y1="1268.4" x2="1391.7" y2="1297.4" stroke="#d8234a" stroke-width="2.4" stroke-dasharray="8,5"/>
<line x1="1288.2" y1="1268.4" x2="1288.2" y2="1297.4" stroke="#d8234a" stroke-width="2.4" stroke-dasharray="8,5"/>
<text x="1302.50" y="1259.20" font-size="19.2" font-weight="normal" fill="#d8234a" font-family="'Liberation Sans', Arial, sans-serif" textLength="22.80" lengthAdjust="spacingAndGlyphs">M1</text>
<text x="1302.80" y="1278.90" font-size="22.3" font-weight="normal" fill="#d8234a" font-family="'Liberation Sans', Arial, sans-serif" textLength="59.21" lengthAdjust="spacingAndGlyphs">40.5%</text>
<text x="288.00" y="1380.80" font-size="26.5" font-weight="bold" fill="#000" font-family="'Liberation Serif', 'Times New Roman', serif" textLength="82.20" lengthAdjust="spacingAndGlyphs">Control</text>
<text x="660.00" y="1381.00" font-size="26.5" font-weight="bold" fill="#000" font-family="'Liberation Serif', 'Times New Roman', serif" textLength="28.00" lengthAdjust="spacingAndGlyphs">25</text>
<text x="1033.30" y="1381.00" font-size="26.5" font-weight="bold" fill="#000" font-family="'Liberation Serif', 'Times New Roman', serif" textLength="25.50" lengthAdjust="spacingAndGlyphs">50</text>
<text x="1414.00" y="1382.50" font-size="26.5" font-weight="bold" fill="#000" font-family="'Liberation Serif', 'Times New Roman', serif" textLength="38.00" lengthAdjust="spacingAndGlyphs">100</text>
<line x1="624.70" y1="1388.20" x2="1520.40" y2="1388.20" stroke="#000" stroke-width="2.2"/>
<text x="1028.50" y="1416.50" font-size="26" font-weight="bold" fill="#000" font-family="'Liberation Serif', 'Times New Roman', serif" textLength="161.21" lengthAdjust="spacingAndGlyphs">CANE (µg/ml)</text>
<rect x="147.6" y="1372.4" width="12" height="1.6" fill="#9a9a9a"/>
<rect x="510" y="1372.4" width="14" height="1.6" fill="#c0c0c0"/>
</svg></body></html>
